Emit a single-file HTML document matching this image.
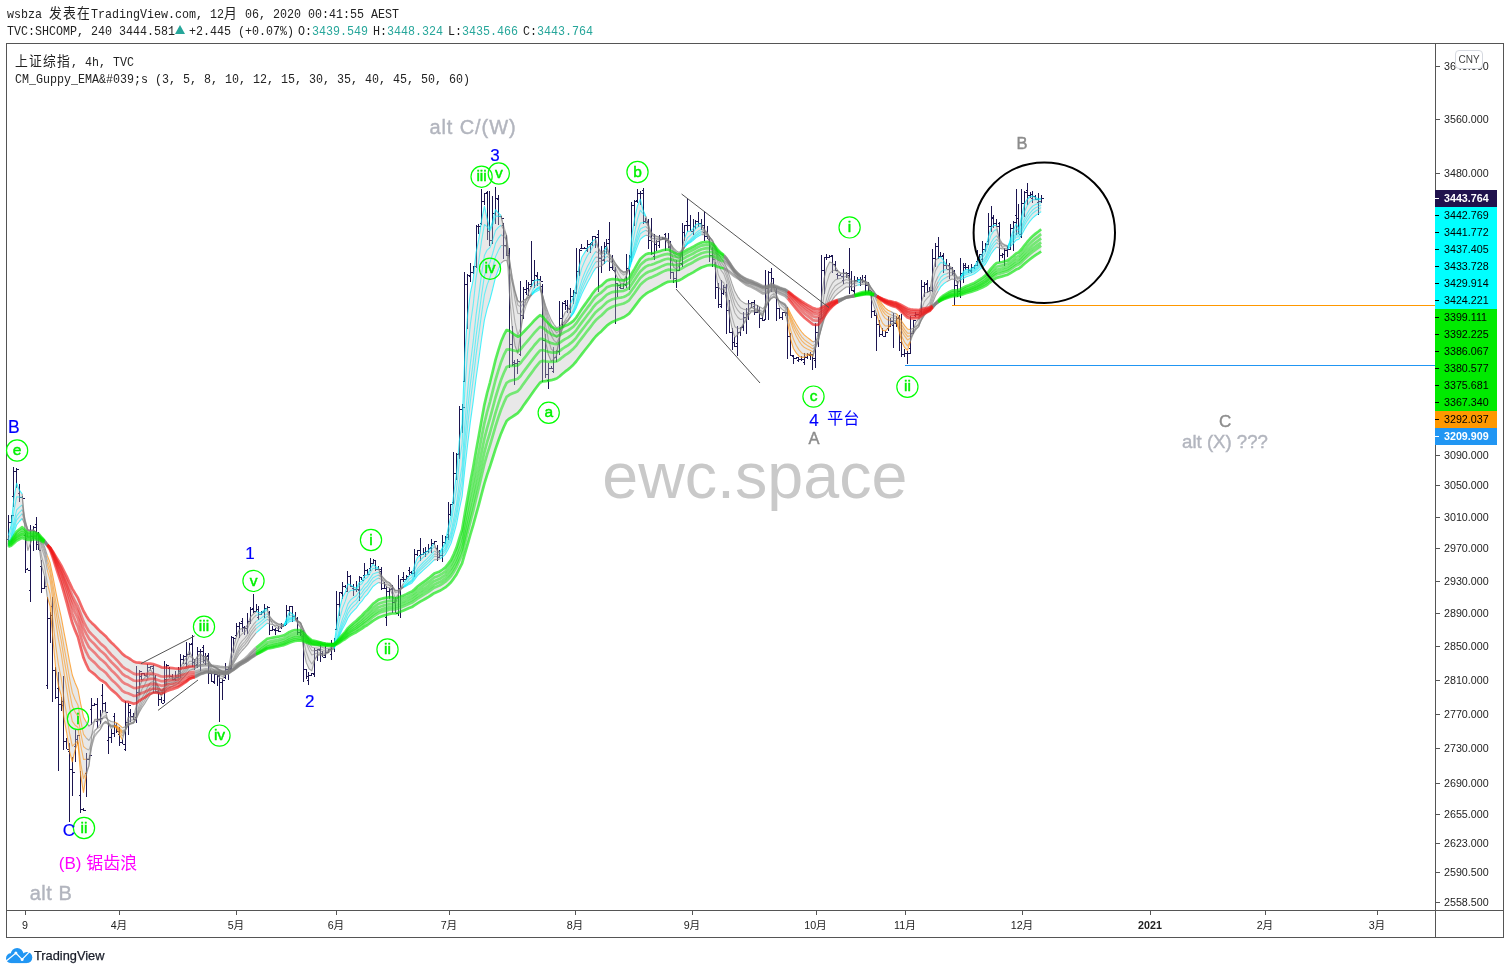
<!DOCTYPE html>
<html lang="zh"><head><meta charset="utf-8"><title>SHCOMP chart</title>
<style>
html,body{margin:0;padding:0;background:#fff;}
body{width:1510px;height:974px;position:relative;overflow:hidden;font-family:"Liberation Mono", "Noto Sans CJK SC", monospace;color:#222;}
.h{position:absolute;white-space:pre;font-size:12.75px;line-height:14px;transform-origin:0 0;transform:scaleX(0.915);letter-spacing:0;}
.h .cj{font-size:14px;letter-spacing:1.3px}
.t{color:#26a69a}
.tri{position:absolute;left:175px;top:25px;width:0;height:0;border-left:5.2px solid transparent;border-right:5.2px solid transparent;border-bottom:9px solid #26a69a}
</style></head><body>
<div class="h" style="left:6.7px;top:7px">wsbza <span class="cj">发表在</span>TradingView.com, 12<span class="cj">月</span> 06, 2020 00:41:55 AEST</div>
<div class="h" style="left:6.7px;top:25px">TVC:SHCOMP, 240 3444.581</div>
<div class="tri"></div>
<div class="h" style="left:188.7px;top:25px">+2.445 (+0.07%)</div>
<div class="h" style="left:298px;top:25px">O:<span class="t">3439.549</span></div>
<div class="h" style="left:373px;top:25px">H:<span class="t">3448.324</span></div>
<div class="h" style="left:448px;top:25px">L:<span class="t">3435.466</span></div>
<div class="h" style="left:523px;top:25px">C:<span class="t">3443.764</span></div>
<div class="h" style="left:14.7px;top:54.5px"><span class="cj">上证综指</span>, 4h, TVC</div>
<div class="h" style="left:15px;top:72.5px">CM_Guppy_EMA&amp;#039;s (3, 5, 8, 10, 12, 15, 30, 35, 40, 45, 50, 60)</div>
<svg width="1510" height="974" viewBox="0 0 1510 974" style="position:absolute;left:0;top:0" font-family='&quot;Liberation Sans&quot;, &quot;Noto Sans CJK SC&quot;, sans-serif'>
<g stroke="#555" stroke-width="1" fill="none" shape-rendering="crispEdges">
<rect x="6.5" y="43.5" width="1497" height="894"/>
<line x1="1435.5" y1="43.5" x2="1435.5" y2="937.5"/>
<line x1="6.5" y1="910.5" x2="1503.5" y2="910.5"/>
</g>
<text x="754.8" y="498" text-anchor="middle" font-size="64.6" fill="#c9c9c9" font-family="&quot;Liberation Sans&quot;, sans-serif">ewc.space</text>
<defs><clipPath id="pane"><rect x="7" y="44" width="1428" height="866"/></clipPath></defs>
<g clip-path="url(#pane)">
<path d="M8.5 515.2V545.3M6.5 539.5H8.5M8.5 522.5H10.5M11.5 515.3V522.0M9.5 522.5H11.5M11.5 515.5H13.5M13.5 466.9V507.3M11.5 496.5H13.5M13.5 471.5H15.5M16.5 468.1V488.0M14.5 471.5H16.5M16.5 469.5H18.5M19.5 483.9V501.8M17.5 493.5H19.5M19.5 497.5H21.5M22.5 496.4V498.2M20.5 497.5H22.5M22.5 498.5H24.5M25.5 533.3V572.5M23.5 535.5H25.5M25.5 569.5H27.5M27.5 568.1V569.9M25.5 569.5H27.5M27.5 570.5H29.5M30.5 524.6V601.7M28.5 590.5H30.5M30.5 536.5H32.5M33.5 526.4V550.5M31.5 536.5H33.5M33.5 527.5H35.5M36.5 516.7V550.0M34.5 524.5H36.5M36.5 544.5H38.5M38.5 531.8V549.8M36.5 544.5H38.5M38.5 550.5H40.5M41.5 560.4V592.7M39.5 566.5H41.5M41.5 588.5H43.5M44.5 576.2V588.2M42.5 588.5H44.5M44.5 586.5H46.5M47.5 596.8V689.0M45.5 685.5H47.5M47.5 618.5H49.5M50.5 612.4V642.5M48.5 618.5H50.5M50.5 615.5H52.5M52.5 596.8V701.7M50.5 606.5H52.5M52.5 670.5H54.5M55.5 667.4V698.8M53.5 670.5H55.5M55.5 697.5H57.5M58.5 672.1V770.8M56.5 688.5H58.5M58.5 704.5H60.5M61.5 696.5V710.9M59.5 704.5H61.5M61.5 705.5H63.5M63.5 675.5V749.9M61.5 701.5H63.5M63.5 741.5H65.5M66.5 738.4V749.3M64.5 741.5H66.5M66.5 749.5H68.5M69.5 742.9V822.2M67.5 751.5H69.5M69.5 769.5H71.5M72.5 757.3V796.2M70.5 769.5H72.5M72.5 772.5H74.5M75.5 730.0V762.1M73.5 746.5H75.5M75.5 739.5H77.5M77.5 734.6V743.5M75.5 739.5H77.5M77.5 735.5H79.5M80.5 770.8V813.3M78.5 795.5H80.5M80.5 809.5H82.5M83.5 808.4V811.2M81.5 809.5H83.5M83.5 810.5H85.5M86.5 753.4V797.3M84.5 773.5H86.5M86.5 759.5H88.5M89.5 754.7V760.1M87.5 759.5H89.5M89.5 755.5H91.5M91.5 698.3V724.8M89.5 709.5H91.5M91.5 705.5H93.5M94.5 702.8V705.7M92.5 705.5H94.5M94.5 704.5H96.5M97.5 698.3V728.3M95.5 721.5H97.5M97.5 719.5H99.5M100.5 709.6V723.8M98.5 719.5H100.5M100.5 718.5H102.5M102.5 683.9V712.8M100.5 695.5H102.5M102.5 703.5H104.5M105.5 701.6V711.8M103.5 703.5H105.5M105.5 712.5H107.5M108.5 723.1V754.2M106.5 740.5H108.5M108.5 737.5H110.5M111.5 728.9V742.7M109.5 737.5H111.5M111.5 733.5H113.5M114.5 712.8V736.9M112.5 716.5H114.5M114.5 725.5H116.5M116.5 723.4V733.1M114.5 725.5H116.5M116.5 731.5H118.5M119.5 726.7V746.0M117.5 734.5H119.5M119.5 742.5H121.5M122.5 738.9V744.3M120.5 742.5H122.5M122.5 744.5H124.5M125.5 700.8V750.5M123.5 749.5H125.5M125.5 722.5H127.5M128.5 702.7V735.4M126.5 722.5H128.5M128.5 705.5H130.5M130.5 709.1V721.8M128.5 712.5H130.5M130.5 716.5H132.5M133.5 713.0V719.6M131.5 716.5H133.5M133.5 719.5H135.5M136.5 666.0V723.1M134.5 717.5H136.5M136.5 692.5H138.5M139.5 669.5V695.0M137.5 692.5H139.5M139.5 671.5H141.5M141.5 673.2V680.4M139.5 676.5H141.5M141.5 673.5H143.5M144.5 673.2V675.6M142.5 673.5H144.5M144.5 675.5H146.5M147.5 663.8V678.2M145.5 676.5H147.5M147.5 667.5H149.5M150.5 665.5V668.7M148.5 667.5H150.5M150.5 666.5H152.5M153.5 665.1V692.7M151.5 668.5H153.5M153.5 678.5H155.5M155.5 675.0V691.8M153.5 678.5H155.5M155.5 691.5H157.5M158.5 689.6V705.8M156.5 692.5H158.5M158.5 699.5H160.5M161.5 697.2V702.8M159.5 699.5H161.5M161.5 703.5H163.5M164.5 661.3V703.3M162.5 700.5H164.5M164.5 679.5H166.5M166.5 664.2V685.1M164.5 679.5H166.5M166.5 665.5H168.5M169.5 666.7V678.3M167.5 668.5H169.5M169.5 676.5H171.5M172.5 673.6V680.0M170.5 676.5H172.5M172.5 679.5H174.5M175.5 671.1V680.6M173.5 678.5H175.5M175.5 677.5H177.5M178.5 667.4V677.1M176.5 677.5H178.5M178.5 671.5H180.5M180.5 654.0V678.3M178.5 673.5H180.5M180.5 659.5H182.5M183.5 655.3V664.2M181.5 659.5H183.5M183.5 656.5H185.5M186.5 641.6V667.2M184.5 663.5H186.5M186.5 654.5H188.5M189.5 642.9V655.3M187.5 654.5H189.5M189.5 644.5H191.5M192.5 634.6V666.5M190.5 643.5H192.5M192.5 662.5H194.5M194.5 658.8V669.5M192.5 662.5H194.5M194.5 665.5H196.5M197.5 647.3V668.0M195.5 664.5H197.5M197.5 651.5H199.5M200.5 649.1V670.5M198.5 651.5H200.5M200.5 651.5H202.5M203.5 644.5V662.9M201.5 647.5H203.5M203.5 660.5H205.5M205.5 653.3V665.0M203.5 660.5H205.5M205.5 656.5H207.5M208.5 652.7V684.0M206.5 655.5H208.5M208.5 673.5H210.5M211.5 672.4V681.5M209.5 673.5H211.5M211.5 681.5H213.5M214.5 671.0V683.9M212.5 682.5H214.5M214.5 674.5H216.5M217.5 673.7V685.5M215.5 674.5H217.5M217.5 675.5H219.5M219.5 673.9V722.0M217.5 676.5H219.5M219.5 682.5H221.5M222.5 679.3V700.4M220.5 682.5H222.5M222.5 680.5H224.5M225.5 663.4V678.5M223.5 677.5H225.5M225.5 669.5H227.5M228.5 666.5V679.9M226.5 669.5H228.5M228.5 669.5H230.5M231.5 636.2V670.1M229.5 668.5H231.5M231.5 637.5H233.5M233.5 636.8V652.7M231.5 637.5H233.5M233.5 638.5H235.5M236.5 623.3V637.1M234.5 635.5H236.5M236.5 626.5H238.5M239.5 621.6V638.2M237.5 626.5H239.5M239.5 623.5H241.5M242.5 618.4V631.9M240.5 621.5H242.5M242.5 627.5H244.5M244.5 626.3V634.8M242.5 627.5H244.5M244.5 628.5H246.5M247.5 612.7V633.8M245.5 628.5H247.5M247.5 621.5H249.5M250.5 607.2V624.2M248.5 621.5H250.5M250.5 609.5H252.5M253.5 594.0V613.3M251.5 608.5H253.5M253.5 611.5H255.5M256.5 603.8V611.8M254.5 611.5H256.5M256.5 609.5H258.5M258.5 606.0V620.3M256.5 617.5H258.5M258.5 614.5H260.5M261.5 611.4V613.9M259.5 614.5H261.5M261.5 612.5H263.5M264.5 604.2V617.8M262.5 611.5H264.5M264.5 608.5H266.5M267.5 606.4V610.0M265.5 608.5H267.5M267.5 607.5H269.5M269.5 611.0V635.0M267.5 612.5H269.5M269.5 630.5H271.5M272.5 626.1V629.8M270.5 630.5H272.5M272.5 629.5H274.5M275.5 627.6V634.6M273.5 630.5H275.5M275.5 630.5H277.5M278.5 626.1V631.6M276.5 630.5H278.5M278.5 631.5H280.5M281.5 623.3V628.7M279.5 627.5H281.5M281.5 626.5H283.5M283.5 624.5V626.7M281.5 626.5H283.5M283.5 625.5H285.5M286.5 604.6V624.6M284.5 621.5H286.5M286.5 610.5H288.5M289.5 606.1V615.9M287.5 610.5H289.5M289.5 606.5H291.5M292.5 606.3V622.4M290.5 606.5H292.5M292.5 616.5H294.5M295.5 611.9V620.0M293.5 616.5H295.5M295.5 618.5H297.5M297.5 616.7V634.5M295.5 620.5H297.5M297.5 632.5H299.5M300.5 630.4V636.4M298.5 632.5H300.5M300.5 631.5H302.5M303.5 629.6V681.5M301.5 636.5H303.5M303.5 669.5H305.5M306.5 669.2V678.5M304.5 669.5H306.5M306.5 676.5H308.5M308.5 671.8V684.7M306.5 680.5H308.5M308.5 675.5H310.5M311.5 673.0V676.3M309.5 675.5H311.5M311.5 673.5H313.5M314.5 647.6V677.4M312.5 674.5H314.5M314.5 650.5H316.5M317.5 648.6V660.8M315.5 650.5H317.5M317.5 649.5H319.5M320.5 644.9V661.6M318.5 650.5H320.5M320.5 653.5H322.5M322.5 650.7V657.2M320.5 653.5H322.5M322.5 657.5H324.5M325.5 645.7V657.5M323.5 655.5H325.5M325.5 652.5H327.5M328.5 648.5V652.9M326.5 652.5H328.5M328.5 649.5H330.5M331.5 639.8V659.7M329.5 654.5H331.5M331.5 643.5H333.5M334.5 637.8V651.7M332.5 643.5H334.5M334.5 644.5H336.5M336.5 591.1V629.6M334.5 629.5H336.5M336.5 604.5H338.5M339.5 592.1V616.3M337.5 604.5H339.5M339.5 592.5H341.5M342.5 582.2V598.9M340.5 593.5H342.5M342.5 586.5H344.5M345.5 585.4V587.7M343.5 586.5H345.5M345.5 588.5H347.5M347.5 570.9V592.0M345.5 591.5H347.5M347.5 576.5H349.5M350.5 575.4V587.0M348.5 576.5H350.5M350.5 586.5H352.5M353.5 584.1V596.1M351.5 588.5H353.5M353.5 589.5H355.5M356.5 581.3V592.4M354.5 589.5H356.5M356.5 589.5H358.5M359.5 575.6V600.8M357.5 590.5H359.5M359.5 577.5H361.5M361.5 577.0V580.4M359.5 577.5H361.5M361.5 580.5H363.5M364.5 563.0V578.2M362.5 575.5H364.5M364.5 570.5H366.5M367.5 569.1V575.0M365.5 570.5H367.5M367.5 574.5H369.5M370.5 558.4V571.1M368.5 568.5H370.5M370.5 563.5H372.5M373.5 559.2V563.3M371.5 563.5H373.5M373.5 560.5H375.5M375.5 559.9V570.7M373.5 560.5H375.5M375.5 569.5H377.5M378.5 566.0V569.7M376.5 569.5H378.5M378.5 569.5H380.5M381.5 567.4V589.8M379.5 571.5H381.5M381.5 588.5H383.5M384.5 582.1V588.3M382.5 588.5H384.5M384.5 588.5H386.5M386.5 586.0V626.0M384.5 617.5H386.5M386.5 591.5H388.5M389.5 587.5V599.2M387.5 591.5H389.5M389.5 589.5H391.5M392.5 584.8V613.2M390.5 588.5H392.5M392.5 602.5H394.5M395.5 596.7V613.2M393.5 602.5H395.5M395.5 613.5H397.5M398.5 574.6V616.0M396.5 613.5H398.5M398.5 588.5H400.5M400.5 578.6V617.9M398.5 588.5H400.5M400.5 579.5H402.5M403.5 571.8V582.4M401.5 577.5H403.5M403.5 579.5H405.5M406.5 575.0V579.9M404.5 579.5H406.5M406.5 576.5H408.5M409.5 567.1V574.7M407.5 570.5H409.5M409.5 572.5H411.5M411.5 570.9V573.6M409.5 572.5H411.5M411.5 573.5H413.5M414.5 549.2V576.8M412.5 570.5H414.5M414.5 554.5H416.5M417.5 550.3V556.0M415.5 554.5H417.5M417.5 550.5H419.5M420.5 538.0V561.1M418.5 555.5H420.5M420.5 554.5H422.5M423.5 548.3V554.1M421.5 554.5H423.5M423.5 552.5H425.5M425.5 546.9V557.1M423.5 552.5H425.5M425.5 551.5H427.5M428.5 544.4V552.9M426.5 551.5H428.5M428.5 548.5H430.5M431.5 538.8V552.6M429.5 547.5H431.5M431.5 543.5H433.5M434.5 540.8V544.5M432.5 543.5H434.5M434.5 541.5H436.5M437.5 545.1V560.7M435.5 548.5H437.5M437.5 557.5H439.5M439.5 550.4V558.2M437.5 557.5H439.5M439.5 555.5H441.5M442.5 534.9V561.7M440.5 555.5H442.5M442.5 542.5H444.5M445.5 535.9V544.2M443.5 542.5H445.5M445.5 537.5H447.5M448.5 502.4V539.7M446.5 534.5H448.5M448.5 514.5H450.5M450.5 503.8V516.3M448.5 514.5H450.5M450.5 504.5H452.5M453.5 452.4V503.9M451.5 502.5H453.5M453.5 473.5H455.5M456.5 453.3V480.3M454.5 473.5H456.5M456.5 454.5H458.5M459.5 405.5V458.8M457.5 453.5H459.5M459.5 409.5H461.5M462.5 403.5V432.9M460.5 409.5H462.5M462.5 407.5H464.5M464.5 272.3V381.3M462.5 381.5H464.5M464.5 284.5H466.5M467.5 273.8V328.8M465.5 284.5H467.5M467.5 275.5H469.5M470.5 263.4V282.4M468.5 276.5H470.5M470.5 272.5H472.5M473.5 265.9V273.8M471.5 272.5H473.5M473.5 266.5H475.5M476.5 225.1V268.1M474.5 266.5H476.5M476.5 226.5H478.5M478.5 224.2V233.8M476.5 226.5H478.5M478.5 226.5H480.5M481.5 188.6V225.3M479.5 223.5H481.5M481.5 201.5H483.5M484.5 192.5V205.0M482.5 201.5H484.5M484.5 193.5H486.5M487.5 191.4V239.9M485.5 192.5H487.5M487.5 231.5H489.5M489.5 190.7V246.0M487.5 231.5H489.5M489.5 240.5H491.5M492.5 196.1V243.6M490.5 240.5H492.5M492.5 213.5H494.5M495.5 187.3V224.1M493.5 213.5H495.5M495.5 198.5H497.5M498.5 195.4V224.6M496.5 199.5H498.5M498.5 216.5H500.5M501.5 215.9V218.6M499.5 216.5H501.5M501.5 218.5H503.5M503.5 223.0V259.4M501.5 225.5H503.5M503.5 245.5H505.5M506.5 234.9V255.5M504.5 245.5H506.5M506.5 255.5H508.5M509.5 247.5V367.9M507.5 253.5H509.5M509.5 344.5H511.5M512.5 326.3V365.6M510.5 344.5H512.5M512.5 364.5H514.5M514.5 360.4V385.0M512.5 362.5H514.5M514.5 363.5H516.5M517.5 359.0V373.9M515.5 363.5H517.5M517.5 361.5H519.5M520.5 280.9V355.8M518.5 354.5H520.5M520.5 315.5H522.5M523.5 286.9V319.4M521.5 315.5H523.5M523.5 289.5H525.5M526.5 280.3V294.6M524.5 292.5H526.5M526.5 288.5H528.5M528.5 282.3V296.1M526.5 288.5H528.5M528.5 284.5H530.5M531.5 241.0V287.3M529.5 286.5H531.5M531.5 280.5H533.5M534.5 259.9V287.9M532.5 280.5H534.5M534.5 275.5H536.5M537.5 272.3V285.9M535.5 276.5H537.5M537.5 279.5H539.5M540.5 275.9V281.0M538.5 279.5H540.5M540.5 281.5H542.5M542.5 284.3V382.0M540.5 286.5H542.5M542.5 340.5H544.5M545.5 334.3V377.9M543.5 340.5H545.5M545.5 374.5H547.5M548.5 362.8V389.0M546.5 380.5H548.5M548.5 368.5H550.5M551.5 365.5V369.2M549.5 368.5H551.5M551.5 368.5H553.5M553.5 347.3V373.2M551.5 371.5H553.5M553.5 357.5H555.5M556.5 350.0V362.3M554.5 357.5H556.5M556.5 351.5H558.5M559.5 301.0V354.5M557.5 351.5H559.5M559.5 318.5H561.5M562.5 302.0V327.8M560.5 318.5H562.5M562.5 303.5H564.5M565.5 300.2V309.7M563.5 301.5H565.5M565.5 305.5H567.5M567.5 299.5V312.7M565.5 305.5H567.5M567.5 308.5H569.5M570.5 287.6V312.7M568.5 309.5H570.5M570.5 296.5H572.5M573.5 289.9V304.3M571.5 296.5H573.5M573.5 292.5H575.5M576.5 247.6V294.4M574.5 293.5H576.5M576.5 271.5H578.5M579.5 249.3V275.6M577.5 271.5H579.5M579.5 250.5H581.5M581.5 244.1V249.4M579.5 248.5H581.5M581.5 248.5H583.5M584.5 247.4V248.3M582.5 248.5H584.5M584.5 248.5H586.5M587.5 239.6V252.0M585.5 250.5H587.5M587.5 244.5H589.5M590.5 242.7V253.2M588.5 244.5H590.5M590.5 244.5H592.5M592.5 235.8V245.7M590.5 242.5H592.5M592.5 236.5H594.5M595.5 235.8V248.4M593.5 236.5H595.5M595.5 237.5H597.5M598.5 230.1V292.0M596.5 234.5H598.5M598.5 258.5H600.5M601.5 246.0V273.4M599.5 258.5H601.5M601.5 260.5H603.5M604.5 241.9V263.8M602.5 259.5H604.5M604.5 246.5H606.5M606.5 239.2V254.0M604.5 246.5H606.5M606.5 243.5H608.5M609.5 222.0V271.2M607.5 239.5H609.5M609.5 267.5H611.5M612.5 254.5V270.4M610.5 267.5H612.5M612.5 270.5H614.5M615.5 266.7V324.0M613.5 271.5H615.5M615.5 283.5H617.5M617.5 283.2V296.9M615.5 283.5H617.5M617.5 285.5H619.5M620.5 284.4V288.8M618.5 287.5H620.5M620.5 288.5H622.5M623.5 282.6V288.5M621.5 288.5H623.5M623.5 284.5H625.5M626.5 254.2V288.1M624.5 285.5H626.5M626.5 268.5H628.5M629.5 255.3V290.1M627.5 268.5H629.5M629.5 256.5H631.5M631.5 201.9V261.5M629.5 257.5H631.5M631.5 205.5H633.5M634.5 199.8V225.5M632.5 205.5H634.5M634.5 201.5H636.5M637.5 189.4V203.3M635.5 200.5H637.5M637.5 193.5H639.5M640.5 191.4V205.3M638.5 193.5H640.5M640.5 193.5H642.5M643.5 187.6V223.6M641.5 190.5H643.5M643.5 221.5H645.5M645.5 218.2V222.7M643.5 221.5H645.5M645.5 222.5H647.5M648.5 219.2V248.9M646.5 221.5H648.5M648.5 240.5H650.5M651.5 218.3V254.8M649.5 240.5H651.5M651.5 253.5H653.5M654.5 233.9V260.1M652.5 256.5H654.5M654.5 244.5H656.5M656.5 240.1V251.1M654.5 244.5H656.5M656.5 241.5H658.5M659.5 235.4V247.6M657.5 245.5H659.5M659.5 239.5H661.5M662.5 237.0V240.2M660.5 239.5H662.5M662.5 238.5H664.5M665.5 233.1V251.3M663.5 234.5H665.5M665.5 240.5H667.5M668.5 232.6V248.4M666.5 240.5H668.5M668.5 246.5H670.5M670.5 240.7V278.7M668.5 247.5H670.5M670.5 272.5H672.5M673.5 271.5V283.1M671.5 272.5H673.5M673.5 278.5H675.5M676.5 259.5V288.2M674.5 280.5H676.5M676.5 270.5H678.5M679.5 263.0V270.1M677.5 270.5H679.5M679.5 263.5H681.5M682.5 222.9V266.6M680.5 264.5H682.5M682.5 232.5H684.5M684.5 224.6V240.5M682.5 232.5H684.5M684.5 225.5H686.5M687.5 198.0V232.2M685.5 221.5H687.5M687.5 225.5H689.5M690.5 214.7V231.2M688.5 225.5H690.5M690.5 231.5H692.5M693.5 218.9V234.8M691.5 231.5H693.5M693.5 226.5H695.5M695.5 219.8V229.2M693.5 226.5H695.5M695.5 221.5H697.5M698.5 212.2V227.0M696.5 221.5H698.5M698.5 223.5H700.5M701.5 218.6V229.8M699.5 223.5H701.5M701.5 225.5H703.5M704.5 211.0V241.1M702.5 232.5H704.5M704.5 236.5H706.5M707.5 225.8V238.8M705.5 236.5H707.5M707.5 239.5H709.5M709.5 235.7V262.4M707.5 239.5H709.5M709.5 255.5H711.5M712.5 247.0V267.1M710.5 255.5H712.5M712.5 259.5H714.5M715.5 261.9V299.4M713.5 264.5H715.5M715.5 287.5H717.5M718.5 283.0V307.5M716.5 287.5H718.5M718.5 304.5H720.5M721.5 279.8V307.9M719.5 306.5H721.5M721.5 293.5H723.5M723.5 285.1V294.9M721.5 293.5H723.5M723.5 287.5H725.5M726.5 284.3V334.2M724.5 292.5H726.5M726.5 310.5H728.5M729.5 300.2V332.8M727.5 310.5H729.5M729.5 332.5H731.5M732.5 327.5V350.0M730.5 332.5H732.5M732.5 342.5H734.5M734.5 337.1V347.4M732.5 342.5H734.5M734.5 346.5H736.5M737.5 325.7V356.0M735.5 343.5H737.5M737.5 332.5H739.5M740.5 326.9V335.5M738.5 332.5H740.5M740.5 327.5H742.5M743.5 311.7V331.0M741.5 326.5H743.5M743.5 317.5H745.5M746.5 308.3V334.1M744.5 317.5H746.5M746.5 314.5H748.5M748.5 300.0V319.7M746.5 314.5H748.5M748.5 303.5H750.5M751.5 301.8V308.1M749.5 303.5H751.5M751.5 302.5H753.5M754.5 299.7V314.5M752.5 306.5H754.5M754.5 312.5H756.5M757.5 305.3V312.5M755.5 312.5H757.5M757.5 310.5H759.5M759.5 307.2V327.6M757.5 310.5H759.5M759.5 318.5H761.5M762.5 314.5V321.2M760.5 318.5H762.5M762.5 320.5H764.5M765.5 269.5V319.7M763.5 319.5H765.5M765.5 288.5H767.5M768.5 271.3V320.3M766.5 288.5H768.5M768.5 272.5H770.5M771.5 267.9V291.5M769.5 272.5H771.5M771.5 278.5H773.5M773.5 277.9V287.6M771.5 278.5H773.5M773.5 287.5H775.5M776.5 288.2V321.4M774.5 292.5H776.5M776.5 308.5H778.5M779.5 307.5V319.0M777.5 308.5H779.5M779.5 317.5H781.5M782.5 312.0V320.1M780.5 317.5H782.5M782.5 312.5H784.5M785.5 312.0V316.0M783.5 312.5H785.5M785.5 313.5H787.5M787.5 307.3V359.3M785.5 312.5H787.5M787.5 336.5H789.5M790.5 333.3V356.2M788.5 336.5H790.5M790.5 355.5H792.5M793.5 354.8V364.0M791.5 356.5H793.5M793.5 358.5H795.5M796.5 356.6V358.9M794.5 358.5H796.5M796.5 357.5H798.5M798.5 357.1V362.1M796.5 360.5H798.5M798.5 359.5H800.5M801.5 355.6V360.6M799.5 359.5H801.5M801.5 359.5H803.5M804.5 352.5V364.8M802.5 362.5H804.5M804.5 357.5H806.5M807.5 353.2V359.4M805.5 357.5H807.5M807.5 354.5H809.5M810.5 351.7V359.9M808.5 355.5H810.5M810.5 354.5H812.5M812.5 353.8V370.0M810.5 354.5H812.5M812.5 358.5H814.5M815.5 323.0V367.7M813.5 360.5H815.5M815.5 332.5H817.5M818.5 316.9V347.1M816.5 332.5H818.5M818.5 319.5H820.5M821.5 255.3V319.1M819.5 318.5H821.5M821.5 270.5H823.5M824.5 256.9V293.7M822.5 270.5H824.5M824.5 257.5H826.5M826.5 253.9V260.0M824.5 257.5H826.5M826.5 257.5H828.5M829.5 255.3V257.4M827.5 257.5H829.5M829.5 256.5H831.5M832.5 254.7V272.6M830.5 255.5H832.5M832.5 264.5H834.5M835.5 260.5V270.6M833.5 264.5H835.5M835.5 270.5H837.5M837.5 272.8V278.7M835.5 274.5H837.5M837.5 275.5H839.5M840.5 274.0V276.4M838.5 275.5H840.5M840.5 276.5H842.5M843.5 269.1V283.6M841.5 280.5H843.5M843.5 273.5H845.5M846.5 271.5V277.6M844.5 273.5H846.5M846.5 273.5H848.5M849.5 248.0V293.6M847.5 275.5H849.5M849.5 286.5H851.5M851.5 271.1V291.0M849.5 286.5H851.5M851.5 290.5H853.5M854.5 275.6V295.7M852.5 291.5H854.5M854.5 280.5H856.5M857.5 277.2V281.5M855.5 280.5H857.5M857.5 279.5H859.5M860.5 276.7V285.8M858.5 282.5H860.5M860.5 279.5H862.5M862.5 274.9V282.8M860.5 279.5H862.5M862.5 281.5H864.5M865.5 274.7V294.5M863.5 277.5H865.5M865.5 285.5H867.5M868.5 281.9V291.7M866.5 285.5H868.5M868.5 290.5H870.5M871.5 291.3V317.9M869.5 293.5H871.5M871.5 311.5H873.5M874.5 310.0V316.2M872.5 311.5H874.5M874.5 315.5H876.5M876.5 313.2V351.0M874.5 315.5H876.5M876.5 324.5H878.5M879.5 319.9V337.1M877.5 324.5H879.5M879.5 334.5H881.5M882.5 328.2V335.9M880.5 334.5H882.5M882.5 336.5H884.5M885.5 331.1V335.9M883.5 336.5H885.5M885.5 332.5H887.5M888.5 315.6V331.0M886.5 328.5H888.5M888.5 326.5H890.5M890.5 318.4V326.6M888.5 326.5H890.5M890.5 321.5H892.5M893.5 312.6V348.0M891.5 325.5H893.5M893.5 323.5H895.5M896.5 316.0V327.2M894.5 323.5H896.5M896.5 318.5H898.5M899.5 315.0V350.8M897.5 317.5H899.5M899.5 342.5H901.5M901.5 313.7V356.6M899.5 342.5H901.5M901.5 354.5H903.5M904.5 349.2V357.0M902.5 354.5H904.5M904.5 353.5H906.5M907.5 351.2V364.3M905.5 353.5H907.5M907.5 353.5H909.5M910.5 316.2V353.8M908.5 348.5H910.5M910.5 333.5H912.5M913.5 319.6V332.8M911.5 333.5H913.5M913.5 320.5H915.5M915.5 312.4V316.5M913.5 315.5H915.5M915.5 314.5H917.5M918.5 313.8V315.1M916.5 314.5H918.5M918.5 315.5H920.5M921.5 279.8V315.2M919.5 311.5H921.5M921.5 286.5H923.5M924.5 282.3V297.4M922.5 286.5H924.5M924.5 284.5H926.5M927.5 280.2V292.6M925.5 283.5H927.5M927.5 291.5H929.5M929.5 287.3V291.6M927.5 291.5H929.5M929.5 290.5H931.5M932.5 249.1V292.2M930.5 290.5H932.5M932.5 258.5H934.5M935.5 243.4V267.0M933.5 258.5H935.5M935.5 246.5H937.5M938.5 237.0V259.2M936.5 246.5H938.5M938.5 256.5H940.5M940.5 252.2V256.6M938.5 256.5H940.5M940.5 256.5H942.5M943.5 253.3V272.9M941.5 255.5H943.5M943.5 265.5H945.5M946.5 259.4V269.3M944.5 265.5H946.5M946.5 269.5H948.5M949.5 263.3V279.4M947.5 265.5H949.5M949.5 268.5H951.5M952.5 267.2V274.7M950.5 268.5H952.5M952.5 271.5H954.5M954.5 269.5V304.5M952.5 273.5H954.5M954.5 285.5H956.5M957.5 281.0V296.8M955.5 285.5H957.5M957.5 291.5H959.5M960.5 258.1V297.5M958.5 293.5H960.5M960.5 273.5H962.5M963.5 262.9V282.8M961.5 273.5H963.5M963.5 265.5H965.5M965.5 262.9V270.4M963.5 267.5H965.5M965.5 267.5H967.5M968.5 265.4V272.8M966.5 267.5H968.5M968.5 270.5H970.5M971.5 263.5V272.5M969.5 271.5H971.5M971.5 267.5H973.5M974.5 264.5V269.2M972.5 267.5H974.5M974.5 265.5H976.5M977.5 250.2V266.1M975.5 261.5H977.5M977.5 257.5H979.5M979.5 253.5V260.1M977.5 257.5H979.5M979.5 254.5H981.5M982.5 240.9V261.8M980.5 259.5H982.5M982.5 249.5H984.5M985.5 242.7V251.7M983.5 249.5H985.5M985.5 244.5H987.5M988.5 213.0V244.8M986.5 241.5H988.5M988.5 226.5H990.5M991.5 206.0V232.1M989.5 226.5H991.5M991.5 218.5H993.5M993.5 215.3V228.1M991.5 217.5H993.5M993.5 223.5H995.5M996.5 219.3V226.5M994.5 223.5H996.5M996.5 226.5H998.5M999.5 221.5V262.2M997.5 223.5H999.5M999.5 255.5H1001.5M1002.5 252.7V257.5M1000.5 255.5H1002.5M1002.5 254.5H1004.5M1004.5 247.7V266.0M1002.5 254.5H1004.5M1004.5 250.5H1006.5M1007.5 246.2V257.0M1005.5 250.5H1007.5M1007.5 249.5H1009.5M1010.5 223.5V249.8M1008.5 249.5H1010.5M1010.5 228.5H1012.5M1013.5 220.6V250.5M1011.5 228.5H1013.5M1013.5 222.5H1015.5M1016.5 189.3V235.0M1014.5 215.5H1016.5M1016.5 218.5H1018.5M1018.5 204.3V233.9M1016.5 218.5H1018.5M1018.5 234.5H1020.5M1021.5 188.6V237.8M1019.5 236.5H1021.5M1021.5 203.5H1023.5M1024.5 190.9V217.1M1022.5 203.5H1024.5M1024.5 192.5H1026.5M1027.5 183.1V205.0M1025.5 190.5H1027.5M1027.5 195.5H1029.5M1030.5 191.8V197.6M1028.5 195.5H1030.5M1030.5 194.5H1032.5M1032.5 191.0V203.0M1030.5 198.5H1032.5M1032.5 196.5H1034.5M1035.5 194.6V199.6M1033.5 196.5H1035.5M1035.5 199.5H1037.5M1038.5 193.0V215.0M1036.5 202.5H1038.5M1038.5 201.5H1040.5M1041.5 194.6V203.4M1039.5 201.5H1041.5M1041.5 198.5H1043.5" stroke="#1c1550" stroke-width="1" fill="none" shape-rendering="crispEdges"/>
<polygon points="6.0,540.5 8.3,535.5 11.1,525.4 13.9,497.9 16.6,483.2 19.4,490.2 22.2,493.9 25.0,531.3 27.8,550.5 30.6,543.1 33.4,535.1 36.1,539.4 38.9,544.5 41.7,566.1 44.5,575.9 47.3,596.9 50.1,606.1 52.8,637.7 55.6,667.3 58.4,685.5 61.2,695.4 64.0,718.2 66.8,733.6 69.5,751.1 72.3,761.8 75.1,750.1 77.9,742.4 80.7,775.7 83.5,792.5 86.2,775.6 89.0,765.2 91.8,735.1 94.6,719.4 97.4,719.4 100.2,718.7 103.0,710.9 105.7,711.4 108.5,723.9 111.3,728.6 114.1,726.6 116.9,728.6 119.7,735.1 122.4,739.6 125.2,730.7 128.0,717.6 130.8,716.7 133.6,717.8 136.4,705.0 139.1,687.7 141.9,680.5 144.7,677.8 147.5,672.3 150.3,669.3 153.1,673.5 155.8,682.2 158.6,690.7 161.4,696.6 164.2,687.6 167.0,676.3 169.8,676.1 172.6,677.4 175.3,677.0 178.1,674.2 180.9,666.8 183.7,661.3 186.5,657.4 189.3,650.7 192.0,656.4 194.8,660.9 197.6,655.7 200.4,653.5 203.2,656.6 206.0,656.2 208.7,664.4 211.5,672.7 214.3,673.4 217.1,674.2 219.9,678.2 222.7,678.9 225.4,674.1 228.2,671.7 231.0,654.3 233.8,646.0 236.6,635.9 239.4,629.4 242.2,628.4 244.9,628.4 247.7,624.7 250.5,616.8 253.3,614.0 256.1,611.6 258.9,612.6 261.6,612.2 264.4,610.0 267.2,608.3 270.0,619.0 272.8,624.2 275.6,627.0 278.3,628.9 281.1,627.3 283.9,626.2 286.7,617.9 289.5,612.0 292.3,614.0 295.0,616.2 297.8,623.9 300.6,627.6 303.4,648.3 306.2,662.4 309.0,668.7 311.8,670.9 314.5,660.6 317.3,654.9 320.1,654.0 322.9,655.6 325.7,653.6 328.5,651.5 331.2,647.1 334.0,645.6 336.8,624.9 339.6,608.6 342.4,597.5 345.2,592.5 347.9,584.1 350.7,585.0 353.5,587.1 356.3,588.2 359.1,582.7 361.9,581.3 364.6,575.5 367.4,574.9 370.2,569.0 373.0,564.3 375.8,566.8 378.6,568.1 381.4,578.0 384.1,582.9 386.9,587.2 389.7,588.1 392.5,594.8 395.3,603.9 398.1,595.9 400.8,587.6 403.6,583.4 406.4,579.6 409.2,575.8 412.0,574.4 414.8,564.3 417.5,557.3 420.3,555.6 423.1,553.9 425.9,552.3 428.7,550.1 431.5,546.6 434.2,543.7 437.0,550.3 439.8,552.8 442.6,547.4 445.4,542.0 448.2,527.8 451.0,516.0 453.7,494.2 456.5,474.1 459.3,441.1 462.1,423.9 464.9,352.9 467.7,313.7 470.4,292.8 473.2,279.6 476.0,252.8 478.8,239.2 481.6,219.8 484.4,206.3 487.1,218.5 489.9,229.1 492.7,221.2 495.5,209.6 498.3,212.9 501.1,215.3 503.8,230.3 506.6,242.7 509.4,292.8 512.2,328.3 515.0,345.7 517.8,353.5 520.6,334.0 523.3,311.2 526.1,299.5 528.9,291.6 531.7,286.0 534.5,280.5 537.3,279.9 540.0,280.4 542.8,309.8 545.6,341.7 548.4,354.8 551.2,361.3 554.0,359.2 556.7,355.1 559.5,336.4 562.3,319.4 565.1,312.3 567.9,310.3 570.7,303.1 573.4,297.3 576.2,284.0 579.0,267.2 581.8,257.3 584.6,252.6 587.4,248.2 590.2,245.9 592.9,240.8 595.7,239.1 598.5,248.4 601.3,254.3 604.1,250.2 606.9,246.3 609.6,256.6 612.4,263.3 615.2,273.3 618.0,279.1 620.8,283.8 623.6,283.9 626.3,275.7 629.1,265.8 631.9,235.2 634.7,218.1 637.5,205.7 640.3,199.2 643.0,209.9 645.8,216.1 648.6,228.1 651.4,240.7 654.2,242.4 657.0,241.9 659.8,240.5 662.5,239.3 665.3,239.8 668.1,243.1 670.9,257.5 673.7,267.5 676.5,268.8 679.2,265.9 682.0,249.1 684.8,237.2 687.6,231.3 690.4,231.2 693.2,228.6 695.9,224.6 698.7,223.7 701.5,224.2 704.3,230.1 707.1,234.3 709.9,244.7 712.6,252.0 715.4,269.6 718.2,286.8 721.0,289.9 723.8,288.4 726.6,299.0 729.4,315.2 732.1,328.7 734.9,337.3 737.7,334.6 740.5,331.0 743.3,323.8 746.1,318.9 748.8,311.1 751.6,306.4 754.4,309.4 757.2,309.9 760.0,313.9 762.8,317.0 765.5,302.5 768.3,287.0 771.1,282.5 773.9,284.6 776.7,296.5 779.5,306.9 782.2,309.4 785.0,311.4 787.8,323.9 790.6,339.2 793.4,348.5 796.2,352.9 799.0,356.2 801.7,357.4 804.5,357.1 807.3,355.4 810.1,354.9 812.9,356.6 815.7,344.4 818.4,331.6 821.2,300.4 824.0,278.7 826.8,267.7 829.6,261.9 832.4,263.1 835.1,266.4 837.9,270.7 840.7,273.2 843.5,273.2 846.3,273.0 849.1,279.5 851.8,284.6 854.6,282.3 857.4,280.5 860.2,279.9 863.0,280.4 865.8,282.8 868.6,286.3 871.3,298.7 874.1,306.6 876.9,315.1 879.7,324.6 882.5,330.3 885.3,331.0 888.0,328.3 890.8,324.6 893.6,323.7 896.4,321.0 899.2,331.6 902.0,342.6 904.7,347.7 907.5,350.4 910.3,341.6 913.1,330.5 915.9,322.3 918.7,318.7 921.4,302.2 924.2,293.3 927.0,292.3 929.8,291.2 932.6,274.4 935.4,260.3 938.2,258.1 940.9,257.0 943.7,260.9 946.5,264.8 949.3,266.4 952.1,268.7 954.9,277.1 957.6,284.3 960.4,278.8 963.2,272.0 966.0,269.4 968.8,269.8 971.6,268.5 974.3,266.7 977.1,261.9 979.9,257.9 982.7,253.7 985.5,248.6 988.3,237.4 991.0,227.6 993.8,225.1 996.6,225.6 999.4,240.4 1002.2,247.4 1005.0,248.7 1007.8,249.0 1010.5,238.4 1013.3,230.3 1016.1,223.9 1018.9,228.8 1021.7,215.9 1024.5,203.9 1027.2,199.3 1030.0,196.5 1032.8,196.1 1035.6,197.4 1038.4,199.0 1041.2,198.3 1041.2,211.6 1038.4,213.6 1035.6,215.5 1032.8,217.9 1030.0,221.1 1027.2,225.0 1024.5,229.4 1021.7,234.7 1018.9,239.3 1016.1,240.1 1013.3,243.4 1010.5,246.4 1007.8,249.0 1005.0,249.0 1002.2,248.9 999.4,248.1 996.6,247.1 993.8,250.1 991.0,254.0 988.3,259.2 985.5,264.0 982.7,266.9 979.9,269.4 977.1,271.7 974.3,273.7 971.6,275.0 968.8,276.1 966.0,277.0 963.2,278.4 960.4,280.3 957.6,281.3 954.9,279.8 952.1,279.0 949.3,280.2 946.5,281.9 943.7,283.8 940.9,286.5 938.2,290.9 935.4,296.0 932.6,303.2 929.8,309.7 927.0,312.6 924.2,315.6 921.4,320.1 918.7,325.0 915.9,326.5 913.1,328.2 910.3,329.5 907.5,329.0 904.7,325.6 902.0,321.7 899.2,317.2 896.4,313.7 893.6,313.0 890.8,311.6 888.0,310.3 885.3,308.1 882.5,304.7 879.7,300.3 876.9,295.5 874.1,291.5 871.3,288.2 868.6,284.9 865.8,284.3 863.0,284.1 860.2,284.6 857.4,285.3 854.6,286.3 851.8,287.2 849.1,286.8 846.3,287.0 843.5,289.0 840.7,291.2 837.9,293.5 835.1,296.1 832.4,299.9 829.6,305.1 826.8,312.1 824.0,320.1 821.2,329.3 818.4,337.9 815.7,340.7 812.9,341.9 810.1,339.5 807.3,337.4 804.5,335.1 801.7,332.0 799.0,328.2 796.2,323.8 793.4,319.0 790.6,313.6 787.8,307.8 785.0,303.7 782.2,302.3 779.5,300.9 776.7,298.6 773.9,297.2 771.1,298.7 768.3,301.7 765.5,306.0 762.8,308.6 760.0,306.9 757.2,305.4 754.4,304.6 751.6,303.5 748.8,303.8 746.1,303.9 743.3,302.4 740.5,300.4 737.7,296.6 734.9,291.6 732.1,283.9 729.4,275.7 726.6,267.8 723.8,261.9 721.0,258.3 718.2,253.4 715.4,246.2 712.6,240.4 709.9,237.7 707.1,235.2 704.3,234.8 701.5,234.6 698.7,236.0 695.9,237.9 693.2,240.4 690.4,242.5 687.6,244.1 684.8,246.8 682.0,249.9 679.2,252.4 676.5,250.9 673.7,248.2 670.9,244.0 668.1,240.0 665.3,239.1 662.5,238.9 659.8,239.1 657.0,239.1 654.2,238.7 651.4,238.0 648.6,235.8 645.8,235.2 643.0,237.0 640.3,239.4 637.5,246.1 634.7,253.7 631.9,261.3 629.1,269.5 626.3,271.4 623.6,272.0 620.8,270.3 618.0,267.7 615.2,265.2 612.4,262.6 609.6,261.6 606.9,260.8 604.1,263.5 601.3,266.0 598.5,266.8 595.7,268.1 592.9,272.5 590.2,277.8 587.4,282.7 584.6,288.3 581.8,294.1 579.0,300.8 576.2,308.1 573.4,313.5 570.7,316.7 567.9,319.6 565.1,321.3 562.3,323.6 559.5,326.6 556.7,327.8 554.0,324.5 551.2,319.9 548.4,313.2 545.6,305.4 542.8,295.8 540.0,289.6 537.3,290.9 534.5,292.5 531.7,295.0 528.9,297.1 526.1,299.0 523.3,300.6 520.6,302.3 517.8,300.6 515.0,292.0 512.2,282.0 509.4,270.5 506.6,260.2 503.8,260.9 501.1,263.1 498.3,269.7 495.5,277.4 492.7,289.0 489.9,300.0 487.1,308.8 484.4,320.1 481.6,338.8 478.8,359.3 476.0,379.0 473.2,401.6 470.4,421.6 467.7,443.7 464.9,468.8 462.1,496.5 459.3,509.6 456.5,524.3 453.7,534.5 451.0,543.5 448.2,549.2 445.4,554.3 442.6,556.8 439.8,559.0 437.0,559.5 434.2,559.9 431.5,562.6 428.7,565.4 425.9,567.9 423.1,570.4 420.3,573.0 417.5,575.7 414.8,579.3 412.0,583.0 409.2,584.4 406.4,586.1 403.6,587.6 400.8,588.8 398.1,590.2 395.3,590.5 392.5,587.3 389.7,585.3 386.9,584.7 384.1,583.8 381.4,583.2 378.6,582.5 375.8,584.4 373.0,586.5 370.2,590.4 367.4,594.4 364.6,597.2 361.9,601.2 359.1,604.2 356.3,608.1 353.5,610.8 350.7,613.9 347.9,618.0 345.2,624.1 342.4,629.3 339.6,635.5 336.8,641.7 334.0,647.1 331.2,647.6 328.5,648.2 325.7,648.1 322.9,647.6 320.1,646.2 317.3,645.3 314.5,644.7 311.8,643.9 309.0,639.7 306.2,634.8 303.4,628.8 300.6,623.1 297.8,622.0 295.0,620.6 292.3,620.9 289.5,621.6 286.7,623.8 283.9,625.9 281.1,626.0 278.3,626.0 275.6,625.3 272.8,624.7 270.0,624.0 267.2,623.2 264.4,625.6 261.6,628.1 258.9,630.5 256.1,632.9 253.3,636.3 250.5,639.9 247.7,644.4 244.9,647.7 242.2,650.5 239.4,653.8 236.6,658.2 233.8,662.9 231.0,666.5 228.2,670.7 225.4,671.0 222.7,671.2 219.9,670.0 217.1,668.3 214.3,667.3 211.5,666.3 208.7,664.2 206.0,663.0 203.2,664.1 200.4,664.7 197.6,666.6 194.8,668.9 192.0,669.4 189.3,670.5 186.5,674.3 183.7,677.3 180.9,680.4 178.1,683.4 175.3,685.1 172.6,686.3 169.8,687.4 167.0,689.1 164.2,692.5 161.4,694.5 158.6,693.3 155.8,692.5 153.1,692.7 150.3,694.9 147.5,699.0 144.7,703.6 141.9,707.7 139.1,712.7 136.4,718.8 133.6,722.6 130.8,723.1 128.0,724.1 125.2,726.9 122.4,727.7 119.7,725.3 116.9,723.0 114.1,721.9 111.3,721.5 108.5,719.9 105.7,717.5 103.0,718.3 100.2,720.5 97.4,720.9 94.6,721.1 91.8,723.6 89.0,726.1 86.2,722.1 83.5,716.9 80.7,703.9 77.9,689.2 75.1,682.8 72.3,675.0 69.5,661.4 66.8,646.4 64.0,632.1 61.2,616.9 58.4,604.6 55.6,590.7 52.8,575.9 50.1,562.8 47.3,555.4 44.5,546.5 41.7,541.0 38.9,534.4 36.1,532.2 33.4,530.5 30.6,531.0 27.8,530.4 25.0,524.8 22.2,518.5 19.4,521.5 16.6,525.0 13.9,533.2 11.1,542.2 8.3,546.1 6.0,548.0" fill="#c0c0c0" fill-opacity="0.36"/>
<polygon points="6.0,543.0 8.3,542.2 11.1,540.4 13.9,535.9 16.6,531.5 19.4,529.3 22.2,527.2 25.0,529.9 27.8,532.4 30.6,532.7 33.4,532.3 36.1,533.0 38.9,534.1 41.7,537.5 44.5,540.6 47.3,545.5 50.1,550.0 52.8,557.5 55.6,566.3 58.4,574.9 61.2,583.1 64.0,593.0 66.8,602.8 69.5,613.1 72.3,623.1 75.1,630.4 77.9,637.0 80.7,647.7 83.5,657.8 86.2,664.2 89.0,670.0 91.8,672.2 94.6,674.3 97.4,677.1 100.2,679.8 103.0,681.3 105.7,683.2 108.5,686.6 111.3,689.6 114.1,691.9 116.9,694.3 119.7,697.4 122.4,700.3 125.2,701.7 128.0,701.9 130.8,702.8 133.6,703.8 136.4,703.1 139.1,701.0 141.9,699.2 144.7,697.6 147.5,695.6 150.3,693.7 153.1,692.7 155.8,692.6 158.6,693.0 161.4,693.6 164.2,692.6 167.0,690.9 169.8,689.9 172.6,689.2 175.3,688.3 178.1,687.2 180.9,685.4 183.7,683.5 186.5,681.6 189.3,679.1 192.0,678.0 194.8,677.2 197.6,675.5 200.4,673.9 203.2,673.0 206.0,671.9 208.7,671.9 211.5,672.5 214.3,672.6 217.1,672.8 219.9,673.4 222.7,673.8 225.4,673.5 228.2,673.2 231.0,670.9 233.8,668.7 236.6,665.9 239.4,663.1 242.2,660.8 244.9,658.7 247.7,656.3 250.5,653.2 253.3,650.4 256.1,647.8 258.9,645.5 261.6,643.3 264.4,641.0 267.2,638.8 270.0,638.2 272.8,637.6 275.6,637.1 278.3,636.7 281.1,636.0 283.9,635.3 286.7,633.7 289.5,631.9 292.3,630.8 295.0,630.0 297.8,630.1 300.6,630.2 303.4,632.7 306.2,635.5 309.0,638.0 311.8,640.3 314.5,640.9 317.3,641.5 320.1,642.2 322.9,643.2 325.7,643.7 328.5,644.1 331.2,644.0 334.0,644.0 336.8,641.4 339.6,638.2 342.4,634.8 345.2,631.8 347.9,628.1 350.7,625.4 353.5,623.0 356.3,620.8 359.1,618.0 361.9,615.5 364.6,612.5 367.4,610.0 370.2,607.0 373.0,603.9 375.8,601.7 378.6,599.6 381.4,598.8 384.1,598.1 386.9,597.7 389.7,597.1 392.5,597.4 395.3,598.4 398.1,597.7 400.8,596.5 403.6,595.4 406.4,594.1 409.2,592.7 412.0,591.4 414.8,589.0 417.5,586.5 420.3,584.4 423.1,582.3 425.9,580.3 428.7,578.2 431.5,575.9 434.2,573.6 437.0,572.5 439.8,571.4 442.6,569.5 445.4,567.4 448.2,563.9 451.0,560.0 453.7,554.2 456.5,547.6 459.3,538.4 462.1,529.7 464.9,513.1 467.7,497.0 470.4,481.8 473.2,467.3 476.0,451.0 478.8,435.8 481.6,419.9 484.4,404.6 487.1,393.0 489.9,382.8 492.7,371.5 495.5,359.9 498.3,350.3 501.1,341.6 503.8,335.2 506.6,330.0 509.4,330.9 512.2,333.0 515.0,335.0 517.8,336.7 520.6,335.2 523.3,332.2 526.1,329.3 528.9,326.3 531.7,323.4 534.5,320.2 537.3,317.6 540.0,315.2 542.8,316.7 545.6,320.4 548.4,323.4 551.2,326.3 554.0,328.2 556.7,329.7 559.5,328.9 562.3,327.2 565.1,325.8 567.9,324.7 570.7,322.8 573.4,320.8 576.2,317.5 579.0,313.1 581.8,308.8 584.6,304.9 587.4,300.9 590.2,297.1 592.9,293.1 595.7,289.5 598.5,287.4 601.3,285.7 604.1,283.1 606.9,280.5 609.6,279.6 612.4,279.0 615.2,279.3 618.0,279.6 620.8,280.2 623.6,280.4 626.3,279.6 629.1,278.1 631.9,273.3 634.7,268.6 637.5,263.6 640.3,259.0 643.0,256.5 645.8,254.3 648.6,253.4 651.4,253.4 654.2,252.8 657.0,252.0 659.8,251.2 662.5,250.3 665.3,249.7 668.1,249.5 670.9,250.9 673.7,252.6 676.5,253.8 679.2,254.4 682.0,252.9 684.8,251.1 687.6,249.5 690.4,248.3 693.2,246.8 695.9,245.1 698.7,243.7 701.5,242.5 704.3,242.0 707.1,241.8 709.9,242.7 712.6,243.7 715.4,246.5 718.2,250.2 721.0,252.9 723.8,255.1 726.6,258.6 729.4,263.2 732.1,268.3 734.9,273.2 737.7,276.9 740.5,280.2 743.3,282.5 746.1,284.5 748.8,285.7 751.6,286.8 754.4,288.4 757.2,289.8 760.0,291.6 762.8,293.4 765.5,293.1 768.3,291.7 771.1,290.8 773.9,290.6 776.7,291.7 779.5,293.3 782.2,294.5 785.0,295.8 787.8,298.4 790.6,301.9 793.4,305.5 796.2,308.8 799.0,312.1 801.7,315.0 804.5,317.7 807.3,320.0 810.1,322.2 812.9,324.5 815.7,325.0 818.4,324.6 821.2,321.0 824.0,316.9 826.8,312.9 829.6,309.2 832.4,306.3 835.1,303.9 837.9,302.1 840.7,300.3 843.5,298.6 846.3,296.9 849.1,296.2 851.8,295.8 854.6,294.8 857.4,293.7 860.2,292.8 863.0,292.0 865.8,291.6 868.6,291.5 871.3,292.7 874.1,294.1 876.9,296.0 879.7,298.5 882.5,300.9 885.3,302.8 888.0,304.3 890.8,305.4 893.6,306.5 896.4,307.3 899.2,309.5 902.0,312.3 904.7,314.9 907.5,317.4 910.3,318.4 913.1,318.4 915.9,318.2 918.7,318.0 921.4,315.9 924.2,313.8 927.0,312.4 929.8,310.9 932.6,307.5 935.4,303.5 938.2,300.4 940.9,297.5 943.7,295.3 946.5,293.6 949.3,292.0 952.1,290.6 954.9,290.3 957.6,290.3 960.4,289.2 963.2,287.7 966.0,286.3 968.8,285.3 971.6,284.1 974.3,282.9 977.1,281.2 979.9,279.4 982.7,277.5 985.5,275.3 988.3,272.1 991.0,268.6 993.8,265.6 996.6,263.0 999.4,262.5 1002.2,262.0 1005.0,261.2 1007.8,260.4 1010.5,258.3 1013.3,256.0 1016.1,253.5 1018.9,252.2 1021.7,249.0 1024.5,245.3 1027.2,242.0 1030.0,238.8 1032.8,236.0 1035.6,233.6 1038.4,231.5 1041.2,229.3 1041.2,251.5 1038.4,253.4 1035.6,255.2 1032.8,257.1 1030.0,259.3 1027.2,261.5 1024.5,263.8 1021.7,266.3 1018.9,268.4 1016.1,269.6 1013.3,271.4 1010.5,273.1 1007.8,274.7 1005.0,275.5 1002.2,276.4 999.4,277.1 996.6,277.9 993.8,279.7 991.0,281.6 988.3,283.8 985.5,285.8 982.7,287.2 979.9,288.5 977.1,289.7 974.3,290.8 971.6,291.7 968.8,292.5 966.0,293.3 963.2,294.2 960.4,295.2 957.6,295.9 954.9,296.1 952.1,296.4 949.3,297.3 946.5,298.3 943.7,299.3 940.9,300.5 938.2,302.0 935.4,303.6 932.6,305.6 929.8,307.2 927.0,307.8 924.2,308.3 921.4,309.2 918.7,310.0 915.9,309.8 913.1,309.6 910.3,309.3 907.5,308.5 904.7,307.0 902.0,305.5 899.2,303.9 896.4,302.6 893.6,302.0 890.8,301.3 888.0,300.7 885.3,299.8 882.5,298.8 879.7,297.5 876.9,296.3 874.1,295.4 871.3,294.7 868.6,294.1 865.8,294.3 863.0,294.6 860.2,295.1 857.4,295.6 854.6,296.2 851.8,296.7 849.1,297.0 846.3,297.3 843.5,298.2 840.7,299.0 837.9,299.8 835.1,300.7 832.4,301.7 829.6,303.0 826.8,304.6 824.0,306.2 821.2,307.9 818.4,309.2 815.7,308.9 812.9,308.1 810.1,306.4 807.3,304.8 804.5,303.2 801.7,301.4 799.0,299.5 796.2,297.5 793.4,295.5 790.6,293.4 787.8,291.3 785.0,289.8 782.2,289.0 779.5,288.3 776.7,287.3 773.9,286.6 771.1,286.6 768.3,286.9 765.5,287.4 762.8,287.3 760.0,286.2 757.2,285.2 754.4,284.3 751.6,283.4 748.8,282.8 746.1,282.1 743.3,281.0 740.5,279.8 737.7,278.2 734.9,276.4 732.1,274.1 729.4,271.8 726.6,269.8 723.8,268.5 721.0,267.8 718.2,267.0 715.4,265.7 712.6,265.0 709.9,265.2 707.1,265.5 704.3,266.5 701.5,267.5 698.7,269.0 695.9,270.6 693.2,272.3 690.4,273.9 687.6,275.3 684.8,277.0 682.0,278.8 679.2,280.4 676.5,281.0 673.7,281.3 670.9,281.5 668.1,281.8 665.3,283.0 662.5,284.5 659.8,286.1 657.0,287.7 654.2,289.2 651.4,290.8 648.6,292.1 645.8,293.9 643.0,296.3 640.3,298.9 637.5,302.6 634.7,306.4 631.9,310.1 629.1,313.7 626.3,315.7 623.6,317.3 620.8,318.5 618.0,319.5 615.2,320.7 612.4,321.9 609.6,323.7 606.9,325.7 604.1,328.5 601.3,331.4 598.5,333.8 595.7,336.5 592.9,339.9 590.2,343.5 587.4,347.0 584.6,350.5 581.8,354.1 579.0,357.8 576.2,361.5 573.4,364.7 570.7,367.2 567.9,369.6 565.1,371.7 562.3,374.0 559.5,376.5 556.7,378.5 554.0,379.4 551.2,380.2 548.4,380.6 545.6,381.1 542.8,381.3 540.0,382.7 537.3,386.3 534.5,390.0 531.7,394.0 528.9,397.9 526.1,401.9 523.3,405.8 520.6,409.9 517.8,413.2 515.0,415.0 512.2,416.8 509.4,418.6 506.6,421.1 503.8,427.0 501.1,433.4 498.3,441.0 495.5,449.1 492.7,458.0 489.9,466.8 487.1,474.9 484.4,483.6 481.6,494.1 478.8,504.8 476.0,514.8 473.2,525.2 470.4,534.5 467.7,544.0 464.9,553.6 462.1,563.3 459.3,568.8 456.5,574.4 453.7,578.6 451.0,582.3 448.2,585.0 445.4,587.4 442.6,589.2 439.8,590.8 437.0,592.0 434.2,593.2 431.5,595.0 428.7,596.8 425.9,598.5 423.1,600.1 420.3,601.7 417.5,603.4 414.8,605.2 412.0,607.0 409.2,608.1 406.4,609.3 403.6,610.5 400.8,611.6 398.1,612.7 395.3,613.5 392.5,613.5 389.7,613.9 386.9,614.8 384.1,615.6 381.4,616.5 378.6,617.5 375.8,619.1 373.0,620.8 370.2,622.9 367.4,625.0 364.6,626.7 361.9,628.7 359.1,630.4 356.3,632.2 353.5,633.6 350.7,635.2 347.9,636.9 345.2,639.0 342.4,640.7 339.6,642.6 336.8,644.3 334.0,645.7 331.2,645.7 328.5,645.8 325.7,645.7 322.9,645.5 320.1,645.1 317.3,644.8 314.5,644.7 311.8,644.5 309.0,643.5 306.2,642.5 303.4,641.3 300.6,640.4 297.8,640.7 295.0,641.0 292.3,641.8 289.5,642.7 286.7,643.9 283.9,645.1 281.1,645.8 278.3,646.5 275.6,647.0 272.8,647.6 270.0,648.2 267.2,648.8 264.4,650.3 261.6,651.7 258.9,653.1 256.1,654.4 253.3,656.0 250.5,657.5 247.7,659.2 244.9,660.5 242.2,661.6 239.4,662.7 236.6,664.1 233.8,665.4 231.0,666.4 228.2,667.3 225.4,667.3 222.7,667.2 219.9,666.8 217.1,666.3 214.3,666.0 211.5,665.7 208.7,665.2 206.0,664.9 203.2,665.3 200.4,665.4 197.6,665.9 194.8,666.4 192.0,666.5 189.3,666.6 186.5,667.4 183.7,667.9 180.9,668.3 178.1,668.6 175.3,668.5 172.6,668.2 169.8,667.9 167.0,667.6 164.2,667.7 161.4,667.3 158.6,666.1 155.8,665.0 153.1,664.1 150.3,663.7 147.5,663.6 144.7,663.5 141.9,663.1 139.1,662.7 136.4,662.5 133.6,661.5 130.8,659.5 128.0,657.7 125.2,656.1 122.4,653.9 119.7,650.9 116.9,647.9 114.1,645.1 111.3,642.5 108.5,639.5 105.7,636.2 103.0,633.7 100.2,631.4 97.4,628.5 94.6,625.5 91.8,622.9 89.0,620.1 86.2,615.7 83.5,611.0 80.7,604.6 77.9,597.9 75.1,593.4 72.3,588.6 69.5,582.7 66.8,576.6 64.0,571.0 61.2,565.4 58.4,560.8 55.6,556.1 52.8,551.5 50.1,547.5 47.3,545.3 44.5,542.9 41.7,541.4 38.9,539.9 36.1,539.5 33.4,539.4 30.6,539.8 27.8,539.9 25.0,538.9 22.2,537.9 19.4,539.3 16.6,540.7 13.9,543.2 11.1,545.7 8.3,546.7 6.0,547.3" fill="#c0c0c0" fill-opacity="0.36"/>
<polyline points="8.3,535.5 11.1,525.4 13.9,497.9 16.6,483.2 19.4,490.2 22.2,493.9" fill="none" stroke="#00f0ff" stroke-width="1.1" stroke-opacity="0.7" stroke-linejoin="round"/>
<polyline points="22.2,493.9 25.0,531.3 27.8,550.5 30.6,543.1 33.4,535.1 36.1,539.4 38.9,544.5 41.7,566.1 44.5,575.9 47.3,596.9" fill="none" stroke="#808080" stroke-width="1.1" stroke-opacity="0.7" stroke-linejoin="round"/>
<polyline points="47.3,596.9 50.1,606.1 52.8,637.7 55.6,667.3 58.4,685.5 61.2,695.4 64.0,718.2 66.8,733.6 69.5,751.1 72.3,761.8 75.1,750.1 77.9,742.4 80.7,775.7 83.5,792.5 86.2,775.6" fill="none" stroke="#ff8c00" stroke-width="1.1" stroke-opacity="0.7" stroke-linejoin="round"/>
<polyline points="86.2,775.6 89.0,765.2 91.8,735.1 94.6,719.4 97.4,719.4 100.2,718.7 103.0,710.9 105.7,711.4 108.5,723.9 111.3,728.6 114.1,726.6" fill="none" stroke="#808080" stroke-width="1.1" stroke-opacity="0.7" stroke-linejoin="round"/>
<polyline points="114.1,726.6 116.9,728.6 119.7,735.1 122.4,739.6" fill="none" stroke="#ff8c00" stroke-width="1.1" stroke-opacity="0.7" stroke-linejoin="round"/>
<polyline points="122.4,739.6 125.2,730.7 128.0,717.6 130.8,716.7 133.6,717.8 136.4,705.0 139.1,687.7 141.9,680.5 144.7,677.8 147.5,672.3 150.3,669.3 153.1,673.5 155.8,682.2 158.6,690.7 161.4,696.6 164.2,687.6 167.0,676.3 169.8,676.1 172.6,677.4 175.3,677.0 178.1,674.2 180.9,666.8 183.7,661.3 186.5,657.4 189.3,650.7 192.0,656.4 194.8,660.9 197.6,655.7 200.4,653.5 203.2,656.6 206.0,656.2 208.7,664.4 211.5,672.7 214.3,673.4 217.1,674.2 219.9,678.2 222.7,678.9 225.4,674.1 228.2,671.7 231.0,654.3 233.8,646.0 236.6,635.9 239.4,629.4 242.2,628.4 244.9,628.4 247.7,624.7 250.5,616.8 253.3,614.0 256.1,611.6" fill="none" stroke="#808080" stroke-width="1.1" stroke-opacity="0.7" stroke-linejoin="round"/>
<polyline points="256.1,611.6 258.9,612.6 261.6,612.2 264.4,610.0 267.2,608.3" fill="none" stroke="#00f0ff" stroke-width="1.1" stroke-opacity="0.7" stroke-linejoin="round"/>
<polyline points="267.2,608.3 270.0,619.0 272.8,624.2 275.6,627.0 278.3,628.9 281.1,627.3 283.9,626.2" fill="none" stroke="#808080" stroke-width="1.1" stroke-opacity="0.7" stroke-linejoin="round"/>
<polyline points="283.9,626.2 286.7,617.9 289.5,612.0 292.3,614.0 295.0,616.2" fill="none" stroke="#00f0ff" stroke-width="1.1" stroke-opacity="0.7" stroke-linejoin="round"/>
<polyline points="295.0,616.2 297.8,623.9 300.6,627.6 303.4,648.3 306.2,662.4 309.0,668.7 311.8,670.9 314.5,660.6 317.3,654.9 320.1,654.0 322.9,655.6 325.7,653.6 328.5,651.5 331.2,647.1 334.0,645.6" fill="none" stroke="#808080" stroke-width="1.1" stroke-opacity="0.7" stroke-linejoin="round"/>
<polyline points="334.0,645.6 336.8,624.9 339.6,608.6 342.4,597.5 345.2,592.5 347.9,584.1 350.7,585.0 353.5,587.1 356.3,588.2 359.1,582.7 361.9,581.3 364.6,575.5 367.4,574.9 370.2,569.0 373.0,564.3 375.8,566.8 378.6,568.1" fill="none" stroke="#00f0ff" stroke-width="1.1" stroke-opacity="0.7" stroke-linejoin="round"/>
<polyline points="378.6,568.1 381.4,578.0 384.1,582.9 386.9,587.2 389.7,588.1 392.5,594.8 395.3,603.9 398.1,595.9 400.8,587.6 403.6,583.4" fill="none" stroke="#808080" stroke-width="1.1" stroke-opacity="0.7" stroke-linejoin="round"/>
<polyline points="403.6,583.4 406.4,579.6 409.2,575.8 412.0,574.4 414.8,564.3 417.5,557.3 420.3,555.6 423.1,553.9 425.9,552.3 428.7,550.1 431.5,546.6 434.2,543.7" fill="none" stroke="#00f0ff" stroke-width="1.1" stroke-opacity="0.7" stroke-linejoin="round"/>
<polyline points="434.2,543.7 437.0,550.3 439.8,552.8" fill="none" stroke="#808080" stroke-width="1.1" stroke-opacity="0.7" stroke-linejoin="round"/>
<polyline points="439.8,552.8 442.6,547.4 445.4,542.0 448.2,527.8 451.0,516.0 453.7,494.2 456.5,474.1 459.3,441.1 462.1,423.9 464.9,352.9 467.7,313.7 470.4,292.8 473.2,279.6 476.0,252.8 478.8,239.2 481.6,219.8 484.4,206.3 487.1,218.5 489.9,229.1 492.7,221.2 495.5,209.6 498.3,212.9 501.1,215.3" fill="none" stroke="#00f0ff" stroke-width="1.1" stroke-opacity="0.7" stroke-linejoin="round"/>
<polyline points="501.1,215.3 503.8,230.3 506.6,242.7 509.4,292.8 512.2,328.3 515.0,345.7 517.8,353.5 520.6,334.0 523.3,311.2 526.1,299.5 528.9,291.6 531.7,286.0" fill="none" stroke="#808080" stroke-width="1.1" stroke-opacity="0.7" stroke-linejoin="round"/>
<polyline points="531.7,286.0 534.5,280.5 537.3,279.9 540.0,280.4" fill="none" stroke="#00f0ff" stroke-width="1.1" stroke-opacity="0.7" stroke-linejoin="round"/>
<polyline points="540.0,280.4 542.8,309.8 545.6,341.7 548.4,354.8 551.2,361.3 554.0,359.2 556.7,355.1 559.5,336.4 562.3,319.4 565.1,312.3 567.9,310.3 570.7,303.1" fill="none" stroke="#808080" stroke-width="1.1" stroke-opacity="0.7" stroke-linejoin="round"/>
<polyline points="570.7,303.1 573.4,297.3 576.2,284.0 579.0,267.2 581.8,257.3 584.6,252.6 587.4,248.2 590.2,245.9 592.9,240.8 595.7,239.1" fill="none" stroke="#00f0ff" stroke-width="1.1" stroke-opacity="0.7" stroke-linejoin="round"/>
<polyline points="595.7,239.1 598.5,248.4 601.3,254.3 604.1,250.2" fill="none" stroke="#808080" stroke-width="1.1" stroke-opacity="0.7" stroke-linejoin="round"/>
<polyline points="604.1,250.2 606.9,246.3" fill="none" stroke="#00f0ff" stroke-width="1.1" stroke-opacity="0.7" stroke-linejoin="round"/>
<polyline points="606.9,246.3 609.6,256.6 612.4,263.3 615.2,273.3 618.0,279.1 620.8,283.8 623.6,283.9 626.3,275.7 629.1,265.8" fill="none" stroke="#808080" stroke-width="1.1" stroke-opacity="0.7" stroke-linejoin="round"/>
<polyline points="629.1,265.8 631.9,235.2 634.7,218.1 637.5,205.7 640.3,199.2 643.0,209.9 645.8,216.1" fill="none" stroke="#00f0ff" stroke-width="1.1" stroke-opacity="0.7" stroke-linejoin="round"/>
<polyline points="645.8,216.1 648.6,228.1 651.4,240.7 654.2,242.4 657.0,241.9 659.8,240.5 662.5,239.3 665.3,239.8 668.1,243.1 670.9,257.5 673.7,267.5 676.5,268.8 679.2,265.9 682.0,249.1 684.8,237.2" fill="none" stroke="#808080" stroke-width="1.1" stroke-opacity="0.7" stroke-linejoin="round"/>
<polyline points="684.8,237.2 687.6,231.3 690.4,231.2 693.2,228.6 695.9,224.6 698.7,223.7 701.5,224.2" fill="none" stroke="#00f0ff" stroke-width="1.1" stroke-opacity="0.7" stroke-linejoin="round"/>
<polyline points="701.5,224.2 704.3,230.1 707.1,234.3 709.9,244.7 712.6,252.0 715.4,269.6 718.2,286.8 721.0,289.9 723.8,288.4 726.6,299.0 729.4,315.2 732.1,328.7 734.9,337.3 737.7,334.6 740.5,331.0 743.3,323.8 746.1,318.9 748.8,311.1 751.6,306.4 754.4,309.4 757.2,309.9 760.0,313.9 762.8,317.0 765.5,302.5 768.3,287.0 771.1,282.5 773.9,284.6 776.7,296.5 779.5,306.9 782.2,309.4 785.0,311.4 787.8,323.9" fill="none" stroke="#808080" stroke-width="1.1" stroke-opacity="0.7" stroke-linejoin="round"/>
<polyline points="787.8,323.9 790.6,339.2 793.4,348.5 796.2,352.9 799.0,356.2 801.7,357.4 804.5,357.1 807.3,355.4 810.1,354.9 812.9,356.6" fill="none" stroke="#ff8c00" stroke-width="1.1" stroke-opacity="0.7" stroke-linejoin="round"/>
<polyline points="812.9,356.6 815.7,344.4 818.4,331.6 821.2,300.4 824.0,278.7 826.8,267.7 829.6,261.9 832.4,263.1 835.1,266.4 837.9,270.7 840.7,273.2 843.5,273.2 846.3,273.0 849.1,279.5 851.8,284.6 854.6,282.3 857.4,280.5" fill="none" stroke="#808080" stroke-width="1.1" stroke-opacity="0.7" stroke-linejoin="round"/>
<polyline points="857.4,280.5 860.2,279.9" fill="none" stroke="#00f0ff" stroke-width="1.1" stroke-opacity="0.7" stroke-linejoin="round"/>
<polyline points="860.2,279.9 863.0,280.4 865.8,282.8 868.6,286.3 871.3,298.7 874.1,306.6 876.9,315.1" fill="none" stroke="#808080" stroke-width="1.1" stroke-opacity="0.7" stroke-linejoin="round"/>
<polyline points="876.9,315.1 879.7,324.6 882.5,330.3 885.3,331.0 888.0,328.3 890.8,324.6" fill="none" stroke="#ff8c00" stroke-width="1.1" stroke-opacity="0.7" stroke-linejoin="round"/>
<polyline points="890.8,324.6 893.6,323.7 896.4,321.0" fill="none" stroke="#808080" stroke-width="1.1" stroke-opacity="0.7" stroke-linejoin="round"/>
<polyline points="896.4,321.0 899.2,331.6 902.0,342.6 904.7,347.7 907.5,350.4 910.3,341.6" fill="none" stroke="#ff8c00" stroke-width="1.1" stroke-opacity="0.7" stroke-linejoin="round"/>
<polyline points="910.3,341.6 913.1,330.5 915.9,322.3 918.7,318.7 921.4,302.2 924.2,293.3 927.0,292.3 929.8,291.2 932.6,274.4 935.4,260.3 938.2,258.1" fill="none" stroke="#808080" stroke-width="1.1" stroke-opacity="0.7" stroke-linejoin="round"/>
<polyline points="938.2,258.1 940.9,257.0 943.7,260.9 946.5,264.8" fill="none" stroke="#00f0ff" stroke-width="1.1" stroke-opacity="0.7" stroke-linejoin="round"/>
<polyline points="946.5,264.8 949.3,266.4 952.1,268.7 954.9,277.1 957.6,284.3 960.4,278.8" fill="none" stroke="#808080" stroke-width="1.1" stroke-opacity="0.7" stroke-linejoin="round"/>
<polyline points="960.4,278.8 963.2,272.0 966.0,269.4 968.8,269.8 971.6,268.5 974.3,266.7 977.1,261.9 979.9,257.9 982.7,253.7 985.5,248.6 988.3,237.4 991.0,227.6 993.8,225.1 996.6,225.6" fill="none" stroke="#00f0ff" stroke-width="1.1" stroke-opacity="0.7" stroke-linejoin="round"/>
<polyline points="996.6,225.6 999.4,240.4 1002.2,247.4 1005.0,248.7 1007.8,249.0" fill="none" stroke="#808080" stroke-width="1.1" stroke-opacity="0.7" stroke-linejoin="round"/>
<polyline points="1007.8,249.0 1010.5,238.4 1013.3,230.3 1016.1,223.9 1018.9,228.8 1021.7,215.9 1024.5,203.9 1027.2,199.3 1030.0,196.5 1032.8,196.1 1035.6,197.4 1038.4,199.0 1041.2,198.3" fill="none" stroke="#00f0ff" stroke-width="1.1" stroke-opacity="0.7" stroke-linejoin="round"/>
<polyline points="8.3,539.8 11.1,531.7 13.9,511.2 16.6,496.9 19.4,497.0 22.2,497.2" fill="none" stroke="#00f0ff" stroke-width="1.1" stroke-opacity="0.55" stroke-linejoin="round"/>
<polyline points="22.2,497.2 25.0,521.0 27.8,537.1 30.6,536.7 33.4,533.5 36.1,536.9 38.9,541.1 41.7,556.6 44.5,566.3 47.3,583.4" fill="none" stroke="#808080" stroke-width="1.1" stroke-opacity="0.55" stroke-linejoin="round"/>
<polyline points="47.3,583.4 50.1,594.0 52.8,619.0 55.6,644.8 58.4,664.3 61.2,677.9 64.0,698.8 66.8,715.5 69.5,733.1 72.3,746.1 75.1,743.6 77.9,740.6 80.7,763.3 83.5,778.6 86.2,772.0" fill="none" stroke="#ff8c00" stroke-width="1.1" stroke-opacity="0.55" stroke-linejoin="round"/>
<polyline points="86.2,772.0 89.0,766.2 91.8,745.8 94.6,731.7 97.4,727.6 100.2,724.4 103.0,717.3 105.7,715.5 108.5,722.5 111.3,726.1 114.1,725.6" fill="none" stroke="#808080" stroke-width="1.1" stroke-opacity="0.55" stroke-linejoin="round"/>
<polyline points="114.1,725.6 116.9,727.3 119.7,732.0 122.4,736.1" fill="none" stroke="#ff8c00" stroke-width="1.1" stroke-opacity="0.55" stroke-linejoin="round"/>
<polyline points="122.4,736.1 125.2,731.3 128.0,722.4 130.8,720.2 133.6,719.8 136.4,710.6 139.1,697.2 141.9,689.2 144.7,684.5 147.5,678.5 150.3,674.5 153.1,675.5 155.8,680.7 158.6,686.9 161.4,692.1 164.2,687.5 167.0,680.1 169.8,678.6 172.6,678.6 175.3,678.0 178.1,675.8 180.9,670.3 183.7,665.4 186.5,661.5 189.3,655.7 192.0,657.8 194.8,660.3 197.6,657.1 200.4,655.1 203.2,656.7 206.0,656.4 208.7,661.8 211.5,668.1 214.3,670.1 217.1,671.8 219.9,675.2 222.7,676.7 225.4,674.2 228.2,672.6 231.0,660.7 233.8,653.0 236.6,643.9 239.4,636.9 242.2,633.7 244.9,631.9 247.7,628.3 250.5,621.8 253.3,618.2 256.1,615.2" fill="none" stroke="#808080" stroke-width="1.1" stroke-opacity="0.55" stroke-linejoin="round"/>
<polyline points="256.1,615.2 258.9,614.7 261.6,613.7 264.4,611.7 267.2,610.0" fill="none" stroke="#00f0ff" stroke-width="1.1" stroke-opacity="0.55" stroke-linejoin="round"/>
<polyline points="267.2,610.0 270.0,616.6 272.8,620.9 275.6,623.9 278.3,626.2 281.1,626.0 283.9,625.7" fill="none" stroke="#808080" stroke-width="1.1" stroke-opacity="0.55" stroke-linejoin="round"/>
<polyline points="283.9,625.7 286.7,620.4 289.5,615.6 292.3,615.7 295.0,616.6" fill="none" stroke="#00f0ff" stroke-width="1.1" stroke-opacity="0.55" stroke-linejoin="round"/>
<polyline points="295.0,616.6 297.8,621.6 300.6,624.8 303.4,639.5 306.2,651.8 309.0,659.5 311.8,664.0 314.5,659.5 317.3,656.0 320.1,655.0 322.9,655.7 325.7,654.4 328.5,652.7 331.2,649.4 334.0,647.6" fill="none" stroke="#808080" stroke-width="1.1" stroke-opacity="0.55" stroke-linejoin="round"/>
<polyline points="334.0,647.6 336.8,633.1 339.6,619.5 342.4,608.4 345.2,601.4 347.9,592.8 350.7,590.5 353.5,590.1 356.3,589.8 359.1,585.6 361.9,583.7 364.6,579.1 367.4,577.5 370.2,572.7 373.0,568.3 375.8,568.6 378.6,568.9" fill="none" stroke="#00f0ff" stroke-width="1.1" stroke-opacity="0.55" stroke-linejoin="round"/>
<polyline points="378.6,568.9 381.4,575.2 384.1,579.4 386.9,583.4 389.7,585.3 392.5,590.7 395.3,598.1 398.1,594.7 400.8,589.6 403.6,586.1" fill="none" stroke="#808080" stroke-width="1.1" stroke-opacity="0.55" stroke-linejoin="round"/>
<polyline points="403.6,586.1 406.4,582.7 409.2,579.1 412.0,577.1 414.8,569.5 417.5,563.1 420.3,560.0 423.1,557.4 425.9,555.2 428.7,552.8 431.5,549.5 434.2,546.6" fill="none" stroke="#00f0ff" stroke-width="1.1" stroke-opacity="0.55" stroke-linejoin="round"/>
<polyline points="434.2,546.6 437.0,550.0 439.8,551.8" fill="none" stroke="#808080" stroke-width="1.1" stroke-opacity="0.55" stroke-linejoin="round"/>
<polyline points="439.8,551.8 442.6,548.5 445.4,544.6 448.2,534.2 451.0,524.2 453.7,506.9 456.5,489.1 459.3,462.0 462.1,443.5 464.9,389.1 467.7,350.5 470.4,324.1 473.2,304.7 476.0,278.3 478.8,260.6 481.6,240.4 484.4,224.5 487.1,226.6 489.9,230.9 492.7,225.1 495.5,216.0 498.3,216.1 501.1,216.6" fill="none" stroke="#00f0ff" stroke-width="1.1" stroke-opacity="0.55" stroke-linejoin="round"/>
<polyline points="501.1,216.6 503.8,226.2 506.6,235.8 509.4,271.3 512.2,301.9 515.0,322.2 517.8,335.1 520.6,328.3 523.3,315.0 526.1,305.9 528.9,298.5 531.7,292.5" fill="none" stroke="#808080" stroke-width="1.1" stroke-opacity="0.55" stroke-linejoin="round"/>
<polyline points="531.7,292.5 534.5,286.6 537.3,284.2 540.0,283.1" fill="none" stroke="#00f0ff" stroke-width="1.1" stroke-opacity="0.55" stroke-linejoin="round"/>
<polyline points="540.0,283.1 542.8,301.7 545.6,325.6 548.4,339.7 551.2,349.0 554.0,351.7 556.7,351.5 559.5,340.2 562.3,327.6 565.1,320.1 567.9,316.2 570.7,309.4" fill="none" stroke="#808080" stroke-width="1.1" stroke-opacity="0.55" stroke-linejoin="round"/>
<polyline points="570.7,309.4 573.4,303.4 576.2,292.5 579.0,278.4 581.8,268.1 584.6,261.3 587.4,255.5 590.2,251.5 592.9,246.3 595.7,243.3" fill="none" stroke="#00f0ff" stroke-width="1.1" stroke-opacity="0.55" stroke-linejoin="round"/>
<polyline points="595.7,243.3 598.5,248.1 601.3,252.2 604.1,250.1" fill="none" stroke="#808080" stroke-width="1.1" stroke-opacity="0.55" stroke-linejoin="round"/>
<polyline points="604.1,250.1 606.9,247.6" fill="none" stroke="#00f0ff" stroke-width="1.1" stroke-opacity="0.55" stroke-linejoin="round"/>
<polyline points="606.9,247.6 609.6,254.0 612.4,259.3 615.2,267.3 618.0,273.2 620.8,278.3 623.6,280.2 626.3,276.0 629.1,269.3" fill="none" stroke="#808080" stroke-width="1.1" stroke-opacity="0.55" stroke-linejoin="round"/>
<polyline points="629.1,269.3 631.9,247.7 634.7,232.0 637.5,219.1 640.3,210.2 643.0,213.7 645.8,216.6" fill="none" stroke="#00f0ff" stroke-width="1.1" stroke-opacity="0.55" stroke-linejoin="round"/>
<polyline points="645.8,216.6 648.6,224.4 651.4,234.0 654.2,237.4 657.0,238.7 659.8,238.9 662.5,238.6 665.3,239.1 668.1,241.6 670.9,251.7 673.7,260.3 676.5,263.5 679.2,263.4 682.0,253.0 684.8,243.8" fill="none" stroke="#808080" stroke-width="1.1" stroke-opacity="0.55" stroke-linejoin="round"/>
<polyline points="684.8,243.8 687.6,237.6 690.4,235.4 693.2,232.3 695.9,228.4 698.7,226.5 701.5,225.9" fill="none" stroke="#00f0ff" stroke-width="1.1" stroke-opacity="0.55" stroke-linejoin="round"/>
<polyline points="701.5,225.9 704.3,229.2 707.1,232.3 709.9,239.9 712.6,246.4 715.4,259.9 718.2,274.5 721.0,280.7 723.8,282.8 726.6,291.7 729.4,304.9 732.1,317.3 734.9,326.8 737.7,328.5 740.5,328.1 743.3,324.3 746.1,320.9 748.8,315.0 751.6,310.6 754.4,311.2 757.2,310.9 760.0,313.2 762.8,315.5 765.5,306.4 768.3,294.7 771.1,289.1 773.9,288.3 776.7,295.0 779.5,302.4 782.2,305.6 785.0,308.2 787.8,317.6" fill="none" stroke="#808080" stroke-width="1.1" stroke-opacity="0.55" stroke-linejoin="round"/>
<polyline points="787.8,317.6 790.6,329.8 793.4,339.1 796.2,345.2 799.0,349.9 801.7,352.9 804.5,354.2 807.3,354.0 810.1,354.1 812.9,355.5" fill="none" stroke="#ff8c00" stroke-width="1.1" stroke-opacity="0.55" stroke-linejoin="round"/>
<polyline points="812.9,355.5 815.7,347.7 818.4,338.1 821.2,315.1 824.0,295.6 826.8,282.6 829.6,273.7 832.4,270.6 835.1,270.3 837.9,271.9 840.7,273.2 843.5,273.2 846.3,273.0 849.1,277.4 851.8,281.5 854.6,281.0 857.4,280.2" fill="none" stroke="#808080" stroke-width="1.1" stroke-opacity="0.55" stroke-linejoin="round"/>
<polyline points="857.4,280.2 860.2,279.9" fill="none" stroke="#00f0ff" stroke-width="1.1" stroke-opacity="0.55" stroke-linejoin="round"/>
<polyline points="860.2,279.9 863.0,280.2 865.8,281.9 868.6,284.5 871.3,293.4 874.1,300.4 876.9,308.1" fill="none" stroke="#808080" stroke-width="1.1" stroke-opacity="0.55" stroke-linejoin="round"/>
<polyline points="876.9,308.1 879.7,316.8 882.5,323.1 885.3,326.0 888.0,325.9 890.8,324.2" fill="none" stroke="#ff8c00" stroke-width="1.1" stroke-opacity="0.55" stroke-linejoin="round"/>
<polyline points="890.8,324.2 893.6,323.7 896.4,322.0" fill="none" stroke="#808080" stroke-width="1.1" stroke-opacity="0.55" stroke-linejoin="round"/>
<polyline points="896.4,322.0 899.2,328.7 902.0,336.9 904.7,342.3 907.5,345.9 910.3,341.5" fill="none" stroke="#ff8c00" stroke-width="1.1" stroke-opacity="0.55" stroke-linejoin="round"/>
<polyline points="910.3,341.5 913.1,334.2 915.9,327.5 918.7,323.3 921.4,310.8 924.2,301.9 927.0,298.4 929.8,295.6 932.6,282.9 935.4,270.7 938.2,265.7" fill="none" stroke="#808080" stroke-width="1.1" stroke-opacity="0.55" stroke-linejoin="round"/>
<polyline points="938.2,265.7 940.9,262.4 943.7,263.2 946.5,265.0" fill="none" stroke="#00f0ff" stroke-width="1.1" stroke-opacity="0.55" stroke-linejoin="round"/>
<polyline points="946.5,265.0 949.3,266.0 952.1,267.7 954.9,273.6 957.6,279.6 960.4,277.5" fill="none" stroke="#808080" stroke-width="1.1" stroke-opacity="0.55" stroke-linejoin="round"/>
<polyline points="960.4,277.5 963.2,273.4 966.0,271.2 968.8,270.9 971.6,269.6 974.3,268.1 977.1,264.4 979.9,260.9 982.7,257.1 985.5,252.6 988.3,243.7 991.0,235.1 993.8,230.9 996.6,229.3" fill="none" stroke="#00f0ff" stroke-width="1.1" stroke-opacity="0.55" stroke-linejoin="round"/>
<polyline points="996.6,229.3 999.4,237.9 1002.2,243.4 1005.0,245.6 1007.8,246.8" fill="none" stroke="#808080" stroke-width="1.1" stroke-opacity="0.55" stroke-linejoin="round"/>
<polyline points="1007.8,246.8 1010.5,240.5 1013.3,234.4 1016.1,228.8 1018.9,230.4 1021.7,221.2 1024.5,211.5 1027.2,205.9 1030.0,201.8 1032.8,199.7 1035.6,199.4 1038.4,199.8 1041.2,199.1" fill="none" stroke="#00f0ff" stroke-width="1.1" stroke-opacity="0.55" stroke-linejoin="round"/>
<polyline points="8.3,542.9 11.1,536.7 13.9,521.9 16.6,510.0 19.4,507.1 22.2,505.0" fill="none" stroke="#00f0ff" stroke-width="1.1" stroke-opacity="0.55" stroke-linejoin="round"/>
<polyline points="22.2,505.0 25.0,519.1 27.8,530.3 30.6,531.5 33.4,530.5 36.1,533.4 38.9,537.0 41.7,548.2 44.5,556.5 47.3,570.1" fill="none" stroke="#808080" stroke-width="1.1" stroke-opacity="0.55" stroke-linejoin="round"/>
<polyline points="47.3,570.1 50.1,580.1 52.8,599.7 55.6,621.0 58.4,639.2 61.2,653.7 64.0,672.9 66.8,689.6 69.5,707.0 72.3,721.4 75.1,725.2 77.9,727.3 80.7,745.3 83.5,759.4 86.2,759.3" fill="none" stroke="#ff8c00" stroke-width="1.1" stroke-opacity="0.55" stroke-linejoin="round"/>
<polyline points="86.2,759.3 89.0,758.3 91.8,746.4 94.6,736.9 97.4,733.0 100.2,729.7 103.0,723.8 105.7,721.1 108.5,724.5 111.3,726.4 114.1,726.1" fill="none" stroke="#808080" stroke-width="1.1" stroke-opacity="0.55" stroke-linejoin="round"/>
<polyline points="114.1,726.1 116.9,727.1 119.7,730.3 122.4,733.4" fill="none" stroke="#ff8c00" stroke-width="1.1" stroke-opacity="0.55" stroke-linejoin="round"/>
<polyline points="122.4,733.4 125.2,730.8 128.0,724.9 130.8,722.9 133.6,722.0 136.4,715.4 139.1,705.4 141.9,698.2 144.7,693.0 147.5,687.2 150.3,682.5 153.1,681.4 155.8,683.6 158.6,687.0 161.4,690.5 164.2,687.8 167.0,682.8 169.8,681.2 172.6,680.6 175.3,679.7 178.1,677.9 180.9,673.8 183.7,669.7 186.5,666.1 189.3,661.2 192.0,661.4 194.8,662.3 197.6,659.7 200.4,657.8 203.2,658.2 206.0,657.7 208.7,661.0 211.5,665.4 214.3,667.3 217.1,669.0 219.9,672.0 222.7,673.7 225.4,672.7 228.2,671.9 231.0,664.1 233.8,658.3 236.6,651.0 239.4,644.7 242.2,640.9 244.9,638.1 247.7,634.3 250.5,628.6 253.3,624.7 256.1,621.3" fill="none" stroke="#808080" stroke-width="1.1" stroke-opacity="0.55" stroke-linejoin="round"/>
<polyline points="256.1,621.3 258.9,619.6 261.6,617.8 264.4,615.6 267.2,613.6" fill="none" stroke="#00f0ff" stroke-width="1.1" stroke-opacity="0.55" stroke-linejoin="round"/>
<polyline points="267.2,613.6 270.0,617.2 272.8,619.9 275.6,622.1 278.3,624.0 281.1,624.4 283.9,624.6" fill="none" stroke="#808080" stroke-width="1.1" stroke-opacity="0.55" stroke-linejoin="round"/>
<polyline points="283.9,624.6 286.7,621.2 289.5,617.9 292.3,617.5 295.0,617.6" fill="none" stroke="#00f0ff" stroke-width="1.1" stroke-opacity="0.55" stroke-linejoin="round"/>
<polyline points="295.0,617.6 297.8,620.7 300.6,623.1 303.4,633.3 306.2,642.8 309.0,649.9 311.8,655.0 314.5,654.0 317.3,652.9 320.1,653.0 322.9,653.9 325.7,653.4 328.5,652.5 331.2,650.3 334.0,649.0" fill="none" stroke="#808080" stroke-width="1.1" stroke-opacity="0.55" stroke-linejoin="round"/>
<polyline points="334.0,649.0 336.8,638.9 339.6,628.5 342.4,619.1 345.2,612.1 347.9,603.9 350.7,599.9 353.5,597.5 356.3,595.7 359.1,591.6 361.9,589.0 364.6,584.7 367.4,582.4 370.2,578.1 373.0,573.9 375.8,572.9 378.6,572.1" fill="none" stroke="#00f0ff" stroke-width="1.1" stroke-opacity="0.55" stroke-linejoin="round"/>
<polyline points="378.6,572.1 381.4,575.6 384.1,578.4 386.9,581.3 389.7,583.0 392.5,587.1 395.3,592.8 398.1,591.8 400.8,589.0 403.6,586.8" fill="none" stroke="#808080" stroke-width="1.1" stroke-opacity="0.55" stroke-linejoin="round"/>
<polyline points="403.6,586.8 406.4,584.3 409.2,581.6 412.0,579.7 414.8,574.0 417.5,568.7 420.3,565.5 423.1,562.5 425.9,559.9 428.7,557.2 431.5,554.1 434.2,551.1" fill="none" stroke="#00f0ff" stroke-width="1.1" stroke-opacity="0.55" stroke-linejoin="round"/>
<polyline points="434.2,551.1 437.0,552.4 439.8,553.0" fill="none" stroke="#808080" stroke-width="1.1" stroke-opacity="0.55" stroke-linejoin="round"/>
<polyline points="439.8,553.0 442.6,550.6 445.4,547.5 448.2,539.9 451.0,532.0 453.7,518.6 456.5,504.1 459.3,482.6 462.1,465.5 464.9,423.9 467.7,390.1 470.4,363.3 473.2,341.5 476.0,315.4 478.8,295.2 481.6,273.8 484.4,255.6 487.1,250.1 489.9,247.7 492.7,240.1 495.5,230.6 498.3,227.4 501.1,225.3" fill="none" stroke="#00f0ff" stroke-width="1.1" stroke-opacity="0.55" stroke-linejoin="round"/>
<polyline points="501.1,225.3 503.8,229.7 506.6,235.3 509.4,259.1 512.2,282.0 515.0,299.9 517.8,313.4 520.6,313.6 523.3,308.1 526.1,303.6 528.9,299.1 531.7,295.0" fill="none" stroke="#808080" stroke-width="1.1" stroke-opacity="0.55" stroke-linejoin="round"/>
<polyline points="531.7,295.0 534.5,290.5 537.3,288.0 540.0,286.4" fill="none" stroke="#00f0ff" stroke-width="1.1" stroke-opacity="0.55" stroke-linejoin="round"/>
<polyline points="540.0,286.4 542.8,298.1 545.6,314.8 548.4,326.5 551.2,335.6 554.0,340.4 556.7,342.8 559.5,337.2 562.3,329.5 565.1,324.1 567.9,320.5 570.7,315.0" fill="none" stroke="#808080" stroke-width="1.1" stroke-opacity="0.55" stroke-linejoin="round"/>
<polyline points="570.7,315.0 573.4,309.8 576.2,301.1 579.0,289.7 581.8,280.3 584.6,273.0 587.4,266.5 590.2,261.4 592.9,255.7 595.7,251.6" fill="none" stroke="#00f0ff" stroke-width="1.1" stroke-opacity="0.55" stroke-linejoin="round"/>
<polyline points="595.7,251.6 598.5,253.0 601.3,254.6 604.1,252.7" fill="none" stroke="#808080" stroke-width="1.1" stroke-opacity="0.55" stroke-linejoin="round"/>
<polyline points="604.1,252.7 606.9,250.4" fill="none" stroke="#00f0ff" stroke-width="1.1" stroke-opacity="0.55" stroke-linejoin="round"/>
<polyline points="606.9,250.4 609.6,254.1 612.4,257.6 615.2,263.3 618.0,268.1 620.8,272.6 623.6,275.1 626.3,273.5 629.1,269.6" fill="none" stroke="#808080" stroke-width="1.1" stroke-opacity="0.55" stroke-linejoin="round"/>
<polyline points="629.1,269.6 631.9,255.1 634.7,243.0 637.5,231.9 640.3,223.1 643.0,222.5 645.8,222.5" fill="none" stroke="#00f0ff" stroke-width="1.1" stroke-opacity="0.55" stroke-linejoin="round"/>
<polyline points="645.8,222.5 648.6,226.4 651.4,232.4 654.2,235.0 657.0,236.4 659.8,237.0 662.5,237.2 665.3,237.9 668.1,239.8 670.9,246.9 673.7,253.7 676.5,257.3 679.2,258.6 682.0,252.8 684.8,246.6" fill="none" stroke="#808080" stroke-width="1.1" stroke-opacity="0.55" stroke-linejoin="round"/>
<polyline points="684.8,246.6 687.6,241.9 690.4,239.5 693.2,236.5 695.9,232.9 698.7,230.7 701.5,229.3" fill="none" stroke="#00f0ff" stroke-width="1.1" stroke-opacity="0.55" stroke-linejoin="round"/>
<polyline points="701.5,229.3 704.3,230.8 707.1,232.5 709.9,237.5 712.6,242.4 715.4,252.3 718.2,263.7 721.0,270.2 723.8,273.9 726.6,281.8 729.4,292.8 732.1,303.7 734.9,313.0 737.7,317.2 740.5,319.5 743.3,318.8 746.1,317.8 748.8,314.5 751.6,311.7 754.4,311.9 757.2,311.5 760.0,312.9 762.8,314.5 765.5,308.6 768.3,300.3 771.1,295.4 773.9,293.4 776.7,296.8 779.5,301.3 782.2,303.7 785.0,305.8 787.8,312.6" fill="none" stroke="#808080" stroke-width="1.1" stroke-opacity="0.55" stroke-linejoin="round"/>
<polyline points="787.8,312.6 790.6,321.9 793.4,329.8 796.2,335.9 799.0,341.1 801.7,345.0 804.5,347.6 807.3,349.0 810.1,350.2 812.9,352.0" fill="none" stroke="#ff8c00" stroke-width="1.1" stroke-opacity="0.55" stroke-linejoin="round"/>
<polyline points="812.9,352.0 815.7,347.6 818.4,341.2 821.2,325.1 824.0,309.8 826.8,297.9 829.6,288.6 832.4,283.2 835.1,280.1 837.9,279.0 840.7,278.3 843.5,277.2 846.3,276.2 849.1,278.4 851.8,280.9 854.6,280.7 857.4,280.2" fill="none" stroke="#808080" stroke-width="1.1" stroke-opacity="0.55" stroke-linejoin="round"/>
<polyline points="857.4,280.2 860.2,280.0" fill="none" stroke="#00f0ff" stroke-width="1.1" stroke-opacity="0.55" stroke-linejoin="round"/>
<polyline points="860.2,280.0 863.0,280.2 865.8,281.3 868.6,283.2 871.3,289.4 874.1,295.0 876.9,301.3" fill="none" stroke="#808080" stroke-width="1.1" stroke-opacity="0.55" stroke-linejoin="round"/>
<polyline points="876.9,301.3 879.7,308.6 882.5,314.6 885.3,318.4 888.0,320.0 890.8,320.2" fill="none" stroke="#ff8c00" stroke-width="1.1" stroke-opacity="0.55" stroke-linejoin="round"/>
<polyline points="890.8,320.2 893.6,320.8 896.4,320.3" fill="none" stroke="#808080" stroke-width="1.1" stroke-opacity="0.55" stroke-linejoin="round"/>
<polyline points="896.4,320.3 899.2,325.1 902.0,331.4 904.7,336.2 907.5,339.9 910.3,338.3" fill="none" stroke="#ff8c00" stroke-width="1.1" stroke-opacity="0.55" stroke-linejoin="round"/>
<polyline points="910.3,338.3 913.1,334.2 915.9,329.7 918.7,326.4 921.4,317.3 924.2,310.0 927.0,305.8 929.8,302.3 932.6,292.3 935.4,282.0 938.2,276.2" fill="none" stroke="#808080" stroke-width="1.1" stroke-opacity="0.55" stroke-linejoin="round"/>
<polyline points="938.2,276.2 940.9,271.7 943.7,270.1 946.5,269.8" fill="none" stroke="#00f0ff" stroke-width="1.1" stroke-opacity="0.55" stroke-linejoin="round"/>
<polyline points="946.5,269.8 949.3,269.4 952.1,269.8 954.9,273.3 957.6,277.3 960.4,276.4" fill="none" stroke="#808080" stroke-width="1.1" stroke-opacity="0.55" stroke-linejoin="round"/>
<polyline points="960.4,276.4 963.2,273.9 966.0,272.4 968.8,271.9 971.6,270.8 974.3,269.5 977.1,266.8 979.9,263.9 982.7,260.7 985.5,256.9 988.3,250.0 991.0,242.8 993.8,238.3 996.6,235.6" fill="none" stroke="#00f0ff" stroke-width="1.1" stroke-opacity="0.55" stroke-linejoin="round"/>
<polyline points="996.6,235.6 999.4,240.0 1002.2,243.2 1005.0,244.7 1007.8,245.7" fill="none" stroke="#808080" stroke-width="1.1" stroke-opacity="0.55" stroke-linejoin="round"/>
<polyline points="1007.8,245.7 1010.5,241.7 1013.3,237.4 1016.1,233.0 1018.9,233.1 1021.7,226.4 1024.5,218.7 1027.2,213.4 1030.0,209.0 1032.8,206.0 1035.6,204.4 1038.4,203.6 1041.2,202.3" fill="none" stroke="#00f0ff" stroke-width="1.1" stroke-opacity="0.55" stroke-linejoin="round"/>
<polyline points="8.3,544.2 11.1,538.9 13.9,526.4 16.6,515.8 19.4,512.4 22.2,509.7" fill="none" stroke="#00f0ff" stroke-width="1.1" stroke-opacity="0.55" stroke-linejoin="round"/>
<polyline points="22.2,509.7 25.0,520.4 27.8,529.3 30.6,530.5 33.4,529.9 36.1,532.4 38.9,535.5 41.7,544.9 44.5,552.3 47.3,564.1" fill="none" stroke="#808080" stroke-width="1.1" stroke-opacity="0.55" stroke-linejoin="round"/>
<polyline points="47.3,564.1 50.1,573.4 52.8,590.6 55.6,609.6 58.4,626.5 61.2,640.6 64.0,658.6 66.8,674.8 69.5,691.6 72.3,706.1 75.1,712.0 77.9,716.1 80.7,732.8 83.5,746.5 86.2,748.8" fill="none" stroke="#ff8c00" stroke-width="1.1" stroke-opacity="0.55" stroke-linejoin="round"/>
<polyline points="86.2,748.8 89.0,749.9 91.8,741.7 94.6,734.8 97.4,732.0 100.2,729.4 103.0,724.6 105.7,722.3 108.5,724.9 111.3,726.4 114.1,726.1" fill="none" stroke="#808080" stroke-width="1.1" stroke-opacity="0.55" stroke-linejoin="round"/>
<polyline points="114.1,726.1 116.9,726.9 119.7,729.6 122.4,732.2" fill="none" stroke="#ff8c00" stroke-width="1.1" stroke-opacity="0.55" stroke-linejoin="round"/>
<polyline points="122.4,732.2 125.2,730.3 128.0,725.6 130.8,723.8 133.6,722.9 136.4,717.3 139.1,708.8 141.9,702.3 144.7,697.3 147.5,691.7 150.3,687.1 153.1,685.4 155.8,686.4 158.6,688.7 161.4,691.2 164.2,688.9 167.0,684.6 169.8,683.0 172.6,682.2 175.3,681.2 178.1,679.4 180.9,675.7 183.7,672.1 186.5,668.7 189.3,664.2 192.0,663.8 194.8,664.1 197.6,661.6 200.4,659.8 203.2,659.7 206.0,659.0 208.7,661.5 211.5,665.0 214.3,666.7 217.1,668.2 219.9,670.7 222.7,672.4 225.4,671.8 228.2,671.3 231.0,665.1 233.8,660.1 236.6,653.8 239.4,648.2 242.2,644.4 244.9,641.5 247.7,637.7 250.5,632.5 253.3,628.6 256.1,625.0" fill="none" stroke="#808080" stroke-width="1.1" stroke-opacity="0.55" stroke-linejoin="round"/>
<polyline points="256.1,625.0 258.9,623.0 261.6,620.9 264.4,618.5 267.2,616.4" fill="none" stroke="#00f0ff" stroke-width="1.1" stroke-opacity="0.55" stroke-linejoin="round"/>
<polyline points="267.2,616.4 270.0,618.8 272.8,620.7 275.6,622.4 278.3,623.9 281.1,624.2 283.9,624.4" fill="none" stroke="#808080" stroke-width="1.1" stroke-opacity="0.55" stroke-linejoin="round"/>
<polyline points="283.9,624.4 286.7,621.7 289.5,618.9 292.3,618.3 295.0,618.3" fill="none" stroke="#00f0ff" stroke-width="1.1" stroke-opacity="0.55" stroke-linejoin="round"/>
<polyline points="295.0,618.3 297.8,620.7 300.6,622.7 303.4,631.1 306.2,639.3 309.0,645.7 311.8,650.7 314.5,650.6 317.3,650.3 320.1,650.8 322.9,652.0 325.7,651.9 328.5,651.4 331.2,649.9 334.0,648.8" fill="none" stroke="#808080" stroke-width="1.1" stroke-opacity="0.55" stroke-linejoin="round"/>
<polyline points="334.0,648.8 336.8,640.7 339.6,631.8 342.4,623.5 345.2,616.9 347.9,609.4 350.7,605.1 353.5,602.2 356.3,599.8 359.1,595.7 361.9,592.8 364.6,588.6 367.4,586.0 370.2,581.8 373.0,577.8 375.8,576.2 378.6,575.0" fill="none" stroke="#00f0ff" stroke-width="1.1" stroke-opacity="0.55" stroke-linejoin="round"/>
<polyline points="378.6,575.0 381.4,577.3 384.1,579.2 386.9,581.5 389.7,582.8 392.5,586.2 395.3,591.1 398.1,590.5 400.8,588.5 403.6,586.8" fill="none" stroke="#808080" stroke-width="1.1" stroke-opacity="0.55" stroke-linejoin="round"/>
<polyline points="403.6,586.8 406.4,584.8 409.2,582.5 412.0,580.8 414.8,575.9 417.5,571.2 420.3,568.1 423.1,565.2 425.9,562.5 428.7,559.9 431.5,556.8 434.2,553.9" fill="none" stroke="#00f0ff" stroke-width="1.1" stroke-opacity="0.55" stroke-linejoin="round"/>
<polyline points="434.2,553.9 437.0,554.5 439.8,554.6" fill="none" stroke="#808080" stroke-width="1.1" stroke-opacity="0.55" stroke-linejoin="round"/>
<polyline points="439.8,554.6 442.6,552.3 445.4,549.5 448.2,542.9 451.0,535.8 453.7,524.2 456.5,511.3 459.3,492.3 462.1,476.5 464.9,440.3 467.7,409.4 470.4,383.9 473.2,362.1 476.0,336.8 478.8,316.2 481.6,294.7 484.4,275.9 487.1,267.6 489.9,262.5 492.7,253.5 495.5,243.3 498.3,238.4 501.1,234.6" fill="none" stroke="#00f0ff" stroke-width="1.1" stroke-opacity="0.55" stroke-linejoin="round"/>
<polyline points="501.1,234.6 503.8,236.6 506.6,239.9 509.4,258.5 512.2,277.4 515.0,292.8 517.8,305.1 520.6,306.8 523.3,303.5 526.1,300.6 528.9,297.6 531.7,294.5" fill="none" stroke="#808080" stroke-width="1.1" stroke-opacity="0.55" stroke-linejoin="round"/>
<polyline points="531.7,294.5 534.5,290.9 537.3,288.8 540.0,287.3" fill="none" stroke="#00f0ff" stroke-width="1.1" stroke-opacity="0.55" stroke-linejoin="round"/>
<polyline points="540.0,287.3 542.8,296.7 545.6,310.6 548.4,321.0 551.2,329.4 554.0,334.4 556.7,337.4 559.5,333.9 562.3,328.1 565.1,324.0 567.9,321.1 570.7,316.5" fill="none" stroke="#808080" stroke-width="1.1" stroke-opacity="0.55" stroke-linejoin="round"/>
<polyline points="570.7,316.5 573.4,311.9 576.2,304.4 579.0,294.5 581.8,285.9 584.6,278.9 587.4,272.5 590.2,267.2 592.9,261.5 595.7,257.1" fill="none" stroke="#00f0ff" stroke-width="1.1" stroke-opacity="0.55" stroke-linejoin="round"/>
<polyline points="595.7,257.1 598.5,257.2 601.3,257.8 604.1,255.6" fill="none" stroke="#808080" stroke-width="1.1" stroke-opacity="0.55" stroke-linejoin="round"/>
<polyline points="604.1,255.6 606.9,253.2" fill="none" stroke="#00f0ff" stroke-width="1.1" stroke-opacity="0.55" stroke-linejoin="round"/>
<polyline points="606.9,253.2 609.6,255.7 612.4,258.3 615.2,262.9 618.0,266.9 620.8,270.8 623.6,273.2 626.3,272.2 629.1,269.2" fill="none" stroke="#808080" stroke-width="1.1" stroke-opacity="0.55" stroke-linejoin="round"/>
<polyline points="629.1,269.2 631.9,257.4 634.7,247.1 637.5,237.2 640.3,229.0 643.0,227.5 645.8,226.6" fill="none" stroke="#00f0ff" stroke-width="1.1" stroke-opacity="0.55" stroke-linejoin="round"/>
<polyline points="645.8,226.6 648.6,229.0 651.4,233.4 654.2,235.4 657.0,236.5 659.8,237.0 662.5,237.2 665.3,237.7 668.1,239.3 670.9,245.2 673.7,251.1 676.5,254.5 679.2,256.1 682.0,251.7 684.8,246.9" fill="none" stroke="#808080" stroke-width="1.1" stroke-opacity="0.55" stroke-linejoin="round"/>
<polyline points="684.8,246.9 687.6,243.0 690.4,240.8 693.2,238.1 695.9,234.9 698.7,232.7 701.5,231.2" fill="none" stroke="#00f0ff" stroke-width="1.1" stroke-opacity="0.55" stroke-linejoin="round"/>
<polyline points="701.5,231.2 704.3,232.1 707.1,233.3 709.9,237.2 712.6,241.2 715.4,249.5 718.2,259.4 721.0,265.4 723.8,269.3 726.6,276.6 729.4,286.5 732.1,296.5 734.9,305.5 737.7,310.2 740.5,313.4 743.3,314.0 746.1,314.0 748.8,312.0 751.6,310.2 754.4,310.6 757.2,310.5 760.0,311.9 762.8,313.4 765.5,308.8 768.3,301.9 771.1,297.6 773.9,295.6 776.7,297.9 779.5,301.4 782.2,303.4 785.0,305.2 787.8,310.8" fill="none" stroke="#808080" stroke-width="1.1" stroke-opacity="0.55" stroke-linejoin="round"/>
<polyline points="787.8,310.8 790.6,318.7 793.4,325.8 796.2,331.5 799.0,336.5 801.7,340.6 804.5,343.5 807.3,345.4 810.1,347.0 812.9,349.0" fill="none" stroke="#ff8c00" stroke-width="1.1" stroke-opacity="0.55" stroke-linejoin="round"/>
<polyline points="812.9,349.0 815.7,346.0 818.4,341.0 821.2,327.9 824.0,314.9 826.8,304.2 829.6,295.4 832.4,289.7 835.1,286.0 837.9,284.0 840.7,282.5 843.5,280.8 846.3,279.4 849.1,280.6 851.8,282.2 854.6,281.8 857.4,281.3" fill="none" stroke="#808080" stroke-width="1.1" stroke-opacity="0.55" stroke-linejoin="round"/>
<polyline points="857.4,281.3 860.2,280.9" fill="none" stroke="#00f0ff" stroke-width="1.1" stroke-opacity="0.55" stroke-linejoin="round"/>
<polyline points="860.2,280.9 863.0,280.9 865.8,281.7 868.6,283.1 871.3,288.2 874.1,293.0 876.9,298.5" fill="none" stroke="#808080" stroke-width="1.1" stroke-opacity="0.55" stroke-linejoin="round"/>
<polyline points="876.9,298.5 879.7,305.0 882.5,310.6 885.3,314.4 888.0,316.4 890.8,317.3" fill="none" stroke="#ff8c00" stroke-width="1.1" stroke-opacity="0.55" stroke-linejoin="round"/>
<polyline points="890.8,317.3 893.6,318.3 896.4,318.3" fill="none" stroke="#808080" stroke-width="1.1" stroke-opacity="0.55" stroke-linejoin="round"/>
<polyline points="896.4,318.3 899.2,322.6 902.0,328.2 904.7,332.7 907.5,336.4 910.3,335.7" fill="none" stroke="#ff8c00" stroke-width="1.1" stroke-opacity="0.55" stroke-linejoin="round"/>
<polyline points="910.3,335.7 913.1,332.8 915.9,329.4 918.7,326.8 921.4,319.3 924.2,312.9 927.0,309.0 929.8,305.5 932.6,296.7 935.4,287.5 938.2,281.7" fill="none" stroke="#808080" stroke-width="1.1" stroke-opacity="0.55" stroke-linejoin="round"/>
<polyline points="938.2,281.7 940.9,277.0 943.7,274.8 946.5,273.7" fill="none" stroke="#00f0ff" stroke-width="1.1" stroke-opacity="0.55" stroke-linejoin="round"/>
<polyline points="946.5,273.7 949.3,272.6 952.1,272.4 954.9,274.7 957.6,277.8 960.4,277.0" fill="none" stroke="#808080" stroke-width="1.1" stroke-opacity="0.55" stroke-linejoin="round"/>
<polyline points="960.4,277.0 963.2,274.8 966.0,273.4 968.8,272.8 971.6,271.8 974.3,270.5 977.1,268.1 979.9,265.5 982.7,262.6 985.5,259.1 988.3,253.1 991.0,246.6 993.8,242.3 996.6,239.3" fill="none" stroke="#00f0ff" stroke-width="1.1" stroke-opacity="0.55" stroke-linejoin="round"/>
<polyline points="996.6,239.3 999.4,242.2 1002.2,244.4 1005.0,245.4 1007.8,246.1" fill="none" stroke="#808080" stroke-width="1.1" stroke-opacity="0.55" stroke-linejoin="round"/>
<polyline points="1007.8,246.1 1010.5,242.8 1013.3,239.0 1016.1,235.1 1018.9,234.9 1021.7,229.0 1024.5,222.3 1027.2,217.2 1030.0,213.0 1032.8,209.8 1035.6,207.8 1038.4,206.5 1041.2,204.9" fill="none" stroke="#00f0ff" stroke-width="1.1" stroke-opacity="0.55" stroke-linejoin="round"/>
<polyline points="8.3,545.1 11.1,540.5 13.9,529.6 16.6,520.1 19.4,516.6 22.2,513.7" fill="none" stroke="#00f0ff" stroke-width="1.1" stroke-opacity="0.55" stroke-linejoin="round"/>
<polyline points="22.2,513.7 25.0,522.1 27.8,529.4 30.6,530.4 33.4,529.9 36.1,532.0 38.9,534.7 41.7,542.8 44.5,549.4 47.3,559.8" fill="none" stroke="#808080" stroke-width="1.1" stroke-opacity="0.55" stroke-linejoin="round"/>
<polyline points="47.3,559.8 50.1,568.3 52.8,583.6 55.6,600.7 58.4,616.3 61.2,629.8 64.0,646.6 66.8,662.1 69.5,678.2 72.3,692.4 75.1,699.5 77.9,704.9 80.7,720.6 83.5,734.1 86.2,737.9" fill="none" stroke="#ff8c00" stroke-width="1.1" stroke-opacity="0.55" stroke-linejoin="round"/>
<polyline points="86.2,737.9 89.0,740.5 91.8,735.1 94.6,730.2 97.4,728.5 100.2,726.9 103.0,723.3 105.7,721.5 108.5,723.8 111.3,725.2 114.1,725.2" fill="none" stroke="#808080" stroke-width="1.1" stroke-opacity="0.55" stroke-linejoin="round"/>
<polyline points="114.1,725.2 116.9,726.0 119.7,728.4 122.4,730.8" fill="none" stroke="#ff8c00" stroke-width="1.1" stroke-opacity="0.55" stroke-linejoin="round"/>
<polyline points="122.4,730.8 125.2,729.4 128.0,725.6 130.8,724.1 133.6,723.3 136.4,718.5 139.1,711.1 141.9,705.2 144.7,700.5 147.5,695.3 150.3,690.8 153.1,688.8 155.8,689.1 158.6,690.7 161.4,692.5 164.2,690.4 167.0,686.5 169.8,684.8 172.6,683.9 175.3,682.7 178.1,681.0 180.9,677.7 183.7,674.3 186.5,671.1 189.3,666.9 192.0,666.2 194.8,666.0 197.6,663.7 200.4,661.7 203.2,661.4 206.0,660.6 208.7,662.4 211.5,665.3 214.3,666.6 217.1,667.9 219.9,670.1 222.7,671.6 225.4,671.2 228.2,670.9 231.0,665.7 233.8,661.4 236.6,655.9 239.4,650.8 242.2,647.2 244.9,644.3 247.7,640.7 250.5,635.7 253.3,631.9 256.1,628.4" fill="none" stroke="#808080" stroke-width="1.1" stroke-opacity="0.55" stroke-linejoin="round"/>
<polyline points="256.1,628.4 258.9,626.1 261.6,623.9 264.4,621.4 267.2,619.2" fill="none" stroke="#00f0ff" stroke-width="1.1" stroke-opacity="0.55" stroke-linejoin="round"/>
<polyline points="267.2,619.2 270.0,620.8 272.8,622.1 275.6,623.3 278.3,624.5 281.1,624.6 283.9,624.7" fill="none" stroke="#808080" stroke-width="1.1" stroke-opacity="0.55" stroke-linejoin="round"/>
<polyline points="283.9,624.7 286.7,622.4 289.5,619.9 292.3,619.3 295.0,619.1" fill="none" stroke="#00f0ff" stroke-width="1.1" stroke-opacity="0.55" stroke-linejoin="round"/>
<polyline points="295.0,619.1 297.8,621.1 300.6,622.6 303.4,629.7 306.2,636.9 309.0,642.7 311.8,647.3 314.5,647.8 317.3,648.0 320.1,648.8 322.9,650.1 325.7,650.3 328.5,650.2 331.2,649.0 334.0,648.3" fill="none" stroke="#808080" stroke-width="1.1" stroke-opacity="0.55" stroke-linejoin="round"/>
<polyline points="334.0,648.3 336.8,641.5 339.6,633.8 342.4,626.5 345.2,620.4 347.9,613.5 350.7,609.2 353.5,606.1 356.3,603.6 359.1,599.5 361.9,596.5 364.6,592.3 367.4,589.5 370.2,585.5 373.0,581.5 375.8,579.6 378.6,578.0" fill="none" stroke="#00f0ff" stroke-width="1.1" stroke-opacity="0.55" stroke-linejoin="round"/>
<polyline points="378.6,578.0 381.4,579.5 384.1,580.8 386.9,582.5 389.7,583.4 392.5,586.2 395.3,590.3 398.1,590.0 400.8,588.3 403.6,586.9" fill="none" stroke="#808080" stroke-width="1.1" stroke-opacity="0.55" stroke-linejoin="round"/>
<polyline points="403.6,586.9 406.4,585.2 409.2,583.2 412.0,581.6 414.8,577.4 417.5,573.2 420.3,570.2 423.1,567.5 425.9,564.9 428.7,562.3 431.5,559.3 434.2,556.4" fill="none" stroke="#00f0ff" stroke-width="1.1" stroke-opacity="0.55" stroke-linejoin="round"/>
<polyline points="434.2,556.4 437.0,556.5 439.8,556.3" fill="none" stroke="#808080" stroke-width="1.1" stroke-opacity="0.55" stroke-linejoin="round"/>
<polyline points="439.8,556.3 442.6,554.1 445.4,551.4 448.2,545.6 451.0,539.2 453.7,528.8 456.5,517.2 459.3,500.1 462.1,485.5 464.9,453.4 467.7,425.1 470.4,400.9 473.2,379.7 476.0,355.5 478.8,335.0 481.6,313.8 484.4,294.8 487.1,284.9 489.9,277.8 492.7,267.8 495.5,256.9 498.3,250.6 501.1,245.5" fill="none" stroke="#00f0ff" stroke-width="1.1" stroke-opacity="0.55" stroke-linejoin="round"/>
<polyline points="501.1,245.5 503.8,245.5 506.6,247.0 509.4,261.7 512.2,277.2 515.0,290.2 517.8,301.0 520.6,303.1 523.3,300.9 526.1,298.9 528.9,296.5 531.7,294.0" fill="none" stroke="#808080" stroke-width="1.1" stroke-opacity="0.55" stroke-linejoin="round"/>
<polyline points="531.7,294.0 534.5,291.1 537.3,289.3 540.0,288.0" fill="none" stroke="#00f0ff" stroke-width="1.1" stroke-opacity="0.55" stroke-linejoin="round"/>
<polyline points="540.0,288.0 542.8,295.8 545.6,307.7 548.4,316.9 551.2,324.7 554.0,329.6 556.7,332.9 559.5,330.6 562.3,326.3 565.1,323.0 567.9,320.7 570.7,316.9" fill="none" stroke="#808080" stroke-width="1.1" stroke-opacity="0.55" stroke-linejoin="round"/>
<polyline points="570.7,316.9 573.4,313.0 576.2,306.4 579.0,297.7 581.8,289.9 584.6,283.4 587.4,277.3 590.2,272.1 592.9,266.5 595.7,262.0" fill="none" stroke="#00f0ff" stroke-width="1.1" stroke-opacity="0.55" stroke-linejoin="round"/>
<polyline points="595.7,262.0 598.5,261.3 601.3,261.2 604.1,258.8" fill="none" stroke="#808080" stroke-width="1.1" stroke-opacity="0.55" stroke-linejoin="round"/>
<polyline points="604.1,258.8 606.9,256.3" fill="none" stroke="#00f0ff" stroke-width="1.1" stroke-opacity="0.55" stroke-linejoin="round"/>
<polyline points="606.9,256.3 609.6,257.9 612.4,259.8 615.2,263.4 618.0,266.7 620.8,270.0 623.6,272.2 626.3,271.5 629.1,269.1" fill="none" stroke="#808080" stroke-width="1.1" stroke-opacity="0.55" stroke-linejoin="round"/>
<polyline points="629.1,269.1 631.9,259.1 634.7,250.1 637.5,241.3 640.3,233.7 643.0,231.7 645.8,230.3" fill="none" stroke="#00f0ff" stroke-width="1.1" stroke-opacity="0.55" stroke-linejoin="round"/>
<polyline points="645.8,230.3 648.6,231.8 651.4,235.1 654.2,236.5 657.0,237.2 659.8,237.5 662.5,237.6 665.3,238.0 668.1,239.3 670.9,244.3 673.7,249.4 676.5,252.6 679.2,254.2 682.0,250.8 684.8,246.9" fill="none" stroke="#808080" stroke-width="1.1" stroke-opacity="0.55" stroke-linejoin="round"/>
<polyline points="684.8,246.9 687.6,243.6 690.4,241.6 693.2,239.2 695.9,236.3 698.7,234.2 701.5,232.8" fill="none" stroke="#00f0ff" stroke-width="1.1" stroke-opacity="0.55" stroke-linejoin="round"/>
<polyline points="701.5,232.8 704.3,233.3 707.1,234.1 709.9,237.3 712.6,240.7 715.4,247.8 718.2,256.4 721.0,262.0 723.8,265.8 726.6,272.5 729.4,281.5 732.1,290.7 734.9,299.1 737.7,304.1 740.5,307.7 743.3,309.1 746.1,309.8 748.8,308.8 751.6,307.8 754.4,308.5 757.2,308.7 760.0,310.2 762.8,311.7 765.5,308.1 768.3,302.4 771.1,298.6 773.9,296.8 776.7,298.6 779.5,301.4 782.2,303.1 785.0,304.7 787.8,309.5" fill="none" stroke="#808080" stroke-width="1.1" stroke-opacity="0.55" stroke-linejoin="round"/>
<polyline points="787.8,309.5 790.6,316.4 793.4,322.7 796.2,328.0 799.0,332.8 801.7,336.8 804.5,339.9 807.3,342.0 810.1,343.9 812.9,346.1" fill="none" stroke="#ff8c00" stroke-width="1.1" stroke-opacity="0.55" stroke-linejoin="round"/>
<polyline points="812.9,346.1 815.7,343.9 818.4,340.1 821.2,329.1 824.0,317.9 826.8,308.4 829.6,300.3 832.4,294.7 835.1,290.8 837.9,288.4 840.7,286.4 843.5,284.4 846.3,282.6 849.1,283.1 851.8,284.1 854.6,283.5 857.4,282.8" fill="none" stroke="#808080" stroke-width="1.1" stroke-opacity="0.55" stroke-linejoin="round"/>
<polyline points="857.4,282.8 860.2,282.2" fill="none" stroke="#00f0ff" stroke-width="1.1" stroke-opacity="0.55" stroke-linejoin="round"/>
<polyline points="860.2,282.2 863.0,282.0 865.8,282.5 868.6,283.6 871.3,287.9 874.1,291.9 876.9,296.8" fill="none" stroke="#808080" stroke-width="1.1" stroke-opacity="0.55" stroke-linejoin="round"/>
<polyline points="876.9,296.8 879.7,302.5 882.5,307.6 885.3,311.3 888.0,313.5 890.8,314.7" fill="none" stroke="#ff8c00" stroke-width="1.1" stroke-opacity="0.55" stroke-linejoin="round"/>
<polyline points="890.8,314.7 893.6,315.9 896.4,316.3" fill="none" stroke="#808080" stroke-width="1.1" stroke-opacity="0.55" stroke-linejoin="round"/>
<polyline points="896.4,316.3 899.2,320.2 902.0,325.3 904.7,329.6 907.5,333.2 910.3,333.1" fill="none" stroke="#ff8c00" stroke-width="1.1" stroke-opacity="0.55" stroke-linejoin="round"/>
<polyline points="910.3,333.1 913.1,331.0 915.9,328.4 918.7,326.4 921.4,320.1 924.2,314.5 927.0,311.0 929.8,307.7 932.6,300.0 935.4,291.6 938.2,286.1" fill="none" stroke="#808080" stroke-width="1.1" stroke-opacity="0.55" stroke-linejoin="round"/>
<polyline points="938.2,286.1 940.9,281.4 943.7,278.9 946.5,277.3" fill="none" stroke="#00f0ff" stroke-width="1.1" stroke-opacity="0.55" stroke-linejoin="round"/>
<polyline points="946.5,277.3 949.3,275.9 952.1,275.1 954.9,276.7 957.6,279.0 960.4,278.1" fill="none" stroke="#808080" stroke-width="1.1" stroke-opacity="0.55" stroke-linejoin="round"/>
<polyline points="960.4,278.1 963.2,276.1 966.0,274.7 968.8,274.0 971.6,272.9 974.3,271.7 977.1,269.5 979.9,267.1 982.7,264.3 985.5,261.1 988.3,255.7 991.0,249.9 993.8,245.7 996.6,242.6" fill="none" stroke="#00f0ff" stroke-width="1.1" stroke-opacity="0.55" stroke-linejoin="round"/>
<polyline points="996.6,242.6 999.4,244.6 1002.2,246.1 1005.0,246.7 1007.8,247.1" fill="none" stroke="#808080" stroke-width="1.1" stroke-opacity="0.55" stroke-linejoin="round"/>
<polyline points="1007.8,247.1 1010.5,244.1 1013.3,240.7 1016.1,237.2 1018.9,236.6 1021.7,231.4 1024.5,225.3 1027.2,220.6 1030.0,216.4 1032.8,213.2 1035.6,211.0 1038.4,209.4 1041.2,207.6" fill="none" stroke="#00f0ff" stroke-width="1.1" stroke-opacity="0.55" stroke-linejoin="round"/>
<polyline points="8.3,546.1 11.1,542.2 13.9,533.2 16.6,525.0 19.4,521.5 22.2,518.5" fill="none" stroke="#00f0ff" stroke-width="1.1" stroke-opacity="0.7" stroke-linejoin="round"/>
<polyline points="22.2,518.5 25.0,524.8 27.8,530.4 30.6,531.0 33.4,530.5 36.1,532.2 38.9,534.4 41.7,541.0 44.5,546.5 47.3,555.4" fill="none" stroke="#808080" stroke-width="1.1" stroke-opacity="0.7" stroke-linejoin="round"/>
<polyline points="47.3,555.4 50.1,562.8 52.8,575.9 55.6,590.7 58.4,604.6 61.2,616.9 64.0,632.1 66.8,646.4 69.5,661.4 72.3,675.0 75.1,682.8 77.9,689.2 80.7,703.9 83.5,716.9 86.2,722.1" fill="none" stroke="#ff8c00" stroke-width="1.1" stroke-opacity="0.7" stroke-linejoin="round"/>
<polyline points="86.2,722.1 89.0,726.1 91.8,723.6 94.6,721.1 97.4,720.9 100.2,720.5 103.0,718.3 105.7,717.5 108.5,719.9 111.3,721.5 114.1,721.9" fill="none" stroke="#808080" stroke-width="1.1" stroke-opacity="0.7" stroke-linejoin="round"/>
<polyline points="114.1,721.9 116.9,723.0 119.7,725.3 122.4,727.7" fill="none" stroke="#ff8c00" stroke-width="1.1" stroke-opacity="0.7" stroke-linejoin="round"/>
<polyline points="122.4,727.7 125.2,726.9 128.0,724.1 130.8,723.1 133.6,722.6 136.4,718.8 139.1,712.7 141.9,707.7 144.7,703.6 147.5,699.0 150.3,694.9 153.1,692.7 155.8,692.5 158.6,693.3 161.4,694.5 164.2,692.5 167.0,689.1 169.8,687.4 172.6,686.3 175.3,685.1 178.1,683.4 180.9,680.4 183.7,677.3 186.5,674.3 189.3,670.5 192.0,669.4 194.8,668.9 197.6,666.6 200.4,664.7 203.2,664.1 206.0,663.0 208.7,664.2 211.5,666.3 214.3,667.3 217.1,668.3 219.9,670.0 222.7,671.2 225.4,671.0 228.2,670.7 231.0,666.5 233.8,662.9 236.6,658.2 239.4,653.8 242.2,650.5 244.9,647.7 247.7,644.4 250.5,639.9 253.3,636.3 256.1,632.9" fill="none" stroke="#808080" stroke-width="1.1" stroke-opacity="0.7" stroke-linejoin="round"/>
<polyline points="256.1,632.9 258.9,630.5 261.6,628.1 264.4,625.6 267.2,623.2" fill="none" stroke="#00f0ff" stroke-width="1.1" stroke-opacity="0.7" stroke-linejoin="round"/>
<polyline points="267.2,623.2 270.0,624.0 272.8,624.7 275.6,625.3 278.3,626.0 281.1,626.0 283.9,625.9" fill="none" stroke="#808080" stroke-width="1.1" stroke-opacity="0.7" stroke-linejoin="round"/>
<polyline points="283.9,625.9 286.7,623.8 289.5,621.6 292.3,620.9 295.0,620.6" fill="none" stroke="#00f0ff" stroke-width="1.1" stroke-opacity="0.7" stroke-linejoin="round"/>
<polyline points="295.0,620.6 297.8,622.0 300.6,623.1 303.4,628.8 306.2,634.8 309.0,639.7 311.8,643.9 314.5,644.7 317.3,645.3 320.1,646.2 322.9,647.6 325.7,648.1 328.5,648.2 331.2,647.6 334.0,647.1" fill="none" stroke="#808080" stroke-width="1.1" stroke-opacity="0.7" stroke-linejoin="round"/>
<polyline points="334.0,647.1 336.8,641.7 339.6,635.5 342.4,629.3 345.2,624.1 347.9,618.0 350.7,613.9 353.5,610.8 356.3,608.1 359.1,604.2 361.9,601.2 364.6,597.2 367.4,594.4 370.2,590.4 373.0,586.5 375.8,584.4 378.6,582.5" fill="none" stroke="#00f0ff" stroke-width="1.1" stroke-opacity="0.7" stroke-linejoin="round"/>
<polyline points="378.6,582.5 381.4,583.2 384.1,583.8 386.9,584.7 389.7,585.3 392.5,587.3 395.3,590.5 398.1,590.2 400.8,588.8 403.6,587.6" fill="none" stroke="#808080" stroke-width="1.1" stroke-opacity="0.7" stroke-linejoin="round"/>
<polyline points="403.6,587.6 406.4,586.1 409.2,584.4 412.0,583.0 414.8,579.3 417.5,575.7 420.3,573.0 423.1,570.4 425.9,567.9 428.7,565.4 431.5,562.6 434.2,559.9" fill="none" stroke="#00f0ff" stroke-width="1.1" stroke-opacity="0.7" stroke-linejoin="round"/>
<polyline points="434.2,559.9 437.0,559.5 439.8,559.0" fill="none" stroke="#808080" stroke-width="1.1" stroke-opacity="0.7" stroke-linejoin="round"/>
<polyline points="439.8,559.0 442.6,556.8 445.4,554.3 448.2,549.2 451.0,543.5 453.7,534.5 456.5,524.3 459.3,509.6 462.1,496.5 464.9,468.8 467.7,443.7 470.4,421.6 473.2,401.6 476.0,379.0 478.8,359.3 481.6,338.8 484.4,320.1 487.1,308.8 489.9,300.0 492.7,289.0 495.5,277.4 498.3,269.7 501.1,263.1" fill="none" stroke="#00f0ff" stroke-width="1.1" stroke-opacity="0.7" stroke-linejoin="round"/>
<polyline points="501.1,263.1 503.8,260.9 506.6,260.2 509.4,270.5 512.2,282.0 515.0,292.0 517.8,300.6 520.6,302.3 523.3,300.6 526.1,299.0 528.9,297.1 531.7,295.0" fill="none" stroke="#808080" stroke-width="1.1" stroke-opacity="0.7" stroke-linejoin="round"/>
<polyline points="531.7,295.0 534.5,292.5 537.3,290.9 540.0,289.6" fill="none" stroke="#00f0ff" stroke-width="1.1" stroke-opacity="0.7" stroke-linejoin="round"/>
<polyline points="540.0,289.6 542.8,295.8 545.6,305.4 548.4,313.2 551.2,319.9 554.0,324.5 556.7,327.8 559.5,326.6 562.3,323.6 565.1,321.3 567.9,319.6 570.7,316.7" fill="none" stroke="#808080" stroke-width="1.1" stroke-opacity="0.7" stroke-linejoin="round"/>
<polyline points="570.7,316.7 573.4,313.5 576.2,308.1 579.0,300.8 581.8,294.1 584.6,288.3 587.4,282.7 590.2,277.8 592.9,272.5 595.7,268.1" fill="none" stroke="#00f0ff" stroke-width="1.1" stroke-opacity="0.7" stroke-linejoin="round"/>
<polyline points="595.7,268.1 598.5,266.8 601.3,266.0 604.1,263.5" fill="none" stroke="#808080" stroke-width="1.1" stroke-opacity="0.7" stroke-linejoin="round"/>
<polyline points="604.1,263.5 606.9,260.8" fill="none" stroke="#00f0ff" stroke-width="1.1" stroke-opacity="0.7" stroke-linejoin="round"/>
<polyline points="606.9,260.8 609.6,261.6 612.4,262.6 615.2,265.2 618.0,267.7 620.8,270.3 623.6,272.0 626.3,271.4 629.1,269.5" fill="none" stroke="#808080" stroke-width="1.1" stroke-opacity="0.7" stroke-linejoin="round"/>
<polyline points="629.1,269.5 631.9,261.3 634.7,253.7 637.5,246.1 640.3,239.4 643.0,237.0 645.8,235.2" fill="none" stroke="#00f0ff" stroke-width="1.1" stroke-opacity="0.7" stroke-linejoin="round"/>
<polyline points="645.8,235.2 648.6,235.8 651.4,238.0 654.2,238.7 657.0,239.1 659.8,239.1 662.5,238.9 665.3,239.1 668.1,240.0 670.9,244.0 673.7,248.2 676.5,250.9 679.2,252.4 682.0,249.9 684.8,246.8" fill="none" stroke="#808080" stroke-width="1.1" stroke-opacity="0.7" stroke-linejoin="round"/>
<polyline points="684.8,246.8 687.6,244.1 690.4,242.5 693.2,240.4 695.9,237.9 698.7,236.0 701.5,234.6" fill="none" stroke="#00f0ff" stroke-width="1.1" stroke-opacity="0.7" stroke-linejoin="round"/>
<polyline points="701.5,234.6 704.3,234.8 707.1,235.2 709.9,237.7 712.6,240.4 715.4,246.2 718.2,253.4 721.0,258.3 723.8,261.9 726.6,267.8 729.4,275.7 732.1,283.9 734.9,291.6 737.7,296.6 740.5,300.4 743.3,302.4 746.1,303.9 748.8,303.8 751.6,303.5 754.4,304.6 757.2,305.4 760.0,306.9 762.8,308.6 765.5,306.0 768.3,301.7 771.1,298.7 773.9,297.2 776.7,298.6 779.5,300.9 782.2,302.3 785.0,303.7 787.8,307.8" fill="none" stroke="#808080" stroke-width="1.1" stroke-opacity="0.7" stroke-linejoin="round"/>
<polyline points="787.8,307.8 790.6,313.6 793.4,319.0 796.2,323.8 799.0,328.2 801.7,332.0 804.5,335.1 807.3,337.4 810.1,339.5 812.9,341.9" fill="none" stroke="#ff8c00" stroke-width="1.1" stroke-opacity="0.7" stroke-linejoin="round"/>
<polyline points="812.9,341.9 815.7,340.7 818.4,337.9 821.2,329.3 824.0,320.1 826.8,312.1 829.6,305.1 832.4,299.9 835.1,296.1 837.9,293.5 840.7,291.2 843.5,289.0 846.3,287.0 849.1,286.8 851.8,287.2 854.6,286.3 857.4,285.3" fill="none" stroke="#808080" stroke-width="1.1" stroke-opacity="0.7" stroke-linejoin="round"/>
<polyline points="857.4,285.3 860.2,284.6" fill="none" stroke="#00f0ff" stroke-width="1.1" stroke-opacity="0.7" stroke-linejoin="round"/>
<polyline points="860.2,284.6 863.0,284.1 865.8,284.3 868.6,284.9 871.3,288.2 874.1,291.5 876.9,295.5" fill="none" stroke="#808080" stroke-width="1.1" stroke-opacity="0.7" stroke-linejoin="round"/>
<polyline points="876.9,295.5 879.7,300.3 882.5,304.7 885.3,308.1 888.0,310.3 890.8,311.6" fill="none" stroke="#ff8c00" stroke-width="1.1" stroke-opacity="0.7" stroke-linejoin="round"/>
<polyline points="890.8,311.6 893.6,313.0 896.4,313.7" fill="none" stroke="#808080" stroke-width="1.1" stroke-opacity="0.7" stroke-linejoin="round"/>
<polyline points="896.4,313.7 899.2,317.2 902.0,321.7 904.7,325.6 907.5,329.0 910.3,329.5" fill="none" stroke="#ff8c00" stroke-width="1.1" stroke-opacity="0.7" stroke-linejoin="round"/>
<polyline points="910.3,329.5 913.1,328.2 915.9,326.5 918.7,325.0 921.4,320.1 924.2,315.6 927.0,312.6 929.8,309.7 932.6,303.2 935.4,296.0 938.2,290.9" fill="none" stroke="#808080" stroke-width="1.1" stroke-opacity="0.7" stroke-linejoin="round"/>
<polyline points="938.2,290.9 940.9,286.5 943.7,283.8 946.5,281.9" fill="none" stroke="#00f0ff" stroke-width="1.1" stroke-opacity="0.7" stroke-linejoin="round"/>
<polyline points="946.5,281.9 949.3,280.2 952.1,279.0 954.9,279.8 957.6,281.3 960.4,280.3" fill="none" stroke="#808080" stroke-width="1.1" stroke-opacity="0.7" stroke-linejoin="round"/>
<polyline points="960.4,280.3 963.2,278.4 966.0,277.0 968.8,276.1 971.6,275.0 974.3,273.7 977.1,271.7 979.9,269.4 982.7,266.9 985.5,264.0 988.3,259.2 991.0,254.0 993.8,250.1 996.6,247.1" fill="none" stroke="#00f0ff" stroke-width="1.1" stroke-opacity="0.7" stroke-linejoin="round"/>
<polyline points="996.6,247.1 999.4,248.1 1002.2,248.9 1005.0,249.0 1007.8,249.0" fill="none" stroke="#808080" stroke-width="1.1" stroke-opacity="0.7" stroke-linejoin="round"/>
<polyline points="1007.8,249.0 1010.5,246.4 1013.3,243.4 1016.1,240.1 1018.9,239.3 1021.7,234.7 1024.5,229.4 1027.2,225.0 1030.0,221.1 1032.8,217.9 1035.6,215.5 1038.4,213.6 1041.2,211.6" fill="none" stroke="#00f0ff" stroke-width="1.1" stroke-opacity="0.7" stroke-linejoin="round"/>
<polyline points="8.3,542.2 11.1,540.4 13.9,535.9 16.6,531.5 19.4,529.3 22.2,527.2 25.0,529.9 27.8,532.4 30.6,532.7 33.4,532.3 36.1,533.0 38.9,534.1 41.7,537.5 44.5,540.6" fill="none" stroke="#00e800" stroke-width="2.7" stroke-opacity="0.64" stroke-linejoin="round"/>
<polyline points="44.5,540.6 47.3,545.5" fill="none" stroke="#808080" stroke-width="2.7" stroke-opacity="0.64" stroke-linejoin="round"/>
<polyline points="47.3,545.5 50.1,550.0 52.8,557.5 55.6,566.3 58.4,574.9 61.2,583.1 64.0,593.0 66.8,602.8 69.5,613.1 72.3,623.1 75.1,630.4 77.9,637.0 80.7,647.7 83.5,657.8 86.2,664.2 89.0,670.0 91.8,672.2 94.6,674.3 97.4,677.1 100.2,679.8 103.0,681.3 105.7,683.2 108.5,686.6 111.3,689.6 114.1,691.9 116.9,694.3 119.7,697.4 122.4,700.3 125.2,701.7 128.0,701.9 130.8,702.8 133.6,703.8 136.4,703.1 139.1,701.0 141.9,699.2 144.7,697.6 147.5,695.6 150.3,693.7 153.1,692.7 155.8,692.6 158.6,693.0 161.4,693.6 164.2,692.6 167.0,690.9 169.8,689.9 172.6,689.2 175.3,688.3 178.1,687.2 180.9,685.4 183.7,683.5 186.5,681.6 189.3,679.1 192.0,678.0 194.8,677.2" fill="none" stroke="#f01818" stroke-width="2.7" stroke-opacity="0.64" stroke-linejoin="round"/>
<polyline points="194.8,677.2 197.6,675.5 200.4,673.9 203.2,673.0 206.0,671.9 208.7,671.9 211.5,672.5 214.3,672.6 217.1,672.8 219.9,673.4 222.7,673.8 225.4,673.5 228.2,673.2 231.0,670.9 233.8,668.7 236.6,665.9 239.4,663.1 242.2,660.8 244.9,658.7 247.7,656.3 250.5,653.2 253.3,650.4 256.1,647.8" fill="none" stroke="#808080" stroke-width="2.7" stroke-opacity="0.64" stroke-linejoin="round"/>
<polyline points="256.1,647.8 258.9,645.5 261.6,643.3 264.4,641.0 267.2,638.8 270.0,638.2 272.8,637.6 275.6,637.1 278.3,636.7 281.1,636.0 283.9,635.3 286.7,633.7 289.5,631.9 292.3,630.8 295.0,630.0 297.8,630.1 300.6,630.2 303.4,632.7 306.2,635.5 309.0,638.0 311.8,640.3 314.5,640.9 317.3,641.5 320.1,642.2 322.9,643.2 325.7,643.7 328.5,644.1 331.2,644.0 334.0,644.0 336.8,641.4 339.6,638.2 342.4,634.8 345.2,631.8 347.9,628.1 350.7,625.4 353.5,623.0 356.3,620.8 359.1,618.0 361.9,615.5 364.6,612.5 367.4,610.0 370.2,607.0 373.0,603.9 375.8,601.7 378.6,599.6 381.4,598.8 384.1,598.1 386.9,597.7 389.7,597.1 392.5,597.4 395.3,598.4 398.1,597.7 400.8,596.5 403.6,595.4 406.4,594.1 409.2,592.7 412.0,591.4 414.8,589.0 417.5,586.5 420.3,584.4 423.1,582.3 425.9,580.3 428.7,578.2 431.5,575.9 434.2,573.6 437.0,572.5 439.8,571.4 442.6,569.5 445.4,567.4 448.2,563.9 451.0,560.0 453.7,554.2 456.5,547.6 459.3,538.4 462.1,529.7 464.9,513.1 467.7,497.0 470.4,481.8 473.2,467.3 476.0,451.0 478.8,435.8 481.6,419.9 484.4,404.6 487.1,393.0 489.9,382.8 492.7,371.5 495.5,359.9 498.3,350.3 501.1,341.6 503.8,335.2 506.6,330.0 509.4,330.9 512.2,333.0 515.0,335.0 517.8,336.7 520.6,335.2 523.3,332.2 526.1,329.3 528.9,326.3 531.7,323.4 534.5,320.2 537.3,317.6 540.0,315.2 542.8,316.7 545.6,320.4 548.4,323.4 551.2,326.3 554.0,328.2 556.7,329.7 559.5,328.9 562.3,327.2 565.1,325.8 567.9,324.7 570.7,322.8 573.4,320.8 576.2,317.5 579.0,313.1 581.8,308.8 584.6,304.9 587.4,300.9 590.2,297.1 592.9,293.1 595.7,289.5 598.5,287.4 601.3,285.7 604.1,283.1 606.9,280.5 609.6,279.6 612.4,279.0 615.2,279.3 618.0,279.6 620.8,280.2 623.6,280.4 626.3,279.6 629.1,278.1 631.9,273.3 634.7,268.6 637.5,263.6 640.3,259.0 643.0,256.5 645.8,254.3 648.6,253.4 651.4,253.4 654.2,252.8 657.0,252.0 659.8,251.2 662.5,250.3 665.3,249.7 668.1,249.5 670.9,250.9 673.7,252.6 676.5,253.8 679.2,254.4 682.0,252.9 684.8,251.1 687.6,249.5 690.4,248.3 693.2,246.8 695.9,245.1 698.7,243.7 701.5,242.5 704.3,242.0 707.1,241.8 709.9,242.7 712.6,243.7 715.4,246.5 718.2,250.2 721.0,252.9 723.8,255.1" fill="none" stroke="#00e800" stroke-width="2.7" stroke-opacity="0.64" stroke-linejoin="round"/>
<polyline points="723.8,255.1 726.6,258.6 729.4,263.2 732.1,268.3 734.9,273.2 737.7,276.9 740.5,280.2 743.3,282.5 746.1,284.5 748.8,285.7 751.6,286.8 754.4,288.4 757.2,289.8 760.0,291.6 762.8,293.4 765.5,293.1 768.3,291.7 771.1,290.8 773.9,290.6 776.7,291.7 779.5,293.3 782.2,294.5 785.0,295.8 787.8,298.4" fill="none" stroke="#808080" stroke-width="2.7" stroke-opacity="0.64" stroke-linejoin="round"/>
<polyline points="787.8,298.4 790.6,301.9 793.4,305.5 796.2,308.8 799.0,312.1 801.7,315.0 804.5,317.7 807.3,320.0 810.1,322.2 812.9,324.5 815.7,325.0 818.4,324.6 821.2,321.0 824.0,316.9 826.8,312.9 829.6,309.2 832.4,306.3 835.1,303.9 837.9,302.1" fill="none" stroke="#f01818" stroke-width="2.7" stroke-opacity="0.64" stroke-linejoin="round"/>
<polyline points="837.9,302.1 840.7,300.3 843.5,298.6 846.3,296.9 849.1,296.2 851.8,295.8 854.6,294.8" fill="none" stroke="#808080" stroke-width="2.7" stroke-opacity="0.64" stroke-linejoin="round"/>
<polyline points="854.6,294.8 857.4,293.7 860.2,292.8 863.0,292.0 865.8,291.6 868.6,291.5 871.3,292.7 874.1,294.1" fill="none" stroke="#00e800" stroke-width="2.7" stroke-opacity="0.64" stroke-linejoin="round"/>
<polyline points="874.1,294.1 876.9,296.0" fill="none" stroke="#808080" stroke-width="2.7" stroke-opacity="0.64" stroke-linejoin="round"/>
<polyline points="876.9,296.0 879.7,298.5 882.5,300.9 885.3,302.8 888.0,304.3 890.8,305.4 893.6,306.5 896.4,307.3 899.2,309.5 902.0,312.3 904.7,314.9 907.5,317.4 910.3,318.4 913.1,318.4 915.9,318.2 918.7,318.0 921.4,315.9 924.2,313.8 927.0,312.4 929.8,310.9 932.6,307.5" fill="none" stroke="#f01818" stroke-width="2.7" stroke-opacity="0.64" stroke-linejoin="round"/>
<polyline points="932.6,307.5 935.4,303.5 938.2,300.4" fill="none" stroke="#808080" stroke-width="2.7" stroke-opacity="0.64" stroke-linejoin="round"/>
<polyline points="938.2,300.4 940.9,297.5 943.7,295.3 946.5,293.6 949.3,292.0 952.1,290.6 954.9,290.3 957.6,290.3 960.4,289.2 963.2,287.7 966.0,286.3 968.8,285.3 971.6,284.1 974.3,282.9 977.1,281.2 979.9,279.4 982.7,277.5 985.5,275.3 988.3,272.1 991.0,268.6 993.8,265.6 996.6,263.0 999.4,262.5 1002.2,262.0 1005.0,261.2 1007.8,260.4 1010.5,258.3 1013.3,256.0 1016.1,253.5 1018.9,252.2 1021.7,249.0 1024.5,245.3 1027.2,242.0 1030.0,238.8 1032.8,236.0 1035.6,233.6 1038.4,231.5 1041.2,229.3" fill="none" stroke="#00e800" stroke-width="2.7" stroke-opacity="0.64" stroke-linejoin="round"/>
<polyline points="8.3,543.2 11.1,541.7 13.9,537.7 16.6,533.8 19.4,531.7 22.2,529.8 25.0,532.0 27.8,534.1 30.6,534.2 33.4,533.8 36.1,534.3 38.9,535.2 41.7,538.1 44.5,540.7" fill="none" stroke="#00e800" stroke-width="2.7" stroke-opacity="0.5" stroke-linejoin="round"/>
<polyline points="44.5,540.7 47.3,544.9" fill="none" stroke="#808080" stroke-width="2.7" stroke-opacity="0.5" stroke-linejoin="round"/>
<polyline points="47.3,544.9 50.1,548.8 52.8,555.3 55.6,563.0 58.4,570.6 61.2,577.9 64.0,586.7 66.8,595.4 69.5,604.7 72.3,613.7 75.1,620.5 77.9,626.7 80.7,636.5 83.5,645.8 86.2,651.9 89.0,657.5 91.8,660.2 94.6,662.6 97.4,665.7 100.2,668.6 103.0,670.5 105.7,672.7 108.5,676.2 111.3,679.4 114.1,681.9 116.9,684.6 119.7,687.7 122.4,690.8 125.2,692.5 128.0,693.2 130.8,694.4 133.6,695.8 136.4,695.6 139.1,694.2 141.9,693.0 144.7,692.0 147.5,690.6 150.3,689.3 153.1,688.6 155.8,688.7 158.6,689.3 161.4,690.1 164.2,689.4 167.0,688.1 169.8,687.4 172.6,686.9 175.3,686.3 178.1,685.5 180.9,684.0 183.7,682.4 186.5,680.8 189.3,678.8 192.0,677.8 194.8,677.2" fill="none" stroke="#f01818" stroke-width="2.7" stroke-opacity="0.5" stroke-linejoin="round"/>
<polyline points="194.8,677.2 197.6,675.7 200.4,674.3 203.2,673.5 206.0,672.5 208.7,672.5 211.5,673.0 214.3,673.0 217.1,673.2 219.9,673.7 222.7,674.0 225.4,673.7 228.2,673.5 231.0,671.4 233.8,669.6 236.6,667.1 239.4,664.6 242.2,662.5 244.9,660.6 247.7,658.4 250.5,655.6 253.3,653.1 256.1,650.7" fill="none" stroke="#808080" stroke-width="2.7" stroke-opacity="0.5" stroke-linejoin="round"/>
<polyline points="256.1,650.7 258.9,648.6 261.6,646.5 264.4,644.4 267.2,642.3 270.0,641.6 272.8,640.9 275.6,640.3 278.3,639.8 281.1,639.0 283.9,638.2 286.7,636.6 289.5,634.9 292.3,633.8 295.0,633.0 297.8,632.9 300.6,632.8 303.4,634.8 306.2,637.1 309.0,639.2 311.8,641.1 314.5,641.6 317.3,642.0 320.1,642.6 322.9,643.4 325.7,643.9 328.5,644.2 331.2,644.1 334.0,644.1 336.8,641.9 339.6,639.1 342.4,636.1 345.2,633.4 347.9,630.2 350.7,627.7 353.5,625.5 356.3,623.5 359.1,620.9 361.9,618.6 364.6,615.9 367.4,613.5 370.2,610.7 373.0,607.8 375.8,605.7 378.6,603.7 381.4,602.8 384.1,602.0 386.9,601.4 389.7,600.7 392.5,600.7 395.3,601.4 398.1,600.7 400.8,599.5 403.6,598.3 406.4,597.1 409.2,595.7 412.0,594.4 414.8,592.2 417.5,589.8 420.3,587.8 423.1,585.8 425.9,583.9 428.7,581.9 431.5,579.7 434.2,577.5 437.0,576.4 439.8,575.2 442.6,573.3 445.4,571.3 448.2,568.0 451.0,564.4 453.7,559.2 456.5,553.3 459.3,545.0 462.1,537.1 464.9,522.3 467.7,507.9 470.4,494.2 473.2,480.9 476.0,466.0 478.8,452.0 481.6,437.3 484.4,423.1 487.1,412.0 489.9,402.1 492.7,391.2 495.5,380.0 498.3,370.6 501.1,361.9 503.8,355.2 506.6,349.6 509.4,349.3 512.2,350.1 515.0,350.8 517.8,351.4 520.6,349.3 523.3,345.9 526.1,342.7 528.9,339.3 531.7,336.0 534.5,332.6 537.3,329.6 540.0,326.9 542.8,327.6 545.6,330.1 548.4,332.2 551.2,334.2 554.0,335.5 556.7,336.3 559.5,335.3 562.3,333.5 565.1,331.9 567.9,330.6 570.7,328.6 573.4,326.6 576.2,323.4 579.0,319.3 581.8,315.3 584.6,311.5 587.4,307.7 590.2,304.1 592.9,300.2 595.7,296.7 598.5,294.5 601.3,292.6 604.1,290.0 606.9,287.3 609.6,286.2 612.4,285.3 615.2,285.2 618.0,285.2 620.8,285.3 623.6,285.3 626.3,284.3 629.1,282.7 631.9,278.3 634.7,274.0 637.5,269.4 640.3,265.1 643.0,262.6 645.8,260.3 648.6,259.2 651.4,258.9 654.2,258.1 657.0,257.1 659.8,256.1 662.5,255.1 665.3,254.3 668.1,253.9 670.9,254.9 673.7,256.1 676.5,256.9 679.2,257.2 682.0,255.8 684.8,254.1 687.6,252.5 690.4,251.3 693.2,249.9 695.9,248.3 698.7,246.9 701.5,245.6 704.3,245.1 707.1,244.7 709.9,245.3 712.6,246.1 715.4,248.3 718.2,251.4 721.0,253.7 723.8,255.5" fill="none" stroke="#00e800" stroke-width="2.7" stroke-opacity="0.5" stroke-linejoin="round"/>
<polyline points="723.8,255.5 726.6,258.5 729.4,262.5 732.1,266.9 734.9,271.2 737.7,274.5 740.5,277.4 743.3,279.6 746.1,281.5 748.8,282.7 751.6,283.8 754.4,285.3 757.2,286.7 760.0,288.4 762.8,290.2 765.5,290.1 768.3,289.0 771.1,288.4 773.9,288.3 776.7,289.4 779.5,291.0 782.2,292.1 785.0,293.3 787.8,295.7" fill="none" stroke="#808080" stroke-width="2.7" stroke-opacity="0.5" stroke-linejoin="round"/>
<polyline points="787.8,295.7 790.6,298.9 793.4,302.2 796.2,305.2 799.0,308.2 801.7,311.0 804.5,313.5 807.3,315.7 810.1,317.8 812.9,320.1 815.7,320.7 818.4,320.6 821.2,317.8 824.0,314.4 826.8,311.1 829.6,308.0 832.4,305.6 835.1,303.6 837.9,302.0" fill="none" stroke="#f01818" stroke-width="2.7" stroke-opacity="0.5" stroke-linejoin="round"/>
<polyline points="837.9,302.0 840.7,300.5 843.5,299.0 846.3,297.5 849.1,296.9 851.8,296.5 854.6,295.6" fill="none" stroke="#808080" stroke-width="2.7" stroke-opacity="0.5" stroke-linejoin="round"/>
<polyline points="854.6,295.6 857.4,294.6 860.2,293.8 863.0,293.1 865.8,292.6 868.6,292.5 871.3,293.5 874.1,294.7" fill="none" stroke="#00e800" stroke-width="2.7" stroke-opacity="0.5" stroke-linejoin="round"/>
<polyline points="874.1,294.7 876.9,296.3" fill="none" stroke="#808080" stroke-width="2.7" stroke-opacity="0.5" stroke-linejoin="round"/>
<polyline points="876.9,296.3 879.7,298.3 882.5,300.4 885.3,302.2 888.0,303.5 890.8,304.4 893.6,305.4 896.4,306.2 899.2,308.1 902.0,310.6 904.7,313.0 907.5,315.2 910.3,316.2 913.1,316.3 915.9,316.2 918.7,316.2 921.4,314.5 924.2,312.8 927.0,311.6 929.8,310.4 932.6,307.4" fill="none" stroke="#f01818" stroke-width="2.7" stroke-opacity="0.5" stroke-linejoin="round"/>
<polyline points="932.6,307.4 935.4,304.0 938.2,301.3" fill="none" stroke="#808080" stroke-width="2.7" stroke-opacity="0.5" stroke-linejoin="round"/>
<polyline points="938.2,301.3 940.9,298.7 943.7,296.8 946.5,295.3 949.3,293.7 952.1,292.5 954.9,292.1 957.6,292.1 960.4,291.0 963.2,289.6 966.0,288.3 968.8,287.3 971.6,286.2 974.3,285.0 977.1,283.4 979.9,281.8 982.7,280.0 985.5,277.9 988.3,275.0 991.0,271.8 993.8,269.1 996.6,266.7 999.4,266.0 1002.2,265.4 1005.0,264.5 1007.8,263.7 1010.5,261.7 1013.3,259.5 1016.1,257.1 1018.9,255.8 1021.7,252.8 1024.5,249.4 1027.2,246.3 1030.0,243.4 1032.8,240.7 1035.6,238.4 1038.4,236.3 1041.2,234.1" fill="none" stroke="#00e800" stroke-width="2.7" stroke-opacity="0.5" stroke-linejoin="round"/>
<polyline points="8.3,544.1 11.1,542.7 13.9,539.2 16.6,535.7 19.4,533.8 22.2,532.0 25.0,533.8 27.8,535.5 30.6,535.6 33.4,535.1 36.1,535.6 38.9,536.2 41.7,538.7 44.5,541.0" fill="none" stroke="#00e800" stroke-width="2.7" stroke-opacity="0.5" stroke-linejoin="round"/>
<polyline points="44.5,541.0 47.3,544.7" fill="none" stroke="#808080" stroke-width="2.7" stroke-opacity="0.5" stroke-linejoin="round"/>
<polyline points="47.3,544.7 50.1,548.1 52.8,553.9 55.6,560.7 58.4,567.5 61.2,574.0 64.0,581.9 66.8,589.8 69.5,598.2 72.3,606.4 75.1,612.7 77.9,618.5 80.7,627.5 83.5,636.0 86.2,641.9 89.0,647.3 91.8,650.1 94.6,652.7 97.4,655.9 100.2,658.9 103.0,661.0 105.7,663.5 108.5,667.0 111.3,670.2 114.1,672.8 116.9,675.6 119.7,678.8 122.4,681.9 125.2,683.8 128.0,684.8 130.8,686.4 133.6,687.9 136.4,688.1 139.1,687.3 141.9,686.6 144.7,686.0 147.5,685.1 150.3,684.2 153.1,683.9 155.8,684.2 158.6,684.9 161.4,685.8 164.2,685.4 167.0,684.4 169.8,684.0 172.6,683.8 175.3,683.4 178.1,682.8 180.9,681.7 183.7,680.4 186.5,679.1 189.3,677.4 192.0,676.6 194.8,676.1" fill="none" stroke="#f01818" stroke-width="2.7" stroke-opacity="0.5" stroke-linejoin="round"/>
<polyline points="194.8,676.1 197.6,674.8 200.4,673.7 203.2,673.0 206.0,672.1 208.7,672.2 211.5,672.6 214.3,672.7 217.1,672.8 219.9,673.2 222.7,673.6 225.4,673.3 228.2,673.1 231.0,671.4 233.8,669.7 236.6,667.6 239.4,665.4 242.2,663.5 244.9,661.8 247.7,659.8 250.5,657.3 253.3,655.0 256.1,652.7" fill="none" stroke="#808080" stroke-width="2.7" stroke-opacity="0.5" stroke-linejoin="round"/>
<polyline points="256.1,652.7 258.9,650.8 261.6,648.9 264.4,646.9 267.2,644.9 270.0,644.2 272.8,643.4 275.6,642.8 278.3,642.2 281.1,641.4 283.9,640.6 286.7,639.1 289.5,637.4 292.3,636.4 295.0,635.5 297.8,635.3 300.6,635.1 303.4,636.8 306.2,638.7 309.0,640.5 311.8,642.0 314.5,642.4 317.3,642.8 320.1,643.3 322.9,643.9 325.7,644.3 328.5,644.6 331.2,644.5 334.0,644.5 336.8,642.5 339.6,640.0 342.4,637.4 345.2,634.9 347.9,632.0 350.7,629.7 353.5,627.7 356.3,625.8 359.1,623.5 361.9,621.3 364.6,618.8 367.4,616.6 370.2,613.9 373.0,611.3 375.8,609.2 378.6,607.2 381.4,606.3 384.1,605.4 386.9,604.7 389.7,603.9 392.5,603.8 395.3,604.3 398.1,603.5 400.8,602.3 403.6,601.2 406.4,599.9 409.2,598.5 412.0,597.3 414.8,595.2 417.5,593.0 420.3,591.1 423.1,589.1 425.9,587.3 428.7,585.3 431.5,583.2 434.2,581.2 437.0,580.0 439.8,578.8 442.6,576.9 445.4,575.0 448.2,571.9 451.0,568.6 453.7,563.8 456.5,558.3 459.3,550.8 462.1,543.6 464.9,530.2 467.7,517.1 470.4,504.6 473.2,492.4 476.0,478.7 478.8,465.7 481.6,452.1 484.4,438.7 487.1,428.2 489.9,418.6 492.7,408.2 495.5,397.5 498.3,388.3 501.1,379.7 503.8,373.0 506.6,367.1 509.4,365.9 512.2,365.9 515.0,365.7 517.8,365.5 520.6,363.0 523.3,359.3 526.1,355.8 528.9,352.2 531.7,348.7 534.5,345.0 537.3,341.8 540.0,338.8 542.8,338.8 545.6,340.5 548.4,341.9 551.2,343.1 554.0,343.8 556.7,344.1 559.5,342.9 562.3,340.9 565.1,339.1 567.9,337.6 570.7,335.6 573.4,333.4 576.2,330.3 579.0,326.3 581.8,322.4 584.6,318.7 587.4,315.0 590.2,311.5 592.9,307.7 595.7,304.3 598.5,302.0 601.3,299.9 604.1,297.3 606.9,294.6 609.6,293.2 612.4,292.1 615.2,291.7 618.0,291.3 620.8,291.2 623.6,290.8 626.3,289.7 629.1,288.0 631.9,283.9 634.7,279.8 637.5,275.5 640.3,271.4 643.0,268.9 645.8,266.6 648.6,265.3 651.4,264.7 654.2,263.7 657.0,262.6 659.8,261.5 662.5,260.3 665.3,259.3 668.1,258.7 670.9,259.4 673.7,260.2 676.5,260.7 679.2,260.8 682.0,259.4 684.8,257.8 687.6,256.2 690.4,254.9 693.2,253.5 695.9,251.9 698.7,250.5 701.5,249.2 704.3,248.6 707.1,248.1 709.9,248.4 712.6,249.0 715.4,250.8 718.2,253.4 721.0,255.3 723.8,256.8" fill="none" stroke="#00e800" stroke-width="2.7" stroke-opacity="0.5" stroke-linejoin="round"/>
<polyline points="723.8,256.8 726.6,259.4 729.4,262.9 732.1,266.7 734.9,270.5 737.7,273.4 740.5,276.0 743.3,278.0 746.1,279.7 748.8,280.9 751.6,281.9 754.4,283.4 757.2,284.7 760.0,286.3 762.8,287.9 765.5,287.9 768.3,287.1 771.1,286.7 773.9,286.7 776.7,287.8 779.5,289.2 782.2,290.3 785.0,291.4 787.8,293.6" fill="none" stroke="#808080" stroke-width="2.7" stroke-opacity="0.5" stroke-linejoin="round"/>
<polyline points="787.8,293.6 790.6,296.5 793.4,299.5 796.2,302.3 799.0,305.0 801.7,307.6 804.5,310.0 807.3,312.1 810.1,314.2 812.9,316.3 815.7,317.1 818.4,317.1 821.2,314.8 824.0,312.0 826.8,309.2 829.6,306.6 832.4,304.5 835.1,302.8 837.9,301.5" fill="none" stroke="#f01818" stroke-width="2.7" stroke-opacity="0.5" stroke-linejoin="round"/>
<polyline points="837.9,301.5 840.7,300.2 843.5,298.9 846.3,297.6 849.1,297.0 851.8,296.7 854.6,295.9" fill="none" stroke="#808080" stroke-width="2.7" stroke-opacity="0.5" stroke-linejoin="round"/>
<polyline points="854.6,295.9 857.4,295.0 860.2,294.3 863.0,293.6 865.8,293.2 868.6,293.0 871.3,293.9 874.1,294.9" fill="none" stroke="#00e800" stroke-width="2.7" stroke-opacity="0.5" stroke-linejoin="round"/>
<polyline points="874.1,294.9 876.9,296.3" fill="none" stroke="#808080" stroke-width="2.7" stroke-opacity="0.5" stroke-linejoin="round"/>
<polyline points="876.9,296.3 879.7,298.1 882.5,300.0 885.3,301.5 888.0,302.7 890.8,303.6 893.6,304.5 896.4,305.2 899.2,307.0 902.0,309.2 904.7,311.3 907.5,313.4 910.3,314.3 913.1,314.6 915.9,314.5 918.7,314.6 921.4,313.1 924.2,311.7 927.0,310.7 929.8,309.7 932.6,307.2" fill="none" stroke="#f01818" stroke-width="2.7" stroke-opacity="0.5" stroke-linejoin="round"/>
<polyline points="932.6,307.2 935.4,304.2 938.2,301.8" fill="none" stroke="#808080" stroke-width="2.7" stroke-opacity="0.5" stroke-linejoin="round"/>
<polyline points="938.2,301.8 940.9,299.5 943.7,297.8 946.5,296.4 949.3,295.0 952.1,293.8 954.9,293.4 957.6,293.3 960.4,292.3 963.2,291.0 966.0,289.8 968.8,288.9 971.6,287.8 974.3,286.7 977.1,285.2 979.9,283.7 982.7,282.0 985.5,280.1 988.3,277.5 991.0,274.5 993.8,272.0 996.6,269.7 999.4,269.0 1002.2,268.3 1005.0,267.4 1007.8,266.5 1010.5,264.6 1013.3,262.5 1016.1,260.3 1018.9,259.0 1021.7,256.2 1024.5,253.1 1027.2,250.2 1030.0,247.4 1032.8,244.8 1035.6,242.6 1038.4,240.5 1041.2,238.4" fill="none" stroke="#00e800" stroke-width="2.7" stroke-opacity="0.5" stroke-linejoin="round"/>
<polyline points="8.3,544.9 11.1,543.6 13.9,540.4 16.6,537.3 19.4,535.5 22.2,533.8 25.0,535.4 27.8,536.9 30.6,536.8 33.4,536.4 36.1,536.7 38.9,537.3 41.7,539.4 44.5,541.4" fill="none" stroke="#00e800" stroke-width="2.7" stroke-opacity="0.5" stroke-linejoin="round"/>
<polyline points="44.5,541.4 47.3,544.7" fill="none" stroke="#808080" stroke-width="2.7" stroke-opacity="0.5" stroke-linejoin="round"/>
<polyline points="47.3,544.7 50.1,547.7 52.8,552.9 55.6,559.0 58.4,565.1 61.2,571.1 64.0,578.2 66.8,585.4 69.5,593.1 72.3,600.6 75.1,606.4 77.9,611.9 80.7,620.1 83.5,628.0 86.2,633.6 89.0,638.7 91.8,641.6 94.6,644.3 97.4,647.5 100.2,650.5 103.0,652.8 105.7,655.3 108.5,658.8 111.3,662.0 114.1,664.7 116.9,667.5 119.7,670.7 122.4,673.8 125.2,675.9 128.0,677.1 130.8,678.8 133.6,680.5 136.4,681.0 139.1,680.6 141.9,680.3 144.7,680.0 147.5,679.5 150.3,678.9 153.1,678.8 155.8,679.4 158.6,680.2 161.4,681.2 164.2,681.1 167.0,680.4 169.8,680.2 172.6,680.1 175.3,680.0 178.1,679.6 180.9,678.7 183.7,677.7 186.5,676.6 189.3,675.2 192.0,674.6 194.8,674.2" fill="none" stroke="#f01818" stroke-width="2.7" stroke-opacity="0.5" stroke-linejoin="round"/>
<polyline points="194.8,674.2 197.6,673.2 200.4,672.2 203.2,671.7 206.0,671.0 208.7,671.1 211.5,671.5 214.3,671.6 217.1,671.8 219.9,672.2 222.7,672.5 225.4,672.4 228.2,672.3 231.0,670.7 233.8,669.3 236.6,667.4 239.4,665.4 242.2,663.8 244.9,662.2 247.7,660.4 250.5,658.1 253.3,656.1 256.1,654.0" fill="none" stroke="#808080" stroke-width="2.7" stroke-opacity="0.5" stroke-linejoin="round"/>
<polyline points="256.1,654.0 258.9,652.2 261.6,650.5 264.4,648.6 267.2,646.8 270.0,646.0 272.8,645.3 275.6,644.6 278.3,644.0 281.1,643.2 283.9,642.4 286.7,641.0 289.5,639.5 292.3,638.4 295.0,637.6 297.8,637.3 300.6,637.0 303.4,638.4 306.2,640.1 309.0,641.6 311.8,642.9 314.5,643.3 317.3,643.5 320.1,643.9 322.9,644.5 325.7,644.8 328.5,645.0 331.2,644.9 334.0,644.9 336.8,643.1 339.6,640.9 342.4,638.5 345.2,636.2 347.9,633.6 350.7,631.5 353.5,629.6 356.3,627.9 359.1,625.6 361.9,623.6 364.6,621.3 367.4,619.2 370.2,616.7 373.0,614.2 375.8,612.3 378.6,610.4 381.4,609.4 384.1,608.5 386.9,607.7 389.7,606.9 392.5,606.7 395.3,606.9 398.1,606.1 400.8,604.9 403.6,603.8 406.4,602.6 409.2,601.3 412.0,600.0 414.8,598.0 417.5,595.9 420.3,594.1 423.1,592.2 425.9,590.4 428.7,588.6 431.5,586.6 434.2,584.6 437.0,583.3 439.8,582.1 442.6,580.4 445.4,578.4 448.2,575.6 451.0,572.4 453.7,568.0 456.5,562.9 459.3,556.0 462.1,549.3 464.9,537.2 467.7,525.1 470.4,513.6 473.2,502.3 476.0,489.6 478.8,477.5 481.6,464.7 484.4,452.2 487.1,442.2 489.9,433.0 492.7,423.0 495.5,412.8 498.3,403.9 501.1,395.5 503.8,388.7 506.6,382.8 509.4,381.1 512.2,380.3 515.0,379.6 517.8,378.8 520.6,376.0 523.3,372.1 526.1,368.4 528.9,364.6 531.7,360.9 534.5,357.1 537.3,353.7 540.0,350.5 542.8,350.0 545.6,351.0 548.4,351.8 551.2,352.5 554.0,352.7 556.7,352.6 559.5,351.1 562.3,348.9 565.1,347.0 567.9,345.3 570.7,343.2 573.4,340.9 576.2,337.8 579.0,333.9 581.8,330.1 584.6,326.5 587.4,322.8 590.2,319.3 592.9,315.6 595.7,312.2 598.5,309.8 601.3,307.6 604.1,304.9 606.9,302.2 609.6,300.6 612.4,299.3 615.2,298.6 618.0,298.0 620.8,297.6 623.6,297.0 626.3,295.7 629.1,294.0 631.9,290.0 634.7,286.1 637.5,282.0 640.3,278.0 643.0,275.5 645.8,273.2 648.6,271.7 651.4,270.9 654.2,269.7 657.0,268.5 659.8,267.2 662.5,265.9 665.3,264.8 668.1,264.0 670.9,264.4 673.7,264.9 676.5,265.2 679.2,265.1 682.0,263.6 684.8,262.0 687.6,260.4 690.4,259.1 693.2,257.6 695.9,256.0 698.7,254.6 701.5,253.2 704.3,252.5 707.1,251.9 709.9,252.0 712.6,252.3 715.4,253.9 718.2,256.0 721.0,257.6 723.8,258.9" fill="none" stroke="#00e800" stroke-width="2.7" stroke-opacity="0.5" stroke-linejoin="round"/>
<polyline points="723.8,258.9 726.6,261.1 729.4,264.1 732.1,267.4 734.9,270.8 737.7,273.4 740.5,275.7 743.3,277.5 746.1,279.1 748.8,280.1 751.6,281.1 754.4,282.4 757.2,283.6 760.0,285.1 762.8,286.6 765.5,286.7 768.3,286.0 771.1,285.7 773.9,285.7 776.7,286.7 779.5,288.0 782.2,289.1 785.0,290.1 787.8,292.1" fill="none" stroke="#808080" stroke-width="2.7" stroke-opacity="0.5" stroke-linejoin="round"/>
<polyline points="787.8,292.1 790.6,294.8 793.4,297.5 796.2,300.1 799.0,302.6 801.7,305.0 804.5,307.3 807.3,309.3 810.1,311.2 812.9,313.2 815.7,314.0 818.4,314.3 821.2,312.3 824.0,309.9 826.8,307.5 829.6,305.3 832.4,303.5 835.1,302.0 837.9,300.8" fill="none" stroke="#f01818" stroke-width="2.7" stroke-opacity="0.5" stroke-linejoin="round"/>
<polyline points="837.9,300.8 840.7,299.7 843.5,298.6 846.3,297.4 849.1,296.9 851.8,296.6 854.6,295.9" fill="none" stroke="#808080" stroke-width="2.7" stroke-opacity="0.5" stroke-linejoin="round"/>
<polyline points="854.6,295.9 857.4,295.2 860.2,294.5 863.0,293.9 865.8,293.5 868.6,293.3 871.3,294.1 874.1,295.0" fill="none" stroke="#00e800" stroke-width="2.7" stroke-opacity="0.5" stroke-linejoin="round"/>
<polyline points="874.1,295.0 876.9,296.2" fill="none" stroke="#808080" stroke-width="2.7" stroke-opacity="0.5" stroke-linejoin="round"/>
<polyline points="876.9,296.2 879.7,297.9 882.5,299.5 885.3,300.9 888.0,302.0 890.8,302.8 893.6,303.7 896.4,304.3 899.2,305.9 902.0,308.0 904.7,309.9 907.5,311.8 910.3,312.7 913.1,313.0 915.9,313.0 918.7,313.1 921.4,311.9 924.2,310.7 927.0,309.9 929.8,309.0 932.6,306.8" fill="none" stroke="#f01818" stroke-width="2.7" stroke-opacity="0.5" stroke-linejoin="round"/>
<polyline points="932.6,306.8 935.4,304.1 938.2,302.0" fill="none" stroke="#808080" stroke-width="2.7" stroke-opacity="0.5" stroke-linejoin="round"/>
<polyline points="938.2,302.0 940.9,300.0 943.7,298.4 946.5,297.1 949.3,295.8 952.1,294.8 954.9,294.4 957.6,294.2 960.4,293.3 963.2,292.1 966.0,291.0 968.8,290.1 971.6,289.1 974.3,288.0 977.1,286.7 979.9,285.2 982.7,283.7 985.5,281.9 988.3,279.5 991.0,276.8 993.8,274.4 996.6,272.3 999.4,271.5 1002.2,270.8 1005.0,269.9 1007.8,269.0 1010.5,267.2 1013.3,265.2 1016.1,263.1 1018.9,261.8 1021.7,259.2 1024.5,256.3 1027.2,253.6 1030.0,250.9 1032.8,248.5 1035.6,246.3 1038.4,244.3 1041.2,242.3" fill="none" stroke="#00e800" stroke-width="2.7" stroke-opacity="0.5" stroke-linejoin="round"/>
<polyline points="8.3,545.6 11.1,544.4 13.9,541.5 16.6,538.6 19.4,537.0 22.2,535.4 25.0,536.7 27.8,538.0 30.6,537.9 33.4,537.5 36.1,537.7 38.9,538.2 41.7,540.1 44.5,541.9" fill="none" stroke="#00e800" stroke-width="2.7" stroke-opacity="0.5" stroke-linejoin="round"/>
<polyline points="44.5,541.9 47.3,544.8" fill="none" stroke="#808080" stroke-width="2.7" stroke-opacity="0.5" stroke-linejoin="round"/>
<polyline points="47.3,544.8 50.1,547.6 52.8,552.2 55.6,557.8 58.4,563.3 61.2,568.7 64.0,575.3 66.8,581.9 69.5,588.9 72.3,595.8 75.1,601.3 77.9,606.4 80.7,614.0 83.5,621.4 86.2,626.6 89.0,631.5 91.8,634.4 94.6,637.1 97.4,640.2 100.2,643.2 103.0,645.6 105.7,648.1 108.5,651.5 111.3,654.7 114.1,657.4 116.9,660.2 119.7,663.4 122.4,666.5 125.2,668.6 128.0,670.0 130.8,671.8 133.6,673.6 136.4,674.4 139.1,674.2 141.9,674.2 144.7,674.2 147.5,673.9 150.3,673.6 153.1,673.8 155.8,674.5 158.6,675.4 161.4,676.5 164.2,676.6 167.0,676.1 169.8,676.1 172.6,676.2 175.3,676.2 178.1,676.0 180.9,675.4 183.7,674.6 186.5,673.8 189.3,672.6 192.0,672.2 194.8,671.9" fill="none" stroke="#f01818" stroke-width="2.7" stroke-opacity="0.5" stroke-linejoin="round"/>
<polyline points="194.8,671.9 197.6,671.1 200.4,670.3 203.2,669.9 206.0,669.3 208.7,669.5 211.5,669.9 214.3,670.1 217.1,670.3 219.9,670.7 222.7,671.1 225.4,671.0 228.2,670.9 231.0,669.6 233.8,668.3 236.6,666.7 239.4,664.9 242.2,663.4 244.9,662.1 247.7,660.4 250.5,658.4 253.3,656.5 256.1,654.7" fill="none" stroke="#808080" stroke-width="2.7" stroke-opacity="0.5" stroke-linejoin="round"/>
<polyline points="256.1,654.7 258.9,653.0 261.6,651.4 264.4,649.7 267.2,648.0 270.0,647.3 272.8,646.6 275.6,645.9 278.3,645.3 281.1,644.5 283.9,643.8 286.7,642.4 289.5,641.0 292.3,640.0 295.0,639.1 297.8,638.9 300.6,638.6 303.4,639.8 306.2,641.2 309.0,642.5 311.8,643.7 314.5,644.0 317.3,644.2 320.1,644.5 322.9,645.0 325.7,645.3 328.5,645.4 331.2,645.3 334.0,645.3 336.8,643.6 339.6,641.6 342.4,639.4 345.2,637.4 347.9,634.9 350.7,633.0 353.5,631.2 356.3,629.6 359.1,627.5 361.9,625.6 364.6,623.4 367.4,621.5 370.2,619.2 373.0,616.8 375.8,614.9 378.6,613.1 381.4,612.1 384.1,611.2 386.9,610.4 389.7,609.5 392.5,609.2 395.3,609.4 398.1,608.5 400.8,607.4 403.6,606.3 406.4,605.1 409.2,603.8 412.0,602.6 414.8,600.6 417.5,598.6 420.3,596.9 423.1,595.1 425.9,593.4 428.7,591.6 431.5,589.6 434.2,587.7 437.0,586.5 439.8,585.3 442.6,583.5 445.4,581.7 448.2,579.0 451.0,576.0 453.7,571.9 456.5,567.1 459.3,560.7 462.1,554.5 464.9,543.3 467.7,532.2 470.4,521.4 473.2,510.9 476.0,499.1 478.8,487.7 481.6,475.8 484.4,464.0 487.1,454.4 489.9,445.6 492.7,436.1 495.5,426.3 498.3,417.7 501.1,409.5 503.8,402.9 506.6,396.9 509.4,394.8 512.2,393.6 515.0,392.4 517.8,391.2 520.6,388.1 523.3,384.1 526.1,380.3 528.9,376.4 531.7,372.6 534.5,368.7 537.3,365.1 540.0,361.8 542.8,360.9 545.6,361.4 548.4,361.7 551.2,361.9 554.0,361.7 556.7,361.3 559.5,359.6 562.3,357.3 565.1,355.2 567.9,353.4 570.7,351.1 573.4,348.7 576.2,345.6 579.0,341.8 581.8,338.1 584.6,334.5 587.4,330.8 590.2,327.4 592.9,323.7 595.7,320.3 598.5,317.8 601.3,315.5 604.1,312.7 606.9,309.9 609.6,308.2 612.4,306.7 615.2,305.8 618.0,305.0 620.8,304.3 623.6,303.5 626.3,302.1 629.1,300.3 631.9,296.5 634.7,292.7 637.5,288.7 640.3,284.8 643.0,282.3 645.8,279.9 648.6,278.3 651.4,277.4 654.2,276.0 657.0,274.7 659.8,273.3 662.5,271.9 665.3,270.6 668.1,269.7 670.9,269.8 673.7,270.1 676.5,270.1 679.2,269.8 682.0,268.3 684.8,266.6 687.6,265.0 690.4,263.7 693.2,262.2 695.9,260.5 698.7,259.0 701.5,257.7 704.3,256.8 707.1,256.1 709.9,256.1 712.6,256.2 715.4,257.4 718.2,259.2 721.0,260.5 723.8,261.6" fill="none" stroke="#00e800" stroke-width="2.7" stroke-opacity="0.5" stroke-linejoin="round"/>
<polyline points="723.8,261.6 726.6,263.4 729.4,266.1 732.1,269.0 734.9,272.0 737.7,274.3 740.5,276.4 743.3,277.9 746.1,279.3 748.8,280.3 751.6,281.1 754.4,282.3 757.2,283.4 760.0,284.8 762.8,286.1 765.5,286.2 768.3,285.6 771.1,285.3 773.9,285.4 776.7,286.3 779.5,287.5 782.2,288.5 785.0,289.4 787.8,291.3" fill="none" stroke="#808080" stroke-width="2.7" stroke-opacity="0.5" stroke-linejoin="round"/>
<polyline points="787.8,291.3 790.6,293.7 793.4,296.2 796.2,298.6 799.0,300.9 801.7,303.2 804.5,305.2 807.3,307.1 810.1,309.0 812.9,310.9 815.7,311.7 818.4,312.0 821.2,310.3 824.0,308.2 826.8,306.2 829.6,304.2 832.4,302.6 835.1,301.3 837.9,300.3" fill="none" stroke="#f01818" stroke-width="2.7" stroke-opacity="0.5" stroke-linejoin="round"/>
<polyline points="837.9,300.3 840.7,299.3 843.5,298.3 846.3,297.3 849.1,296.8 851.8,296.5 854.6,295.9" fill="none" stroke="#808080" stroke-width="2.7" stroke-opacity="0.5" stroke-linejoin="round"/>
<polyline points="854.6,295.9 857.4,295.2 860.2,294.6 863.0,294.1 865.8,293.7 868.6,293.6 871.3,294.2 874.1,295.0" fill="none" stroke="#00e800" stroke-width="2.7" stroke-opacity="0.5" stroke-linejoin="round"/>
<polyline points="874.1,295.0 876.9,296.1" fill="none" stroke="#808080" stroke-width="2.7" stroke-opacity="0.5" stroke-linejoin="round"/>
<polyline points="876.9,296.1 879.7,297.6 882.5,299.1 885.3,300.4 888.0,301.4 890.8,302.1 893.6,302.9 896.4,303.5 899.2,305.1 902.0,306.9 904.7,308.7 907.5,310.4 910.3,311.3 913.1,311.6 915.9,311.7 918.7,311.9 921.4,310.8 924.2,309.8 927.0,309.1 929.8,308.3 932.6,306.3" fill="none" stroke="#f01818" stroke-width="2.7" stroke-opacity="0.5" stroke-linejoin="round"/>
<polyline points="932.6,306.3 935.4,303.9 938.2,302.0" fill="none" stroke="#808080" stroke-width="2.7" stroke-opacity="0.5" stroke-linejoin="round"/>
<polyline points="938.2,302.0 940.9,300.2 943.7,298.8 946.5,297.6 949.3,296.4 952.1,295.5 954.9,295.1 957.6,294.9 960.4,294.1 963.2,292.9 966.0,291.9 968.8,291.0 971.6,290.1 974.3,289.1 977.1,287.9 979.9,286.5 982.7,285.0 985.5,283.4 988.3,281.1 991.0,278.6 993.8,276.4 996.6,274.4 999.4,273.7 1002.2,272.9 1005.0,272.0 1007.8,271.1 1010.5,269.4 1013.3,267.5 1016.1,265.5 1018.9,264.3 1021.7,261.9 1024.5,259.1 1027.2,256.5 1030.0,254.0 1032.8,251.7 1035.6,249.6 1038.4,247.7 1041.2,245.7" fill="none" stroke="#00e800" stroke-width="2.7" stroke-opacity="0.5" stroke-linejoin="round"/>
<polyline points="8.3,546.7 11.1,545.7 13.9,543.2 16.6,540.7 19.4,539.3 22.2,537.9 25.0,538.9 27.8,539.9 30.6,539.8 33.4,539.4 36.1,539.5 38.9,539.9 41.7,541.4 44.5,542.9" fill="none" stroke="#00e800" stroke-width="2.7" stroke-opacity="0.64" stroke-linejoin="round"/>
<polyline points="44.5,542.9 47.3,545.3" fill="none" stroke="#808080" stroke-width="2.7" stroke-opacity="0.64" stroke-linejoin="round"/>
<polyline points="47.3,545.3 50.1,547.5 52.8,551.5 55.6,556.1 58.4,560.8 61.2,565.4 64.0,571.0 66.8,576.6 69.5,582.7 72.3,588.6 75.1,593.4 77.9,597.9 80.7,604.6 83.5,611.0 86.2,615.7 89.0,620.1 91.8,622.9 94.6,625.5 97.4,628.5 100.2,631.4 103.0,633.7 105.7,636.2 108.5,639.5 111.3,642.5 114.1,645.1 116.9,647.9 119.7,650.9 122.4,653.9 125.2,656.1 128.0,657.7 130.8,659.5 133.6,661.5 136.4,662.5 139.1,662.7 141.9,663.1 144.7,663.5 147.5,663.6 150.3,663.7 153.1,664.1 155.8,665.0 158.6,666.1 161.4,667.3 164.2,667.7 167.0,667.6 169.8,667.9 172.6,668.2 175.3,668.5 178.1,668.6 180.9,668.3 183.7,667.9 186.5,667.4 189.3,666.6 192.0,666.5 194.8,666.4" fill="none" stroke="#f01818" stroke-width="2.7" stroke-opacity="0.64" stroke-linejoin="round"/>
<polyline points="194.8,666.4 197.6,665.9 200.4,665.4 203.2,665.3 206.0,664.9 208.7,665.2 211.5,665.7 214.3,666.0 217.1,666.3 219.9,666.8 222.7,667.2 225.4,667.3 228.2,667.3 231.0,666.4 233.8,665.4 236.6,664.1 239.4,662.7 242.2,661.6 244.9,660.5 247.7,659.2 250.5,657.5 253.3,656.0 256.1,654.4" fill="none" stroke="#808080" stroke-width="2.7" stroke-opacity="0.64" stroke-linejoin="round"/>
<polyline points="256.1,654.4 258.9,653.1 261.6,651.7 264.4,650.3 267.2,648.8 270.0,648.2 272.8,647.6 275.6,647.0 278.3,646.5 281.1,645.8 283.9,645.1 286.7,643.9 289.5,642.7 292.3,641.8 295.0,641.0 297.8,640.7 300.6,640.4 303.4,641.3 306.2,642.5 309.0,643.5 311.8,644.5 314.5,644.7 317.3,644.8 320.1,645.1 322.9,645.5 325.7,645.7 328.5,645.8 331.2,645.7 334.0,645.7 336.8,644.3 339.6,642.6 342.4,640.7 345.2,639.0 347.9,636.9 350.7,635.2 353.5,633.6 356.3,632.2 359.1,630.4 361.9,628.7 364.6,626.7 367.4,625.0 370.2,622.9 373.0,620.8 375.8,619.1 378.6,617.5 381.4,616.5 384.1,615.6 386.9,614.8 389.7,613.9 392.5,613.5 395.3,613.5 398.1,612.7 400.8,611.6 403.6,610.5 406.4,609.3 409.2,608.1 412.0,607.0 414.8,605.2 417.5,603.4 420.3,601.7 423.1,600.1 425.9,598.5 428.7,596.8 431.5,595.0 434.2,593.2 437.0,592.0 439.8,590.8 442.6,589.2 445.4,587.4 448.2,585.0 451.0,582.3 453.7,578.6 456.5,574.4 459.3,568.8 462.1,563.3 464.9,553.6 467.7,544.0 470.4,534.5 473.2,525.2 476.0,514.8 478.8,504.8 481.6,494.1 484.4,483.6 487.1,474.9 489.9,466.8 492.7,458.0 495.5,449.1 498.3,441.0 501.1,433.4 503.8,427.0 506.6,421.1 509.4,418.6 512.2,416.8 515.0,415.0 517.8,413.2 520.6,409.9 523.3,405.8 526.1,401.9 528.9,397.9 531.7,394.0 534.5,390.0 537.3,386.3 540.0,382.7 542.8,381.3 545.6,381.1 548.4,380.6 551.2,380.2 554.0,379.4 556.7,378.5 559.5,376.5 562.3,374.0 565.1,371.7 567.9,369.6 570.7,367.2 573.4,364.7 576.2,361.5 579.0,357.8 581.8,354.1 584.6,350.5 587.4,347.0 590.2,343.5 592.9,339.9 595.7,336.5 598.5,333.8 601.3,331.4 604.1,328.5 606.9,325.7 609.6,323.7 612.4,321.9 615.2,320.7 618.0,319.5 620.8,318.5 623.6,317.3 626.3,315.7 629.1,313.7 631.9,310.1 634.7,306.4 637.5,302.6 640.3,298.9 643.0,296.3 645.8,293.9 648.6,292.1 651.4,290.8 654.2,289.2 657.0,287.7 659.8,286.1 662.5,284.5 665.3,283.0 668.1,281.8 670.9,281.5 673.7,281.3 676.5,281.0 679.2,280.4 682.0,278.8 684.8,277.0 687.6,275.3 690.4,273.9 693.2,272.3 695.9,270.6 698.7,269.0 701.5,267.5 704.3,266.5 707.1,265.5 709.9,265.2 712.6,265.0 715.4,265.7 718.2,267.0 721.0,267.8 723.8,268.5" fill="none" stroke="#00e800" stroke-width="2.7" stroke-opacity="0.64" stroke-linejoin="round"/>
<polyline points="723.8,268.5 726.6,269.8 729.4,271.8 732.1,274.1 734.9,276.4 737.7,278.2 740.5,279.8 743.3,281.0 746.1,282.1 748.8,282.8 751.6,283.4 754.4,284.3 757.2,285.2 760.0,286.2 762.8,287.3 765.5,287.4 768.3,286.9 771.1,286.6 773.9,286.6 776.7,287.3 779.5,288.3 782.2,289.0 785.0,289.8 787.8,291.3" fill="none" stroke="#808080" stroke-width="2.7" stroke-opacity="0.64" stroke-linejoin="round"/>
<polyline points="787.8,291.3 790.6,293.4 793.4,295.5 796.2,297.5 799.0,299.5 801.7,301.4 804.5,303.2 807.3,304.8 810.1,306.4 812.9,308.1 815.7,308.9 818.4,309.2 821.2,307.9 824.0,306.2 826.8,304.6 829.6,303.0 832.4,301.7 835.1,300.7 837.9,299.8" fill="none" stroke="#f01818" stroke-width="2.7" stroke-opacity="0.64" stroke-linejoin="round"/>
<polyline points="837.9,299.8 840.7,299.0 843.5,298.2 846.3,297.3 849.1,297.0 851.8,296.7 854.6,296.2" fill="none" stroke="#808080" stroke-width="2.7" stroke-opacity="0.64" stroke-linejoin="round"/>
<polyline points="854.6,296.2 857.4,295.6 860.2,295.1 863.0,294.6 865.8,294.3 868.6,294.1 871.3,294.7 874.1,295.4" fill="none" stroke="#00e800" stroke-width="2.7" stroke-opacity="0.64" stroke-linejoin="round"/>
<polyline points="874.1,295.4 876.9,296.3" fill="none" stroke="#808080" stroke-width="2.7" stroke-opacity="0.64" stroke-linejoin="round"/>
<polyline points="876.9,296.3 879.7,297.5 882.5,298.8 885.3,299.8 888.0,300.7 890.8,301.3 893.6,302.0 896.4,302.6 899.2,303.9 902.0,305.5 904.7,307.0 907.5,308.5 910.3,309.3 913.1,309.6 915.9,309.8 918.7,310.0 921.4,309.2 924.2,308.3 927.0,307.8 929.8,307.2 932.6,305.6" fill="none" stroke="#f01818" stroke-width="2.7" stroke-opacity="0.64" stroke-linejoin="round"/>
<polyline points="932.6,305.6 935.4,303.6 938.2,302.0" fill="none" stroke="#808080" stroke-width="2.7" stroke-opacity="0.64" stroke-linejoin="round"/>
<polyline points="938.2,302.0 940.9,300.5 943.7,299.3 946.5,298.3 949.3,297.3 952.1,296.4 954.9,296.1 957.6,295.9 960.4,295.2 963.2,294.2 966.0,293.3 968.8,292.5 971.6,291.7 974.3,290.8 977.1,289.7 979.9,288.5 982.7,287.2 985.5,285.8 988.3,283.8 991.0,281.6 993.8,279.7 996.6,277.9 999.4,277.1 1002.2,276.4 1005.0,275.5 1007.8,274.7 1010.5,273.1 1013.3,271.4 1016.1,269.6 1018.9,268.4 1021.7,266.3 1024.5,263.8 1027.2,261.5 1030.0,259.3 1032.8,257.1 1035.6,255.2 1038.4,253.4 1041.2,251.5" fill="none" stroke="#00e800" stroke-width="2.7" stroke-opacity="0.64" stroke-linejoin="round"/>
</g>
<line x1="952" y1="305.5" x2="1435" y2="305.5" stroke="#ff9800" stroke-width="1" shape-rendering="crispEdges"/>
<line x1="905" y1="365.5" x2="1435" y2="365.5" stroke="#2196f3" stroke-width="1" shape-rendering="crispEdges"/>
<line x1="681.6" y1="194" x2="829" y2="307.6" stroke="#555" stroke-width="1"/>
<line x1="676" y1="289" x2="760" y2="383" stroke="#555" stroke-width="1"/>
<line x1="141" y1="663.6" x2="194.5" y2="636" stroke="#555" stroke-width="1"/>
<line x1="158" y1="710.4" x2="198" y2="680" stroke="#555" stroke-width="1"/>
<ellipse cx="1044.3" cy="232.7" rx="70.7" ry="70.3" fill="none" stroke="#000" stroke-width="2"/>
<circle cx="17.1" cy="450.5" r="10.6" fill="none" stroke="#00ff00" stroke-width="1.2"/>
<text x="17.1" y="455.1" text-anchor="middle" font-size="15.5" fill="#00f000" stroke="#00f000" stroke-width="0.45">e</text>
<circle cx="481.6" cy="176.7" r="10.6" fill="none" stroke="#00ff00" stroke-width="1.2"/>
<text x="481.6" y="181.29999999999998" text-anchor="middle" font-size="15.5" fill="#00f000" stroke="#00f000" stroke-width="0.45">iii</text>
<circle cx="498.8" cy="173.5" r="10.6" fill="none" stroke="#00ff00" stroke-width="1.2"/>
<text x="498.8" y="178.1" text-anchor="middle" font-size="15.5" fill="#00f000" stroke="#00f000" stroke-width="0.45">v</text>
<circle cx="490" cy="268.7" r="10.6" fill="none" stroke="#00ff00" stroke-width="1.2"/>
<text x="490" y="273.3" text-anchor="middle" font-size="15.5" fill="#00f000" stroke="#00f000" stroke-width="0.45">iv</text>
<circle cx="637.5" cy="172" r="10.6" fill="none" stroke="#00ff00" stroke-width="1.2"/>
<text x="637.5" y="177.2" text-anchor="middle" font-size="15.5" fill="#00f000" stroke="#00f000" stroke-width="0.45">b</text>
<circle cx="548.7" cy="412.8" r="10.6" fill="none" stroke="#00ff00" stroke-width="1.2"/>
<text x="548.7" y="417.40000000000003" text-anchor="middle" font-size="15.5" fill="#00f000" stroke="#00f000" stroke-width="0.45">a</text>
<circle cx="849.6" cy="227.4" r="10.6" fill="none" stroke="#00ff00" stroke-width="1.2"/>
<text x="849.6" y="232.0" text-anchor="middle" font-size="15.5" fill="#00f000" stroke="#00f000" stroke-width="0.45">i</text>
<circle cx="813.5" cy="396.6" r="10.6" fill="none" stroke="#00ff00" stroke-width="1.2"/>
<text x="813.5" y="401.20000000000005" text-anchor="middle" font-size="15.5" fill="#00f000" stroke="#00f000" stroke-width="0.45">c</text>
<circle cx="907.4" cy="386.8" r="10.6" fill="none" stroke="#00ff00" stroke-width="1.2"/>
<text x="907.4" y="391.40000000000003" text-anchor="middle" font-size="15.5" fill="#00f000" stroke="#00f000" stroke-width="0.45">ii</text>
<circle cx="253.5" cy="580.9" r="10.6" fill="none" stroke="#00ff00" stroke-width="1.2"/>
<text x="253.5" y="585.5" text-anchor="middle" font-size="15.5" fill="#00f000" stroke="#00f000" stroke-width="0.45">v</text>
<circle cx="371" cy="540" r="10.6" fill="none" stroke="#00ff00" stroke-width="1.2"/>
<text x="371" y="544.6" text-anchor="middle" font-size="15.5" fill="#00f000" stroke="#00f000" stroke-width="0.45">i</text>
<circle cx="387.5" cy="649.5" r="10.6" fill="none" stroke="#00ff00" stroke-width="1.2"/>
<text x="387.5" y="654.1" text-anchor="middle" font-size="15.5" fill="#00f000" stroke="#00f000" stroke-width="0.45">ii</text>
<circle cx="204" cy="626.7" r="10.6" fill="none" stroke="#00ff00" stroke-width="1.2"/>
<text x="204" y="631.3000000000001" text-anchor="middle" font-size="15.5" fill="#00f000" stroke="#00f000" stroke-width="0.45">iii</text>
<circle cx="219.5" cy="735.6" r="10.6" fill="none" stroke="#00ff00" stroke-width="1.2"/>
<text x="219.5" y="740.2" text-anchor="middle" font-size="15.5" fill="#00f000" stroke="#00f000" stroke-width="0.45">iv</text>
<circle cx="78" cy="719" r="10.6" fill="none" stroke="#00ff00" stroke-width="1.2"/>
<text x="78" y="723.6" text-anchor="middle" font-size="15.5" fill="#00f000" stroke="#00f000" stroke-width="0.45">i</text>
<circle cx="84" cy="828" r="10.6" fill="none" stroke="#00ff00" stroke-width="1.2"/>
<text x="84" y="832.6" text-anchor="middle" font-size="15.5" fill="#00f000" stroke="#00f000" stroke-width="0.45">ii</text>
<text x="13.8" y="433" text-anchor="middle" font-size="17.5" fill="#0000ff" stroke="#0000ff" stroke-width="0.2" >B</text>
<text x="495" y="161" text-anchor="middle" font-size="17" fill="#0000ff" stroke="#0000ff" stroke-width="0.2" >3</text>
<text x="250" y="559" text-anchor="middle" font-size="17" fill="#0000ff" stroke="#0000ff" stroke-width="0.2" >1</text>
<text x="309.8" y="707" text-anchor="middle" font-size="17" fill="#0000ff" stroke="#0000ff" stroke-width="0.2" >2</text>
<text x="69" y="836" text-anchor="middle" font-size="17" fill="#0000ff" stroke="#0000ff" stroke-width="0.2" >C</text>
<text x="813.9" y="425.6" text-anchor="middle" font-size="17" fill="#0000ff" stroke="#0000ff" stroke-width="0.2" >4</text>
<text x="843.3" y="423.7" text-anchor="middle" font-size="16.3" fill="#0000ff">平台</text>
<text x="814" y="444" text-anchor="middle" font-size="16.5" fill="#8c8c8c" stroke="#8c8c8c" stroke-width="0.4" >A</text>
<text x="1022" y="149" text-anchor="middle" font-size="16.5" fill="#8c8c8c" stroke="#8c8c8c" stroke-width="0.4" >B</text>
<text x="1225.2" y="427" text-anchor="middle" font-size="17" fill="#8c8c8c" stroke="#8c8c8c" stroke-width="0.4" >C</text>
<text x="1225" y="447.8" text-anchor="middle" font-size="18.6" fill="#b2b5be" stroke="#b2b5be" stroke-width="0.4" >alt (X) ???</text>
<text x="473" y="134" text-anchor="middle" font-size="20" fill="#b2b5be" stroke="#b2b5be" stroke-width="0.4" letter-spacing="0.9">alt C/(W)</text>
<text x="51" y="900" text-anchor="middle" font-size="20" fill="#b2b5be" stroke="#b2b5be" stroke-width="0.4" letter-spacing="0.5">alt B</text>
<text x="98" y="869" text-anchor="middle" font-size="17" fill="#ff00ff">(B) 锯齿浪</text>
<g stroke="#555" shape-rendering="crispEdges">
<line x1="1436" y1="66.5" x2="1440" y2="66.5"/>
<line x1="1436" y1="119.5" x2="1440" y2="119.5"/>
<line x1="1436" y1="173.5" x2="1440" y2="173.5"/>
<line x1="1436" y1="455.5" x2="1440" y2="455.5"/>
<line x1="1436" y1="485.5" x2="1440" y2="485.5"/>
<line x1="1436" y1="517.5" x2="1440" y2="517.5"/>
<line x1="1436" y1="548.5" x2="1440" y2="548.5"/>
<line x1="1436" y1="581.5" x2="1440" y2="581.5"/>
<line x1="1436" y1="613.5" x2="1440" y2="613.5"/>
<line x1="1436" y1="646.5" x2="1440" y2="646.5"/>
<line x1="1436" y1="680.5" x2="1440" y2="680.5"/>
<line x1="1436" y1="714.5" x2="1440" y2="714.5"/>
<line x1="1436" y1="748.5" x2="1440" y2="748.5"/>
<line x1="1436" y1="783.5" x2="1440" y2="783.5"/>
<line x1="1436" y1="814.5" x2="1440" y2="814.5"/>
<line x1="1436" y1="843.5" x2="1440" y2="843.5"/>
<line x1="1436" y1="872.5" x2="1440" y2="872.5"/>
<line x1="1436" y1="902.5" x2="1440" y2="902.5"/>
</g>
<text x="1444" y="69.9" font-size="10.7" fill="#222">3640.000</text>
<text x="1444" y="122.9" font-size="10.7" fill="#222">3560.000</text>
<text x="1444" y="176.9" font-size="10.7" fill="#222">3480.000</text>
<text x="1444" y="458.9" font-size="10.7" fill="#222">3090.000</text>
<text x="1444" y="488.9" font-size="10.7" fill="#222">3050.000</text>
<text x="1444" y="520.9" font-size="10.7" fill="#222">3010.000</text>
<text x="1444" y="551.9" font-size="10.7" fill="#222">2970.000</text>
<text x="1444" y="584.9" font-size="10.7" fill="#222">2930.000</text>
<text x="1444" y="616.9" font-size="10.7" fill="#222">2890.000</text>
<text x="1444" y="649.9" font-size="10.7" fill="#222">2850.000</text>
<text x="1444" y="683.9" font-size="10.7" fill="#222">2810.000</text>
<text x="1444" y="717.9" font-size="10.7" fill="#222">2770.000</text>
<text x="1444" y="751.9" font-size="10.7" fill="#222">2730.000</text>
<text x="1444" y="786.9" font-size="10.7" fill="#222">2690.000</text>
<text x="1444" y="817.9" font-size="10.7" fill="#222">2655.000</text>
<text x="1444" y="846.9" font-size="10.7" fill="#222">2623.000</text>
<text x="1444" y="875.9" font-size="10.7" fill="#222">2590.500</text>
<text x="1444" y="905.9" font-size="10.7" fill="#222">2558.500</text>
<rect x="1435" y="190" width="62" height="17" fill="#20124d"/>
<rect x="1435" y="207" width="62" height="102" fill="#00ffff"/>
<rect x="1435" y="309" width="62" height="102" fill="#00ea00"/>
<rect x="1435" y="411" width="62" height="17" fill="#ff9800"/>
<rect x="1435" y="428" width="62" height="17" fill="#2196f3"/>
<line x1="1435" y1="198.5" x2="1439" y2="198.5" stroke="#fff" shape-rendering="crispEdges"/>
<text x="1444" y="201.9" font-size="10.7" fill="#fff" font-weight="bold">3443.764</text>
<line x1="1435" y1="215.5" x2="1439" y2="215.5" stroke="#000" shape-rendering="crispEdges"/>
<text x="1444" y="218.9" font-size="10.7" fill="#000">3442.769</text>
<line x1="1435" y1="232.5" x2="1439" y2="232.5" stroke="#000" shape-rendering="crispEdges"/>
<text x="1444" y="235.9" font-size="10.7" fill="#000">3441.772</text>
<line x1="1435" y1="249.5" x2="1439" y2="249.5" stroke="#000" shape-rendering="crispEdges"/>
<text x="1444" y="252.9" font-size="10.7" fill="#000">3437.405</text>
<line x1="1435" y1="266.5" x2="1439" y2="266.5" stroke="#000" shape-rendering="crispEdges"/>
<text x="1444" y="269.9" font-size="10.7" fill="#000">3433.728</text>
<line x1="1435" y1="283.5" x2="1439" y2="283.5" stroke="#000" shape-rendering="crispEdges"/>
<text x="1444" y="286.9" font-size="10.7" fill="#000">3429.914</text>
<line x1="1435" y1="300.5" x2="1439" y2="300.5" stroke="#000" shape-rendering="crispEdges"/>
<text x="1444" y="303.9" font-size="10.7" fill="#000">3424.221</text>
<line x1="1435" y1="317.5" x2="1439" y2="317.5" stroke="#000" shape-rendering="crispEdges"/>
<text x="1444" y="320.9" font-size="10.7" fill="#000">3399.111</text>
<line x1="1435" y1="334.5" x2="1439" y2="334.5" stroke="#000" shape-rendering="crispEdges"/>
<text x="1444" y="337.9" font-size="10.7" fill="#000">3392.225</text>
<line x1="1435" y1="351.5" x2="1439" y2="351.5" stroke="#000" shape-rendering="crispEdges"/>
<text x="1444" y="354.9" font-size="10.7" fill="#000">3386.067</text>
<line x1="1435" y1="368.5" x2="1439" y2="368.5" stroke="#000" shape-rendering="crispEdges"/>
<text x="1444" y="371.9" font-size="10.7" fill="#000">3380.577</text>
<line x1="1435" y1="385.5" x2="1439" y2="385.5" stroke="#000" shape-rendering="crispEdges"/>
<text x="1444" y="388.9" font-size="10.7" fill="#000">3375.681</text>
<line x1="1435" y1="402.5" x2="1439" y2="402.5" stroke="#000" shape-rendering="crispEdges"/>
<text x="1444" y="405.9" font-size="10.7" fill="#000">3367.340</text>
<line x1="1435" y1="419.5" x2="1439" y2="419.5" stroke="#000" shape-rendering="crispEdges"/>
<text x="1444" y="422.9" font-size="10.7" fill="#000">3292.037</text>
<line x1="1435" y1="436.5" x2="1439" y2="436.5" stroke="#fff" shape-rendering="crispEdges"/>
<text x="1444" y="439.9" font-size="10.7" fill="#fff" font-weight="bold">3209.909</text>
<rect x="1455.5" y="50.5" width="27" height="18" rx="3.5" fill="#fff" stroke="#d6d9e0"/>
<text x="1469" y="63.3" text-anchor="middle" font-size="10" fill="#444">CNY</text>
<g stroke="#555" shape-rendering="crispEdges">
<line x1="25.5" y1="911" x2="25.5" y2="915"/>
<line x1="119.5" y1="911" x2="119.5" y2="915"/>
<line x1="236.5" y1="911" x2="236.5" y2="915"/>
<line x1="336.5" y1="911" x2="336.5" y2="915"/>
<line x1="449.5" y1="911" x2="449.5" y2="915"/>
<line x1="575.5" y1="911" x2="575.5" y2="915"/>
<line x1="692.5" y1="911" x2="692.5" y2="915"/>
<line x1="816.5" y1="911" x2="816.5" y2="915"/>
<line x1="905.5" y1="911" x2="905.5" y2="915"/>
<line x1="1022.5" y1="911" x2="1022.5" y2="915"/>
<line x1="1150.5" y1="911" x2="1150.5" y2="915"/>
<line x1="1265.5" y1="911" x2="1265.5" y2="915"/>
<line x1="1377.5" y1="911" x2="1377.5" y2="915"/>
</g>
<text x="25" y="929" text-anchor="middle" font-size="10.7" fill="#222">9</text>
<text x="119" y="929" text-anchor="middle" font-size="10.7" fill="#222">4月</text>
<text x="236" y="929" text-anchor="middle" font-size="10.7" fill="#222">5月</text>
<text x="336" y="929" text-anchor="middle" font-size="10.7" fill="#222">6月</text>
<text x="449" y="929" text-anchor="middle" font-size="10.7" fill="#222">7月</text>
<text x="575" y="929" text-anchor="middle" font-size="10.7" fill="#222">8月</text>
<text x="692" y="929" text-anchor="middle" font-size="10.7" fill="#222">9月</text>
<text x="815.5" y="929" text-anchor="middle" font-size="10.7" fill="#222">10月</text>
<text x="905" y="929" text-anchor="middle" font-size="10.7" fill="#222">11月</text>
<text x="1022" y="929" text-anchor="middle" font-size="10.7" fill="#222">12月</text>
<text x="1150" y="929" text-anchor="middle" font-size="10.7" fill="#222" font-weight="bold">2021</text>
<text x="1265" y="929" text-anchor="middle" font-size="10.7" fill="#222">2月</text>
<text x="1377" y="929" text-anchor="middle" font-size="10.7" fill="#222">3月</text>
<g transform="translate(6,948)"><g fill="#2196f3"><circle cx="4.9" cy="10.2" r="4.9"/><circle cx="11.1" cy="6.2" r="6.25"/><circle cx="20.8" cy="9.5" r="5.5"/><rect x="4.9" y="8" width="16" height="7.1"/></g><path d="M0.3 13.0 L9.9 5.1 L16.1 11.5 L23.2 4.2" fill="none" stroke="#fff" stroke-width="1.2"/><circle cx="9.9" cy="5.1" r="1.5" fill="#fff"/><circle cx="16.1" cy="11.5" r="1.5" fill="#fff"/></g>
<text x="34" y="960" font-size="12.8" fill="#1a1e2a" stroke="#1a1e2a" stroke-width="0.25">TradingView</text>
</svg>
</body></html>
